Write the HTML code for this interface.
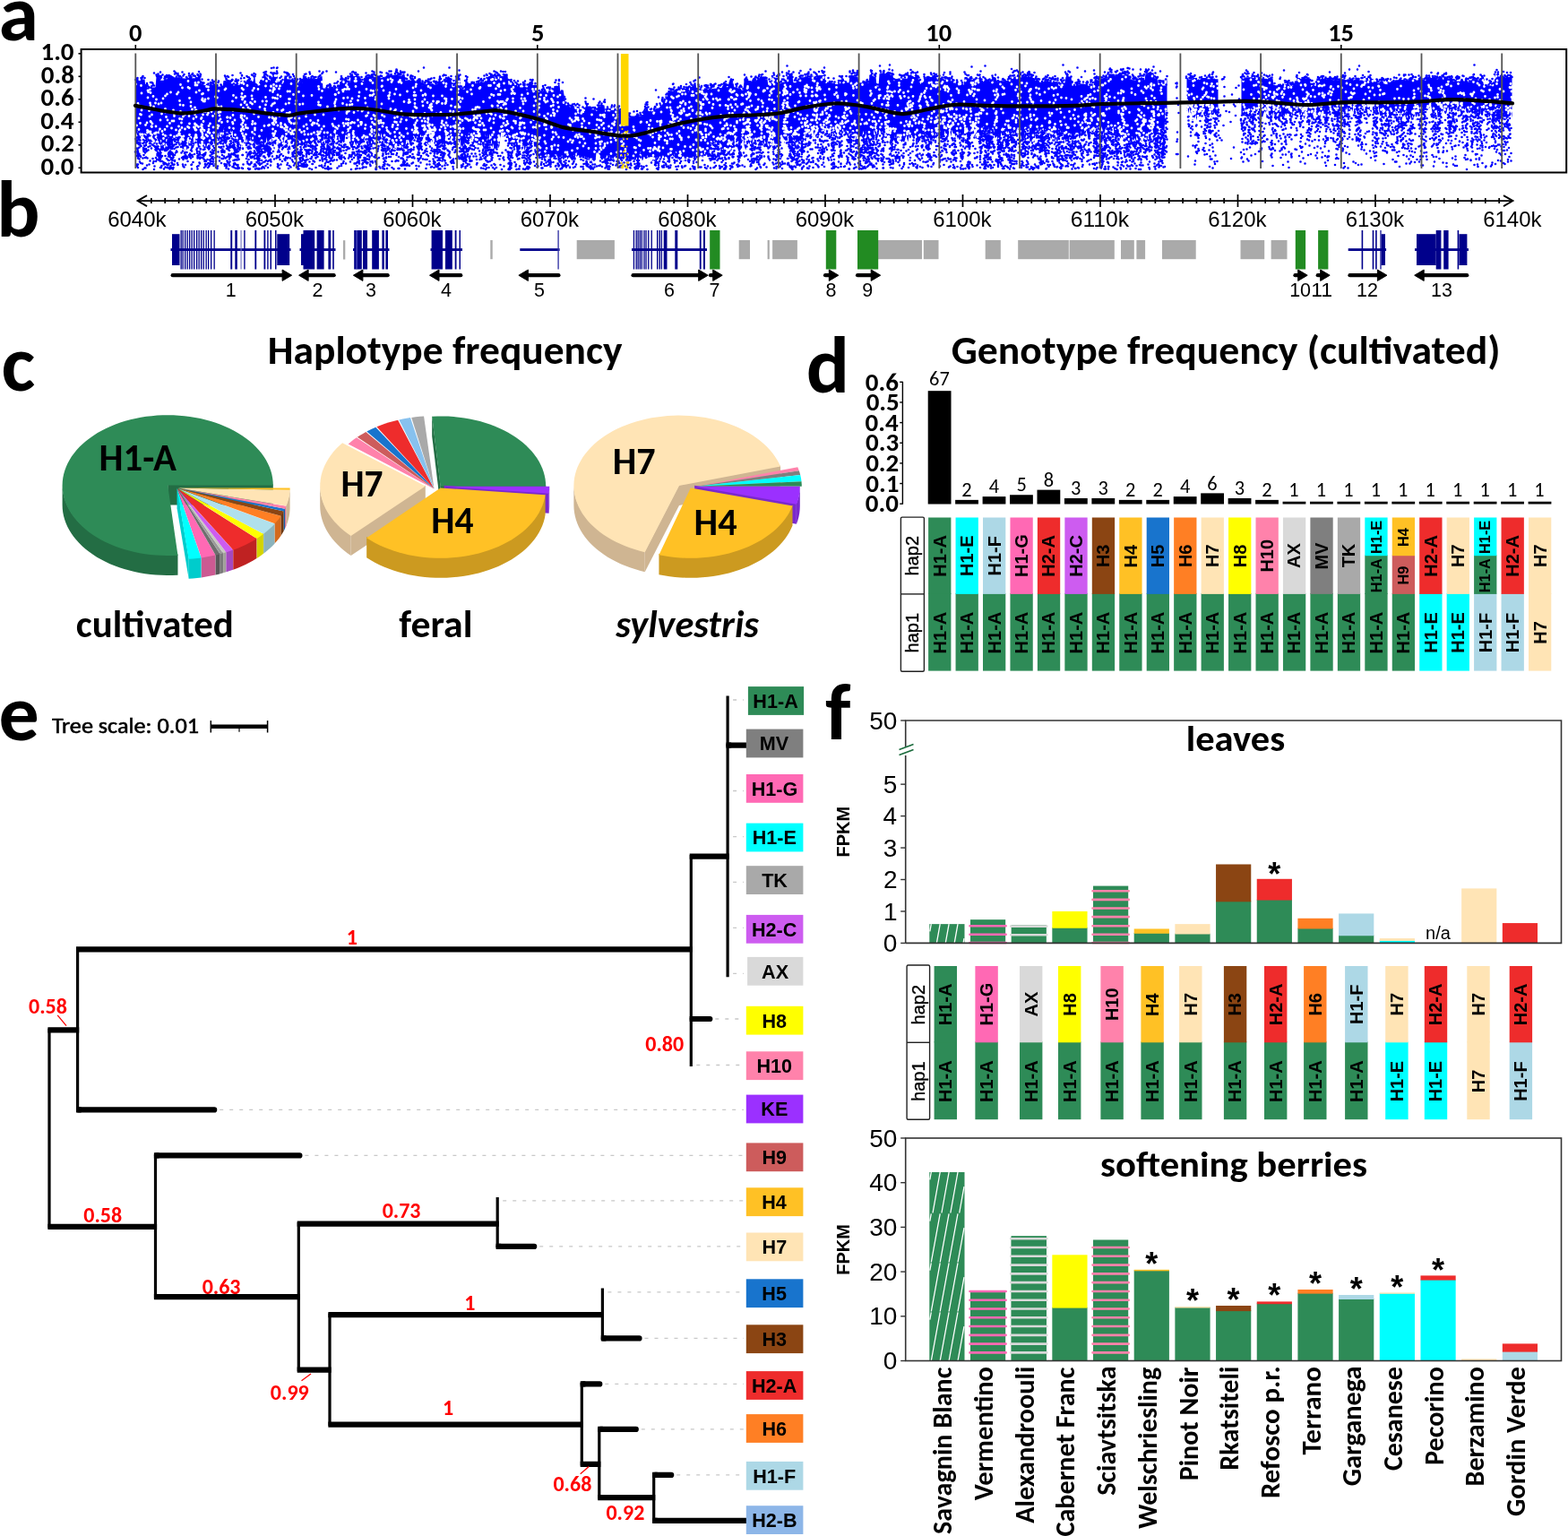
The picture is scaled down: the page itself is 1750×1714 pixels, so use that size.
<!DOCTYPE html>
<html><head><meta charset="utf-8"><title>Figure</title>
<style>html,body{margin:0;padding:0;background:#fff;}svg{display:block;}</style></head>
<body><svg width="1750" height="1714" viewBox="0 0 1750 1714">
<rect width="1750" height="1714" fill="#fff"/>
<text x="-1.61" y="44.8" font-family="Carlito, 'Liberation Sans', sans-serif" font-size="90" font-weight="bold" textLength="44.43" lengthAdjust="spacingAndGlyphs">a</text>
<text x="-3.85" y="264" font-family="Carlito, 'Liberation Sans', sans-serif" font-size="90" font-weight="bold" textLength="48.3" lengthAdjust="spacingAndGlyphs">b</text>
<text x="1.38" y="436.3" font-family="Carlito, 'Liberation Sans', sans-serif" font-size="90" font-weight="bold" textLength="37.66" lengthAdjust="spacingAndGlyphs">c</text>
<text x="899.63" y="438.4" font-family="Carlito, 'Liberation Sans', sans-serif" font-size="90" font-weight="bold" textLength="48.3" lengthAdjust="spacingAndGlyphs">d</text>
<text x="-1.57" y="826.3" font-family="Carlito, 'Liberation Sans', sans-serif" font-size="90" font-weight="bold" textLength="45.31" lengthAdjust="spacingAndGlyphs">e</text>
<text x="921.12" y="825.2" font-family="Carlito, 'Liberation Sans', sans-serif" font-size="90" font-weight="bold" textLength="28.48" lengthAdjust="spacingAndGlyphs">f</text>
<path d="M151.5 89.5 152.5 89.5 153.5 90.1 154.5 90.1 155.5 90.1 156.5 89.9 157.5 89.9 158.5 89.9 159.5 88.5 160.5 88.5 161.5 88.5 162.5 98 163.5 97.9 164.5 97.9 165.5 97.9 166.5 97.8 167.5 97.8 168.5 97.8 169.5 97.4 170.5 97.4 171.5 97.4 172.5 97.4 173.5 97.3 174.5 85.7 175.5 85.6 176.5 85.6 177.5 85.6 178.5 89.8 179.5 89.8 180.5 89.8 181.5 89.7 182.5 89.7 183.5 88.2 184.5 88.1 185.5 88.3 186.5 88.3 187.5 85.1 188.5 85.1 189.5 85.1 190.5 85.1 191.5 87 192.5 87 193.5 87 194.5 86.3 195.5 86.3 196.5 86.3 197.5 86.2 198.5 86.2 199.5 86.3 200.5 86.3 201.5 87.3 202.5 87.3 203.5 87.4 204.5 87.3 205.5 87.4 206.5 87.4 207.5 87.5 208.5 86.7 209.5 86.7 210.5 86.8 211.5 87 212.5 87.1 213.5 87.1 214.5 87.2 215.5 87.2 216.5 87.3 217.5 87.3 218.5 87.4 219.5 87.4 220.5 85.8 221.5 85.9 222.5 85.9 223.5 86 224.5 94.1 225.5 94.2 226.5 94.2 227.5 94.8 228.5 94.9 229.5 94.9 230.5 93.4 231.5 93.5 232.5 93.5 233.5 94.9 234.5 95 235.5 95 236.5 94.6 237.5 94.6 238.5 94.7 239.5 94.7 240.5 94.8 241.5 95.7 242.5 95.8 243.5 96.4 244.5 96.5 245.5 96.5 246.5 96.6 247.5 96.6 248.5 96.7 249.5 89.9 250.5 89.9 251.5 90 252.5 90.2 253.5 90.3 254.5 90.3 255.5 90.4 256.5 91.5 257.5 91.5 258.5 89.7 259.5 89.7 260.5 95.6 261.5 95.5 262.5 93.2 263.5 93.1 264.5 95 265.5 94.9 266.5 94.8 267.5 94.7 268.5 90.1 269.5 90 270.5 89.9 271.5 89.8 272.5 91.4 273.5 91.3 274.5 91.2 275.5 89.3 276.5 89.2 277.5 89.8 278.5 89.7 279.5 89.6 280.5 89.5 281.5 90.9 282.5 90.8 283.5 86 284.5 85.9 285.5 95.7 286.5 95.6 287.5 95.5 288.5 95.4 289.5 95.3 290.5 94.2 291.5 94.1 292.5 85.3 293.5 85.2 294.5 85.1 295.5 85 296.5 84.9 297.5 86.5 298.5 86.4 299.5 90.4 300.5 90.3 301.5 90.4 302.5 82 303.5 82.1 304.5 82.1 305.5 82.3 306.5 82.3 307.5 82.4 308.5 82.4 309.5 82.4 310.5 91.7 311.5 91.7 312.5 91.8 313.5 91.8 314.5 93.4 315.5 93.5 316.5 93.5 317.5 84.4 318.5 84.5 319.5 84.5 320.5 84 321.5 84.1 322.5 88.3 323.5 88.4 324.5 88.4 325.5 89 326.5 89 327.5 89.1 328.5 89.1 329.5 89.1 330.5 91.5 331.5 93.8 332.5 93.9 333.5 93.9 334.5 92.1 335.5 92.1 336.5 92.1 337.5 92.2 338.5 86.6 339.5 86.6 340.5 86.7 341.5 86.7 342.5 86.8 343.5 87.9 344.5 87.9 345.5 88 346.5 87.1 347.5 87.1 348.5 87.2 349.5 87.2 350.5 88.2 351.5 88.1 352.5 88.1 353.5 88.1 354.5 86.9 355.5 86.9 356.5 86.9 357.5 85.2 358.5 85.2 359.5 85.1 360.5 98.5 361.5 98.5 362.5 98.4 363.5 98.4 364.5 98.4 365.5 98.3 366.5 98.3 367.5 98.2 368.5 98.2 369.5 98.6 370.5 98.6 371.5 98.5 372.5 98.5 373.5 95.2 374.5 95.2 375.5 97.3 376.5 97.2 377.5 97.2 378.5 97.1 379.5 91 380.5 91 381.5 89.3 382.5 89.3 383.5 89.2 384.5 89.2 385.5 90 386.5 90 387.5 91 388.5 90.9 389.5 93.7 390.5 93.7 391.5 85.9 392.5 85.9 393.5 85.8 394.5 85 395.5 85 396.5 85 397.5 84.9 398.5 84.9 399.5 84.9 400.5 84.9 401.5 84.9 402.5 89.5 403.5 89.6 404.5 91.1 405.5 91.1 406.5 91.2 407.5 86 408.5 86.1 409.5 86.1 410.5 85.2 411.5 85.3 412.5 85.3 413.5 85.3 414.5 87.2 415.5 87.2 416.5 87.3 417.5 85.7 418.5 85.7 419.5 85.8 420.5 87 421.5 87.1 422.5 87.1 423.5 87.2 424.5 87.2 425.5 86.8 426.5 86.8 427.5 87.5 428.5 87.5 429.5 87.6 430.5 87.6 431.5 83.2 432.5 83.3 433.5 83.3 434.5 83.3 435.5 83.4 436.5 83.7 437.5 83.8 438.5 83.8 439.5 83.8 440.5 83.2 441.5 83.2 442.5 83.3 443.5 83.3 444.5 84.3 445.5 84.4 446.5 84.4 447.5 84.4 448.5 84.5 449.5 83 450.5 83 451.5 83 452.5 89.9 453.5 89.4 454.5 89.4 455.5 89.3 456.5 89.3 457.5 89.3 458.5 89.9 459.5 89.8 460.5 89.8 461.5 90.6 462.5 90.6 463.5 90.5 464.5 90.5 465.5 90.4 466.5 89.9 467.5 89.8 468.5 89 469.5 89 470.5 95.3 471.5 95.3 472.5 95.3 473.5 93.8 474.5 93.8 475.5 94.1 476.5 94 477.5 92.2 478.5 92.1 479.5 93.3 480.5 93.3 481.5 93.3 482.5 93.2 483.5 93.2 484.5 94.4 485.5 94.4 486.5 94.4 487.5 93.9 488.5 93.9 489.5 93.8 490.5 91.1 491.5 91 492.5 91 493.5 90.1 494.5 90 495.5 90 496.5 90 497.5 88.8 498.5 88.8 499.5 88.7 500.5 88.7 501.5 88.7 502.5 88.7 503.5 88.7 504.5 97.2 505.5 97.2 506.5 97.2 507.5 97.2 508.5 86.4 509.5 86.8 510.5 86.8 511.5 86.8 512.5 86.8 513.5 86.8 514.5 99.8 515.5 99.8 516.5 99.8 517.5 99.8 518.5 99.8 519.5 90.6 520.5 90.6 521.5 93.1 522.5 93.1 523.5 93.1 524.5 93.1 525.5 93.1 526.5 92.5 527.5 93 528.5 93 529.5 93 530.5 93 531.5 93 532.5 92.9 533.5 92.9 534.5 92.9 535.5 92.9 536.5 90.6 537.5 90.6 538.5 91.4 539.5 91.4 540.5 91.4 541.5 89.9 542.5 85.8 543.5 85.9 544.5 85.9 545.5 85 546.5 85 547.5 85.1 548.5 85.1 549.5 85.2 550.5 85.2 551.5 85.2 552.5 86.9 553.5 87 554.5 87 555.5 87 556.5 85.5 557.5 85.5 558.5 86 559.5 86.1 560.5 86.1 561.5 86.1 562.5 83.5 563.5 83.6 564.5 83.6 565.5 83.6 566.5 83.7 567.5 94.6 568.5 94.6 569.5 89.8 570.5 89.8 571.5 90.5 572.5 91.2 573.5 92.4 574.5 94.9 575.5 96.1 576.5 96.1 577.5 96.2 578.5 96.2 579.5 96.3 580.5 97.4 581.5 97.4 582.5 97.4 583.5 97.5 584.5 96.4 585.5 96.5 586.5 96.5 587.5 100.5 588.5 100.6 589.5 93.9 590.5 93.9 591.5 93.9 592.5 94 593.5 94 594.5 94.9 595.5 94.9 596.5 94.6 597.5 94.6 598.5 94.7 599.5 94.7 600.5 103.1 601.5 103.1 602.5 103.2 603.5 103.1 604.5 103.1 605.5 103.1 606.5 100.9 607.5 101.1 608.5 101.2 609.5 101.2 610.5 103.6 611.5 103.7 612.5 101.1 613.5 101.2 614.5 101.2 615.5 102.9 616.5 103 617.5 103 618.5 95.9 619.5 96 620.5 95.8 621.5 95.8 622.5 95.9 623.5 94.4 624.5 94.4 625.5 103.6 626.5 103.6 627.5 103.6 628.5 99.7 629.5 105.7 630.5 111.7 631.5 117.7 632.5 120.7 633.5 118.8 634.5 118.9 635.5 118.9 636.5 119.8 637.5 119.8 638.5 119.8 639.5 119.6 640.5 119.6 641.5 119.7 642.5 118.9 643.5 118.9 644.5 119 645.5 119 646.5 119 647.5 127.6 648.5 127.7 649.5 127.7 650.5 126.1 651.5 126.1 652.5 126.1 653.5 119.1 654.5 119.1 655.5 119.1 656.5 118.4 657.5 118.4 658.5 118.4 659.5 118.5 660.5 122.2 661.5 122.3 662.5 122.3 663.5 122.3 664.5 122.4 665.5 123.7 666.5 123.7 667.5 118.2 668.5 118.2 669.5 118.3 670.5 118.3 671.5 119.8 672.5 119.9 673.5 117.4 674.5 117.4 675.5 127.2 676.5 127.2 677.5 125.8 678.5 125.8 679.5 125.9 680.5 125.9 681.5 122.8 682.5 122.9 683.5 122.9 684.5 122.9 685.5 122.7 686.5 122.8 687.5 122.8 688.5 122.8 689.5 122.9 690.5 121.4 691.5 122.2 692.5 123 693.5 123.8 694.5 124.5 695.5 125.3 696.5 127.9 697.5 128.7 698.5 129.5 699.5 130.7 700.5 131 701.5 130.9 702.5 131.3 703.5 131.2 704.5 131.1 705.5 130.6 706.5 130.5 707.5 130.4 708.5 129 709.5 128.9 710.5 128.8 711.5 129.1 712.5 129 713.5 129.4 714.5 129.3 715.5 129.2 716.5 128.1 717.5 128 718.5 126.7 719.5 124.7 720.5 122.2 721.5 119.7 722.5 118.3 723.5 124.5 724.5 124.2 725.5 123.9 726.5 123.6 727.5 124.4 728.5 124 729.5 123.7 730.5 123.4 731.5 121.4 732.5 121.1 733.5 120.8 734.5 120.5 735.5 121.8 736.5 121.5 737.5 121.2 738.5 118.2 739.5 115.9 740.5 113.7 741.5 111.4 742.5 110.1 743.5 110.1 744.5 110.1 745.5 101 746.5 101 747.5 101 748.5 101.4 749.5 101.4 750.5 101.4 751.5 101.4 752.5 100.6 753.5 100.6 754.5 100.6 755.5 100.6 756.5 100.2 757.5 100.2 758.5 100.2 759.5 100.2 760.5 102.2 761.5 102.2 762.5 102.2 763.5 102.2 764.5 102.2 765.5 99.7 766.5 99.7 767.5 99.7 768.5 102.8 769.5 100.8 770.5 98.8 771.5 97.4 772.5 96.2 773.5 95.9 774.5 92.5 775.5 92.2 776.5 91.9 777.5 101.7 778.5 101.4 779.5 101.1 780.5 100.7 781.5 100.4 782.5 100.3 783.5 100.2 784.5 100.2 785.5 99.9 786.5 99.9 787.5 99.9 788.5 99.9 789.5 99.9 790.5 99.9 791.5 98.5 792.5 98.5 793.5 99.2 794.5 99.2 795.5 99.1 796.5 98.8 797.5 98.8 798.5 98.8 799.5 98.8 800.5 97.1 801.5 97.1 802.5 97.1 803.5 97.9 804.5 97.9 805.5 97.9 806.5 95.8 807.5 95.7 808.5 95.7 809.5 95.7 810.5 95.7 811.5 98 812.5 98 813.5 92 814.5 92 815.5 92 816.5 92 817.5 93.7 818.5 93.7 819.5 97.2 820.5 97.2 821.5 97.2 822.5 97.2 823.5 98.4 824.5 98.4 825.5 98.4 826.5 98.4 827.5 100.5 828.5 100.5 829.5 100.5 830.5 90 831.5 90 832.5 88.8 833.5 88.8 834.5 88.8 835.5 89.9 836.5 89.9 837.5 89.9 838.5 90.6 839.5 90.6 840.5 91.7 841.5 91.7 842.5 91.6 843.5 89.6 844.5 89.5 845.5 89.5 846.5 89.5 847.5 87.7 848.5 87.7 849.5 88.6 850.5 88.6 851.5 88.6 852.5 88.5 853.5 88.3 854.5 88.3 855.5 88.3 856.5 88.3 857.5 96.9 858.5 90 859.5 90 860.5 90 861.5 86.2 862.5 86.2 863.5 86.2 864.5 86.2 865.5 86.8 866.5 86.8 867.5 86.8 868.5 86.1 869.5 84.6 870.5 94.2 871.5 92.7 872.5 91.9 873.5 91.9 874.5 91.4 875.5 91.4 876.5 91.4 877.5 91.4 878.5 85 879.5 85 880.5 85 881.5 85.6 882.5 85.6 883.5 85.6 884.5 85.6 885.5 92.3 886.5 92.3 887.5 92.3 888.5 92.3 889.5 93.8 890.5 93.8 891.5 93.8 892.5 85.5 893.5 85.5 894.5 86.3 895.5 86.3 896.5 86.3 897.5 86.3 898.5 85.2 899.5 85.2 900.5 85.2 901.5 85.2 902.5 86.6 903.5 86.6 904.5 86.6 905.5 84.5 906.5 84.5 907.5 84.5 908.5 86.6 909.5 86.6 910.5 86.6 911.5 86.6 912.5 84.2 913.5 84.2 914.5 84.1 915.5 84.1 916.5 84.1 917.5 84.1 918.5 84.1 919.5 84.1 920.5 84.1 921.5 93.1 922.5 93.1 923.5 91.5 924.5 91.5 925.5 91.5 926.5 91.5 927.5 91.5 928.5 92.5 929.5 92.5 930.5 92.5 931.5 92.5 932.5 93.9 933.5 93.9 934.5 93.9 935.5 93.9 936.5 90.5 937.5 90.5 938.5 90.5 939.5 91.1 940.5 91.1 941.5 90.1 942.5 90.1 943.5 90.1 944.5 90.1 945.5 92.2 946.5 92.2 947.5 92.2 948.5 84 949.5 84 950.5 84 951.5 84 952.5 84 953.5 85.4 954.5 85.4 955.5 85.4 956.5 85.4 957.5 85.4 958.5 92.3 959.5 92.3 960.5 92.3 961.5 92.3 962.5 92.3 963.5 90.6 964.5 90.6 965.5 90.6 966.5 90.6 967.5 92.2 968.5 92.2 969.5 92.2 970.5 84.5 971.5 84.5 972.5 84.5 973.5 84.5 974.5 84.5 975.5 85.7 976.5 85.7 977.5 85.7 978.5 96.5 979.5 96.5 980.5 96.5 981.5 82.3 982.5 82.3 983.5 81.8 984.5 81.8 985.5 81.8 986.5 81.8 987.5 81.8 988.5 82.1 989.5 82.1 990.5 82.1 991.5 82.1 992.5 82.1 993.5 84.1 994.5 84.1 995.5 84.1 996.5 84.1 997.5 90.2 998.5 90.2 999.5 88.7 1000.5 88.7 1001.5 88.7 1002.5 88.7 1003.5 88.7 1004.5 89.3 1005.5 89.3 1006.5 89.3 1007.5 89 1008.5 89 1009.5 87.7 1010.5 87.7 1011.5 87.7 1012.5 87.7 1013.5 84.5 1014.5 84.5 1015.5 84.5 1016.5 84.5 1017.5 85.9 1018.5 85.9 1019.5 85.9 1020.5 85.9 1021.5 85.9 1022.5 85.6 1023.5 85.6 1024.5 85.6 1025.5 91.8 1026.5 91.8 1027.5 94.1 1028.5 94.1 1029.5 94.1 1030.5 94.1 1031.5 87.8 1032.5 87.8 1033.5 87.8 1034.5 87.6 1035.5 87.6 1036.5 87.6 1037.5 87.6 1038.5 87.6 1039.5 87.3 1040.5 87.3 1041.5 86.8 1042.5 86.8 1043.5 86.8 1044.5 88.5 1045.5 88.5 1046.5 88.5 1047.5 88.5 1048.5 86.8 1049.5 86.8 1050.5 86.8 1051.5 86.8 1052.5 87.6 1053.5 88.4 1054.5 88.4 1055.5 88.4 1056.5 88.3 1057.5 88.3 1058.5 87.5 1059.5 87.5 1060.5 87.5 1061.5 87.5 1062.5 87.5 1063.5 92.7 1064.5 92.4 1065.5 92.4 1066.5 92.4 1067.5 95.3 1068.5 95.3 1069.5 95.3 1070.5 95.3 1071.5 95.3 1072.5 94.9 1073.5 94.9 1074.5 94.9 1075.5 94.9 1076.5 86.1 1077.5 86.1 1078.5 86.1 1079.5 86.1 1080.5 89 1081.5 89 1082.5 89 1083.5 89.3 1084.5 89.3 1085.5 89.3 1086.5 87.6 1087.5 87.6 1088.5 87.6 1089.5 87.6 1090.5 87.6 1091.5 87.6 1092.5 87.6 1093.5 85 1094.5 85 1095.5 91.5 1096.5 91.5 1097.5 91 1098.5 91 1099.5 91 1100.5 91 1101.5 91.1 1102.5 91.1 1103.5 91.1 1104.5 91.1 1105.5 90.5 1106.5 90.5 1107.5 90.5 1108.5 90.1 1109.5 90.1 1110.5 89.8 1111.5 89.8 1112.5 89.8 1113.5 91.2 1114.5 91.2 1115.5 91.2 1116.5 91.2 1117.5 91.2 1118.5 90.2 1119.5 90.2 1120.5 90.2 1121.5 90.2 1122.5 90.1 1123.5 90.1 1124.5 90.1 1125.5 90.1 1126.5 91.3 1127.5 91.3 1128.5 83.4 1129.5 83.4 1130.5 85.5 1131.5 85.5 1132.5 85.5 1133.5 85.5 1134.5 85.5 1135.5 85 1136.5 85 1137.5 85 1138.5 85 1139.5 86.6 1140.5 86.6 1141.5 86.6 1142.5 86.6 1143.5 85.7 1144.5 85.7 1145.5 85.7 1146.5 85.7 1147.5 84.3 1148.5 84.3 1149.5 85.4 1150.5 87.1 1151.5 87.1 1152.5 87.1 1153.5 87.1 1154.5 87.1 1155.5 89.7 1156.5 89.7 1157.5 89.7 1158.5 89.7 1159.5 89.7 1160.5 91.9 1161.5 91.7 1162.5 91.7 1163.5 91.7 1164.5 90.9 1165.5 90.9 1166.5 90.9 1167.5 90.9 1168.5 90.6 1169.5 90.6 1170.5 90.6 1171.5 91.3 1172.5 91.3 1173.5 91.9 1174.5 91.9 1175.5 91.9 1176.5 91.9 1177.5 91.1 1178.5 91.1 1179.5 91.1 1180.5 91.1 1181.5 95.7 1182.5 95.7 1183.5 95.7 1184.5 91.9 1185.5 91.9 1186.5 91.9 1187.5 92.6 1188.5 92.6 1189.5 85.8 1190.5 85.8 1191.5 85.8 1192.5 85.8 1193.5 85.6 1194.5 85.6 1195.5 85.6 1196.5 95.7 1197.5 95.7 1198.5 95.7 1199.5 95.7 1200.5 95.7 1201.5 94.6 1202.5 94.6 1203.5 94.6 1204.5 94.6 1205.5 94.6 1206.5 93.5 1207.5 93.5 1208.5 93.5 1209.5 93.5 1210.5 94.1 1211.5 94.1 1212.5 94.1 1213.5 94.1 1214.5 95.8 1215.5 95.8 1216.5 95.4 1217.5 95.4 1218.5 95.4 1219.5 95.4 1220.5 95.4 1221.5 89.3 1222.5 89.3 1223.5 89.3 1224.5 89.3 1225.5 89.3 1226.5 89.3 1227.5 89.3 1228.5 87.9 1229.5 87.9 1230.5 87.9 1231.5 86.9 1232.5 86.9 1233.5 86.9 1234.5 87.6 1235.5 87.6 1236.5 87.6 1237.5 82.2 1238.5 82.2 1239.5 82.5 1240.5 82.5 1241.5 82.5 1242.5 82.5 1243.5 82.5 1244.5 84.9 1245.5 84.9 1246.5 83.6 1247.5 83.6 1248.5 83.6 1249.5 83.6 1250.5 83.7 1251.5 83.7 1252.5 83.7 1253.5 83.7 1254.5 83.7 1255.5 84.5 1256.5 82.4 1257.5 82.4 1258.5 82.4 1259.5 82.4 1260.5 88.5 1261.5 88.5 1262.5 88.5 1263.5 88.5 1264.5 89.5 1265.5 89.5 1266.5 89.7 1267.5 89.7 1268.5 89.7 1269.5 89.7 1270.5 88.2 1271.5 88.2 1272.5 88.2 1273.5 88.2 1274.5 89.5 1275.5 89.5 1276.5 89.5 1277.5 89.5 1278.5 82.2 1279.5 82.2 1280.5 82.2 1281.5 83.6 1282.5 83.6 1283.5 83.6 1284.5 81.2 1285.5 81.2 1286.5 81.2 1287.5 81.2 1288.5 87.2 1289.5 87.2 1290.5 87.2 1291.5 87.2 1292.5 94.8 1293.5 94.8 1294.5 94.1 1295.5 94.1 1296.5 94.1 1297.5 95.5 1298.5 95.5 1299.5 95.5 1300.5 95.5 1301.5 95.5 1302.5 85.1 1302.5 124.5 1301.5 123.7 1300.5 122.7 1299.5 147.2 1298.5 145.8 1297.5 145.6 1296.5 144.9 1295.5 140.3 1294.5 147.2 1293.5 146.6 1292.5 151.4 1291.5 146.5 1290.5 149.3 1289.5 148.4 1288.5 147.7 1287.5 149.5 1286.5 144.5 1285.5 145 1284.5 146.7 1283.5 147.3 1282.5 152.4 1281.5 146.8 1280.5 158 1279.5 153.6 1278.5 149.7 1277.5 152.8 1276.5 156.4 1275.5 151.5 1274.5 157.7 1273.5 157.1 1272.5 152.1 1271.5 155.5 1270.5 154.4 1269.5 154.3 1268.5 151.7 1267.5 158.2 1266.5 153.8 1265.5 156.7 1264.5 156 1263.5 152 1262.5 152.9 1261.5 158.1 1260.5 158.2 1259.5 158.9 1258.5 157.3 1257.5 156.7 1256.5 154.3 1255.5 153.4 1254.5 156.2 1253.5 153.5 1252.5 153.6 1251.5 151.7 1250.5 154.8 1249.5 152.8 1248.5 152.1 1247.5 155.8 1246.5 159.8 1245.5 141.5 1244.5 143 1243.5 148.8 1242.5 141.6 1241.5 142.7 1240.5 144.3 1239.5 144.3 1238.5 145.3 1237.5 144.9 1236.5 147.8 1235.5 142.4 1234.5 142.5 1233.5 144 1232.5 148.7 1231.5 148 1230.5 145.1 1229.5 140.9 1228.5 147.1 1227.5 141.6 1226.5 140.8 1225.5 145.5 1224.5 140.8 1223.5 149.2 1222.5 149.4 1221.5 142.6 1220.5 146.3 1219.5 148.4 1218.5 146.7 1217.5 144.4 1216.5 143.6 1215.5 155.3 1214.5 155.7 1213.5 148.9 1212.5 145.1 1211.5 149.4 1210.5 145.7 1209.5 150 1208.5 145.9 1207.5 148.2 1206.5 146.2 1205.5 154.1 1204.5 154.4 1203.5 148.4 1202.5 147.7 1201.5 153.6 1200.5 150.5 1199.5 149.9 1198.5 154.1 1197.5 148.4 1196.5 152.8 1195.5 149.2 1194.5 149.2 1193.5 154.2 1192.5 160.9 1191.5 155.6 1190.5 155 1189.5 159.6 1188.5 154.1 1187.5 158.2 1186.5 147.5 1185.5 145.3 1184.5 149 1183.5 146.1 1182.5 144.9 1181.5 142.7 1180.5 157.2 1179.5 159.4 1178.5 153.2 1177.5 159.8 1176.5 151.1 1175.5 154.7 1174.5 151.9 1173.5 154.9 1172.5 154 1171.5 148.7 1170.5 155.3 1169.5 150.4 1168.5 151.7 1167.5 146.5 1166.5 143 1165.5 147.7 1164.5 142.7 1163.5 143.5 1162.5 146.7 1161.5 139.7 1160.5 143.3 1159.5 147.9 1158.5 142.5 1157.5 147.5 1156.5 145.6 1155.5 146.1 1154.5 159.3 1153.5 158.3 1152.5 160.9 1151.5 160.9 1150.5 156.4 1149.5 160.3 1148.5 140.8 1147.5 140.2 1146.5 143 1145.5 143 1144.5 144.3 1143.5 146.5 1142.5 155.3 1141.5 158.4 1140.5 156.5 1139.5 152 1138.5 149.4 1137.5 149.3 1136.5 150.5 1135.5 141.6 1134.5 146.1 1133.5 149.8 1132.5 148.6 1131.5 144.4 1130.5 146.1 1129.5 148.5 1128.5 146.8 1127.5 145.3 1126.5 149.5 1125.5 145.9 1124.5 148.7 1123.5 143.3 1122.5 144.2 1121.5 153.2 1120.5 148.2 1119.5 155.7 1118.5 151.2 1117.5 147.4 1116.5 154 1115.5 156.1 1114.5 150.3 1113.5 156.1 1112.5 151.7 1111.5 153.6 1110.5 153.9 1109.5 145.2 1108.5 142.2 1107.5 142.6 1106.5 145.9 1105.5 145.4 1104.5 147.4 1103.5 142.4 1102.5 141.2 1101.5 146.6 1100.5 148.1 1099.5 148.7 1098.5 141.9 1097.5 140.7 1096.5 155.4 1095.5 153.6 1094.5 150.1 1093.5 152 1092.5 156.2 1091.5 155.6 1090.5 154.5 1089.5 154.9 1088.5 151 1087.5 152.5 1086.5 147 1085.5 149.5 1084.5 149.4 1083.5 147.1 1082.5 142.1 1081.5 146 1080.5 145.2 1079.5 141.8 1078.5 144 1077.5 145.2 1076.5 141.5 1075.5 152.9 1074.5 154.4 1073.5 154.4 1072.5 154.7 1071.5 147.7 1070.5 149.7 1069.5 148.6 1068.5 155.8 1067.5 149.1 1066.5 153.6 1065.5 148.9 1064.5 149.3 1063.5 148.5 1062.5 144.7 1061.5 152.4 1060.5 147 1059.5 144.6 1058.5 152.2 1057.5 152.2 1056.5 149 1055.5 148.9 1054.5 145.4 1053.5 152.4 1052.5 151.2 1051.5 152 1050.5 152.7 1049.5 153.1 1048.5 149.3 1047.5 151.4 1046.5 148 1045.5 155.2 1044.5 148.1 1043.5 150.8 1042.5 156.7 1041.5 152.1 1040.5 159.6 1039.5 162.8 1038.5 157.3 1037.5 153.9 1036.5 153.5 1035.5 151.9 1034.5 150 1033.5 149.7 1032.5 149.7 1031.5 147.5 1030.5 148.7 1029.5 150 1028.5 154.4 1027.5 153.7 1026.5 161 1025.5 156.2 1024.5 157.7 1023.5 156.2 1022.5 162.8 1021.5 149.6 1020.5 152.8 1019.5 154.2 1018.5 153.1 1017.5 150.8 1016.5 150.5 1015.5 155.1 1014.5 150.4 1013.5 158.2 1012.5 155.6 1011.5 150.8 1010.5 154.3 1009.5 153.2 1008.5 154.5 1007.5 156.4 1006.5 158.8 1005.5 157.6 1004.5 155.9 1003.5 157.1 1002.5 153 1001.5 154.5 1000.5 152 999.5 157.6 998.5 160.1 997.5 155.7 996.5 157.7 995.5 160 994.5 160 993.5 161.6 992.5 158.9 991.5 156.9 990.5 155.2 989.5 158.4 988.5 159.6 987.5 154.5 986.5 147 985.5 153.7 984.5 145.9 983.5 149.1 982.5 146.3 981.5 144.4 980.5 149 979.5 152 978.5 145 977.5 152.5 976.5 148.6 975.5 144.8 974.5 157.1 973.5 158.8 972.5 155.2 971.5 159.8 970.5 160.2 969.5 159.5 968.5 153 967.5 155.4 966.5 145.7 965.5 147.3 964.5 149.8 963.5 146.1 962.5 151 961.5 152.4 960.5 152.3 959.5 151.2 958.5 154.6 957.5 156 956.5 156 955.5 155.7 954.5 151.1 953.5 154.6 952.5 155 951.5 147.1 950.5 147.7 949.5 148.4 948.5 152.9 947.5 153.9 946.5 154 945.5 151.5 944.5 144.6 943.5 149.4 942.5 148.1 941.5 146.4 940.5 140.9 939.5 148.2 938.5 146.8 937.5 147.7 936.5 145.2 935.5 155.4 934.5 155.3 933.5 151 932.5 149.5 931.5 146.9 930.5 151.2 929.5 146.9 928.5 146.3 927.5 148.3 926.5 150.3 925.5 151.5 924.5 151.6 923.5 148.3 922.5 145.9 921.5 140.7 920.5 146 919.5 145.1 918.5 144.8 917.5 144.2 916.5 140 915.5 153.4 914.5 150.7 913.5 153.2 912.5 151.1 911.5 151.6 910.5 153.7 909.5 148.2 908.5 150.3 907.5 153.4 906.5 152.7 905.5 151.2 904.5 153 903.5 152.2 902.5 150.2 901.5 154.4 900.5 149.9 899.5 157.5 898.5 157.2 897.5 155.4 896.5 158.9 895.5 153.9 894.5 156.3 893.5 157.8 892.5 156.7 891.5 159.9 890.5 156.7 889.5 162.8 888.5 152.8 887.5 154.7 886.5 157.9 885.5 153.9 884.5 150.9 883.5 150.4 882.5 152.6 881.5 150.7 880.5 156.8 879.5 153.2 878.5 158.1 877.5 155 876.5 154.8 875.5 160.4 874.5 154 873.5 153.2 872.5 158.3 871.5 155.3 870.5 161.5 869.5 160.9 868.5 165.8 867.5 163.2 866.5 166.2 865.5 160.2 864.5 160.4 863.5 155.4 862.5 158.4 861.5 162.7 860.5 163.5 859.5 164.7 858.5 162.7 857.5 153.2 856.5 158.9 855.5 161.3 854.5 159.5 853.5 155.9 852.5 161.5 851.5 163.5 850.5 159.3 849.5 162.8 848.5 156 847.5 152.8 846.5 152.7 845.5 157.3 844.5 157.4 843.5 152.9 842.5 150.9 841.5 157.1 840.5 153.1 839.5 162 838.5 160.5 837.5 157.1 836.5 161.2 835.5 158.8 834.5 161.3 833.5 160.9 832.5 167.5 831.5 165.5 830.5 162.4 829.5 153.2 828.5 159.1 827.5 152.4 826.5 156.1 825.5 156.4 824.5 159.1 823.5 152.1 822.5 159.2 821.5 158.8 820.5 154.8 819.5 156.9 818.5 157.6 817.5 156.5 816.5 168.2 815.5 167.4 814.5 171.9 813.5 167.2 812.5 170.7 811.5 173.9 810.5 172.1 809.5 168.9 808.5 170.3 807.5 167.9 806.5 173.8 805.5 161.8 804.5 160.8 803.5 159.2 802.5 162.7 801.5 160.4 800.5 166.6 799.5 155.7 798.5 160.3 797.5 157 796.5 157.3 795.5 159.5 794.5 159.7 793.5 161.1 792.5 153.9 791.5 173.7 790.5 169.4 789.5 172.7 788.5 170.3 787.5 173.8 786.5 169.3 785.5 172.7 784.5 175.9 783.5 174 782.5 174.9 781.5 173.4 780.5 175.7 779.5 173.6 778.5 174.3 777.5 176.7 776.5 174.7 775.5 174.3 774.5 172.6 773.5 174.9 772.5 176.3 771.5 176.1 770.5 175.9 769.5 176.5 768.5 176.5 767.5 173.9 766.5 175.5 765.5 174.2 764.5 179.1 763.5 176.1 762.5 180.2 761.5 175.8 760.5 177.6 759.5 177.9 758.5 178.9 757.5 177.2 756.5 178 755.5 171.5 754.5 173.2 753.5 169.3 752.5 172.2 751.5 175.1 750.5 172.7 749.5 174.2 748.5 174.4 747.5 179.5 746.5 177.7 745.5 178.5 744.5 175.7 743.5 175 742.5 174.6 741.5 176.5 740.5 173.8 739.5 173.6 738.5 177.2 737.5 176.4 736.5 174 735.5 176.1 734.5 177.2 733.5 173.7 732.5 174.2 731.5 177.4 730.5 180.8 729.5 179 728.5 179.4 727.5 179.4 726.5 178.9 725.5 177.3 724.5 181.4 723.5 176.2 722.5 173.2 721.5 174.8 720.5 176.1 719.5 175.4 718.5 174.7 717.5 178.8 716.5 178.7 715.5 169.7 714.5 169.6 713.5 173.6 712.5 180 711.5 179.7 710.5 175.2 709.5 178 708.5 175.9 707.5 177.8 706.5 174.6 705.5 174.7 704.5 173.7 703.5 175 702.5 176.8 701.5 171.4 700.5 172.8 699.5 173.6 698.5 174.4 697.5 174.8 696.5 173.8 695.5 175.7 694.5 173.9 693.5 171.9 692.5 171.4 691.5 174.1 690.5 174.2 689.5 175.7 688.5 173.3 687.5 173.9 686.5 174.4 685.5 175.3 684.5 177.3 683.5 176.6 682.5 176.6 681.5 180.4 680.5 174.7 679.5 173.2 678.5 176.1 677.5 172.8 676.5 175.6 675.5 177.5 674.5 177.4 673.5 176.7 672.5 176.4 671.5 175.2 670.5 175.4 669.5 172.7 668.5 171.7 667.5 170.1 666.5 170.8 665.5 170.2 664.5 179.5 663.5 175.1 662.5 175.2 661.5 178.9 660.5 178.5 659.5 180 658.5 175.3 657.5 180.2 656.5 175.5 655.5 176.7 654.5 175.6 653.5 176.5 652.5 172.4 651.5 171.9 650.5 172.1 649.5 173.7 648.5 173.6 647.5 172.2 646.5 173.9 645.5 172.4 644.5 174.3 643.5 174.8 642.5 172.8 641.5 175.8 640.5 173 639.5 175.1 638.5 177 637.5 174.2 636.5 176 635.5 175.6 634.5 175.7 633.5 178.2 632.5 174.7 631.5 176.7 630.5 175.7 629.5 178 628.5 178.3 627.5 171.4 626.5 174.3 625.5 173.9 624.5 170.9 623.5 173.5 622.5 172.9 621.5 171.4 620.5 172.8 619.5 171.8 618.5 176.1 617.5 175.2 616.5 175.5 615.5 175.5 614.5 175.3 613.5 174.5 612.5 176.9 611.5 178.4 610.5 175.2 609.5 171.2 608.5 173.3 607.5 171.1 606.5 171 605.5 171 604.5 173.8 603.5 171.1 602.5 174.9 601.5 175.7 600.5 175.1 599.5 174 598.5 174.2 597.5 170.4 596.5 169.6 595.5 157.1 594.5 157.9 593.5 159.7 592.5 157.5 591.5 162 590.5 162.7 589.5 154.3 588.5 158.1 587.5 159 586.5 164.8 585.5 168.5 584.5 162.3 583.5 163.4 582.5 168 581.5 163.4 580.5 167 579.5 167.3 578.5 167.3 577.5 168.6 576.5 168 575.5 159.8 574.5 161.7 573.5 162.9 572.5 160.2 571.5 160.8 570.5 157.3 569.5 157.8 568.5 162.3 567.5 159.2 566.5 147.6 565.5 151 564.5 150.7 563.5 153.1 562.5 151.5 561.5 153.1 560.5 150.7 559.5 147 558.5 152.8 557.5 162.6 556.5 165.5 555.5 159.3 554.5 162.3 553.5 167 552.5 165.4 551.5 167.5 550.5 160.1 549.5 165.8 548.5 150.5 547.5 152.5 546.5 149.5 545.5 156 544.5 150.7 543.5 151 542.5 148.8 541.5 149.7 540.5 163.6 539.5 164.5 538.5 163 537.5 157.5 536.5 160.2 535.5 161.2 534.5 161.1 533.5 162.6 532.5 158.4 531.5 156.2 530.5 157.2 529.5 157.4 528.5 161.6 527.5 162.9 526.5 159.8 525.5 153.6 524.5 152.2 523.5 147.6 522.5 150.2 521.5 154.6 520.5 154.3 519.5 147.4 518.5 164.7 517.5 160.1 516.5 166.7 515.5 161.4 514.5 165.8 513.5 154.9 512.5 159.9 511.5 155.9 510.5 155.1 509.5 161 508.5 153.7 507.5 157.1 506.5 159.1 505.5 160.2 504.5 155.2 503.5 152.2 502.5 156.8 501.5 148.7 500.5 151.5 499.5 152.3 498.5 151.7 497.5 150.2 496.5 157.1 495.5 164.4 494.5 159.2 493.5 165 492.5 159.9 491.5 158.1 490.5 163.1 489.5 157.4 488.5 161.4 487.5 161.2 486.5 156 485.5 161.6 484.5 160.1 483.5 157.7 482.5 158.5 481.5 155.7 480.5 157.7 479.5 164.3 478.5 167.5 477.5 170.8 476.5 149.9 475.5 155.7 474.5 154.1 473.5 148.1 472.5 154.2 471.5 147.7 470.5 153.7 469.5 148.1 468.5 155.1 467.5 156 466.5 153.7 465.5 151.6 464.5 154.3 463.5 154.9 462.5 152.2 461.5 150.8 460.5 157.3 459.5 153.9 458.5 160.1 457.5 161.4 456.5 157.5 455.5 152.9 454.5 158.8 453.5 153.4 452.5 164.1 451.5 163.2 450.5 166.8 449.5 162.6 448.5 165.4 447.5 165.6 446.5 165.2 445.5 159.3 444.5 158.9 443.5 161 442.5 164.9 441.5 166.2 440.5 166.1 439.5 163.5 438.5 167 437.5 162.3 436.5 164.6 435.5 166.5 434.5 168.6 433.5 167.7 432.5 168.9 431.5 167.6 430.5 152.6 429.5 153 428.5 150.2 427.5 154.7 426.5 153.2 425.5 148.5 424.5 153.4 423.5 149.8 422.5 148 421.5 152.5 420.5 153 419.5 145.8 418.5 152.1 417.5 146.7 416.5 151.2 415.5 156.1 414.5 155 413.5 164 412.5 164 411.5 158.3 410.5 156.4 409.5 155.7 408.5 150.8 407.5 150.8 406.5 156.1 405.5 164.7 404.5 160 403.5 160 402.5 160.8 401.5 163.7 400.5 158.8 399.5 161.2 398.5 158.9 397.5 162.6 396.5 159.9 395.5 157.6 394.5 161.2 393.5 164.6 392.5 159.2 391.5 159.1 390.5 148 389.5 154.8 388.5 148.5 387.5 153.3 386.5 145.3 385.5 149.2 384.5 158.5 383.5 159.6 382.5 157.3 381.5 161.4 380.5 152.5 379.5 156.2 378.5 152.7 377.5 150.8 376.5 153.6 375.5 156.7 374.5 147.1 373.5 155 372.5 154.5 371.5 147.2 370.5 152.8 369.5 152.4 368.5 154.1 367.5 151 366.5 157.4 365.5 151.1 364.5 154.9 363.5 154.6 362.5 152.5 361.5 151.2 360.5 159.1 359.5 164.9 358.5 163 357.5 158 356.5 156 355.5 152.6 354.5 156 353.5 151.1 352.5 154.5 351.5 149.8 350.5 157.1 349.5 157.6 348.5 159.6 347.5 160 346.5 159.6 345.5 160.9 344.5 160.3 343.5 159.5 342.5 162.7 341.5 159.9 340.5 161 339.5 163.8 338.5 161.4 337.5 158.4 336.5 161.3 335.5 159.7 334.5 162.2 333.5 155.4 332.5 157.8 331.5 154.3 330.5 160.6 329.5 154 328.5 153.7 327.5 152.9 326.5 160.6 325.5 157.4 324.5 167 323.5 163.7 322.5 165.7 321.5 165.6 320.5 163.5 319.5 156.9 318.5 150.7 317.5 153 316.5 161.1 315.5 163.3 314.5 165 313.5 160.7 312.5 166.1 311.5 162.5 310.5 161.3 309.5 161.4 308.5 161 307.5 160.7 306.5 166.4 305.5 166.3 304.5 155.8 303.5 159.1 302.5 153.1 301.5 151.9 300.5 157.4 299.5 157.8 298.5 159.1 297.5 153.1 296.5 163.2 295.5 161.7 294.5 164.3 293.5 158 292.5 159.7 291.5 157.2 290.5 157 289.5 163.8 288.5 163 287.5 156 286.5 155.8 285.5 156 284.5 159.4 283.5 162.7 282.5 147.4 281.5 152.7 280.5 158.5 279.5 152.4 278.5 153.4 277.5 157.9 276.5 158.7 275.5 154.6 274.5 166 273.5 160.9 272.5 160.1 271.5 157.7 270.5 163.4 269.5 161.5 268.5 164.9 267.5 159 266.5 157.8 265.5 157.7 264.5 164.4 263.5 155.3 262.5 160.4 261.5 156.4 260.5 158.9 259.5 144.5 258.5 147.9 257.5 144.7 256.5 145.3 255.5 150.2 254.5 149.1 253.5 143.2 252.5 145.6 251.5 142.9 250.5 142.8 249.5 143.3 248.5 150.9 247.5 151.7 246.5 151.6 245.5 146.4 244.5 154.2 243.5 147.6 242.5 152.4 241.5 151.5 240.5 158.9 239.5 161.4 238.5 157.7 237.5 155.6 236.5 156.8 235.5 163.1 234.5 158.9 233.5 158.1 232.5 160.6 231.5 157 230.5 164.5 229.5 165.1 228.5 157.3 227.5 164.9 226.5 163.5 225.5 162.1 224.5 160.1 223.5 160.9 222.5 159.6 221.5 166.4 220.5 162.2 219.5 155.8 218.5 158.3 217.5 159.6 216.5 164 215.5 157.9 214.5 158.3 213.5 158.1 212.5 153.2 211.5 154.9 210.5 162.5 209.5 165 208.5 168.1 207.5 163.1 206.5 168.1 205.5 166.2 204.5 166.5 203.5 166.3 202.5 161.6 201.5 161.5 200.5 154.2 199.5 158 198.5 160.1 197.5 155.7 196.5 153.5 195.5 157.3 194.5 158.8 193.5 153.9 192.5 153.5 191.5 159.2 190.5 152.9 189.5 154.6 188.5 150.8 187.5 150.7 186.5 151.4 185.5 153 184.5 163.2 183.5 162.1 182.5 163.4 181.5 163.5 180.5 159.4 179.5 163.1 178.5 160.2 177.5 143.9 176.5 146.6 175.5 148.6 174.5 149.2 173.5 160.4 172.5 160.6 171.5 161.5 170.5 157.4 169.5 158.5 168.5 158.4 167.5 158.9 166.5 158.4 165.5 158 164.5 156.4 163.5 149.6 162.5 149.5 161.5 154.6 160.5 150.2 159.5 148.1 158.5 151.8 157.5 151.9 156.5 147.6 155.5 146.9 154.5 148.2 153.5 146.3 152.5 148.8 151.5 148.6Z M1324.5 86.8 1325.5 86.8 1326.5 88.6 1327.5 88.6 1328.5 88.6 1329.5 88.6 1330.5 88.3 1331.5 86.9 1332.5 86.9 1333.5 86.9 1334.5 86.9 1335.5 89.1 1336.5 89.1 1337.5 88.2 1338.5 88.7 1339.5 88.7 1340.5 87.1 1341.5 87.1 1342.5 87.1 1343.5 87.1 1344.5 86.9 1345.5 86.9 1346.5 86.9 1347.5 88.2 1348.5 88.2 1349.5 88.2 1350.5 88.2 1351.5 87.4 1352.5 87.4 1353.5 87.4 1354.5 87.4 1355.5 87.4 1356.5 88.3 1357.5 88.3 1358.5 88.3 1359.5 88.3 1359.5 128.3 1358.5 124.1 1357.5 127.7 1356.5 128.3 1355.5 125.3 1354.5 128.4 1353.5 123.3 1352.5 131.7 1351.5 125.5 1350.5 128.2 1349.5 124.5 1348.5 124.1 1347.5 130.8 1346.5 129 1345.5 126.5 1344.5 129.9 1343.5 128.3 1342.5 124.1 1341.5 123.9 1340.5 127.5 1339.5 130.3 1338.5 130 1337.5 131.3 1336.5 128.7 1335.5 134.5 1334.5 127.3 1333.5 132.6 1332.5 127.6 1331.5 133.6 1330.5 134.1 1329.5 125.4 1328.5 125.7 1327.5 119.4 1326.5 126.8 1325.5 121.5 1324.5 124.3Z M1385.5 86.9 1386.5 86.9 1387.5 88.6 1388.5 88.6 1389.5 87.9 1390.5 87.9 1391.5 86.7 1392.5 86.7 1393.5 86.2 1394.5 86.2 1395.5 86.2 1396.5 86.2 1397.5 86.2 1398.5 87.1 1399.5 87.1 1400.5 87.1 1401.5 87.1 1402.5 86.4 1403.5 86.4 1404.5 86.4 1405.5 87.3 1406.5 87.3 1407.5 87.4 1408.5 87.4 1409.5 87.8 1410.5 87.8 1411.5 87.8 1412.5 87.8 1413.5 87.8 1414.5 88.3 1415.5 88.3 1416.5 87.6 1417.5 87.6 1418.5 87.5 1419.5 87.5 1420.5 87.5 1421.5 94.7 1422.5 94.7 1423.5 95.3 1424.5 95.3 1425.5 95.3 1426.5 93.7 1427.5 93.7 1428.5 93.4 1429.5 93.4 1430.5 94.9 1431.5 94.9 1432.5 94.9 1433.5 94.9 1434.5 93.9 1435.5 93.9 1436.5 93.9 1437.5 93.9 1438.5 93.9 1439.5 95.8 1440.5 95.8 1441.5 95.8 1442.5 95.8 1443.5 95.1 1444.5 95.1 1445.5 95.1 1446.5 95.1 1447.5 87 1448.5 87 1449.5 87 1450.5 87.1 1451.5 88.1 1452.5 88.1 1453.5 88.1 1454.5 87.5 1455.5 87.5 1456.5 87.5 1457.5 87.5 1458.5 87.5 1459.5 86.2 1460.5 86.2 1461.5 86.2 1462.5 92.7 1463.5 92.7 1464.5 92.7 1465.5 97.6 1466.5 97.6 1467.5 97.6 1468.5 97.6 1469.5 88.9 1470.5 88.9 1471.5 88.9 1472.5 88.9 1473.5 88.9 1474.5 88.1 1475.5 88.1 1476.5 88.1 1477.5 88.1 1478.5 88.1 1479.5 88.7 1480.5 88.7 1481.5 88.7 1482.5 88.3 1483.5 88.3 1484.5 88.3 1485.5 88.3 1486.5 88.3 1487.5 89.2 1488.5 89.2 1489.5 89.2 1490.5 89.5 1491.5 89.5 1492.5 89.5 1493.5 89.2 1494.5 89.2 1495.5 88.7 1496.5 88.7 1497.5 88.3 1498.5 88.3 1499.5 88.3 1500.5 88.3 1501.5 89.1 1502.5 89.1 1503.5 89.1 1504.5 90.7 1505.5 90.7 1506.5 90.7 1507.5 90.6 1508.5 90.6 1509.5 90.6 1510.5 90.6 1511.5 90.6 1512.5 90.1 1513.5 90.1 1514.5 90.1 1515.5 88.5 1516.5 88.5 1517.5 89.4 1518.5 89.4 1519.5 89.4 1520.5 89.4 1521.5 90.4 1522.5 90.4 1523.5 90.4 1524.5 92.5 1525.5 92.5 1526.5 84.6 1527.5 84.6 1528.5 84.6 1529.5 84.6 1530.5 88.1 1531.5 88.1 1532.5 88.1 1533.5 91.2 1534.5 91.3 1535.5 91.3 1536.5 91.3 1537.5 92.4 1538.5 92.4 1539.5 92.4 1540.5 90.4 1541.5 90.4 1542.5 90.4 1543.5 90.4 1544.5 93.4 1545.5 93.4 1546.5 93.9 1547.5 93.9 1548.5 93.9 1549.5 92.9 1550.5 92.9 1551.5 93 1552.5 93 1553.5 93 1554.5 90.4 1555.5 90.4 1556.5 90.4 1557.5 89.3 1558.5 89.3 1559.5 89.3 1560.5 89.3 1561.5 88.7 1562.5 88.7 1563.5 88.7 1564.5 89 1565.5 89 1566.5 89 1567.5 89 1568.5 90.1 1569.5 90.1 1570.5 90.1 1571.5 90.1 1572.5 88.5 1573.5 88.5 1574.5 88.7 1575.5 88.7 1576.5 88.3 1577.5 88.3 1578.5 88.3 1579.5 88.3 1580.5 89.6 1581.5 89.6 1582.5 89.6 1583.5 88.6 1584.5 88.6 1585.5 88.6 1586.5 88.6 1587.5 88.6 1588.5 88.8 1589.5 88.8 1590.5 89.8 1591.5 89.8 1592.5 89.8 1593.5 89 1594.5 89 1595.5 87.1 1596.5 87.1 1597.5 87.1 1598.5 86 1599.5 86 1600.5 86 1601.5 86 1602.5 86 1603.5 88.5 1604.5 88.5 1605.5 87.1 1606.5 87.1 1607.5 87.1 1608.5 88.7 1609.5 88.7 1610.5 88.7 1611.5 88.7 1612.5 88.7 1613.5 86.6 1614.5 86.6 1615.5 86.6 1616.5 88.9 1617.5 88.9 1618.5 88.9 1619.5 88.9 1620.5 88.9 1621.5 90.6 1622.5 90.6 1623.5 90.6 1624.5 90.6 1625.5 90.6 1626.5 90.7 1627.5 90.7 1628.5 90.7 1629.5 90.7 1630.5 89 1631.5 89 1632.5 89 1633.5 90.4 1634.5 90.4 1635.5 90.4 1636.5 89.7 1637.5 89.7 1638.5 91.4 1639.5 91.4 1640.5 91.4 1641.5 89.2 1642.5 89.2 1643.5 89.2 1644.5 89.2 1645.5 89.2 1646.5 89.8 1647.5 89.8 1648.5 89.9 1649.5 89.9 1650.5 89.9 1651.5 88.6 1652.5 88.6 1653.5 87.7 1654.5 87.7 1655.5 87.7 1656.5 87.7 1657.5 95.2 1658.5 95.2 1659.5 95.2 1660.5 95.2 1661.5 95.6 1662.5 95.6 1663.5 95.6 1664.5 95.6 1665.5 93.6 1666.5 93.6 1667.5 93.6 1668.5 83.2 1669.5 83.2 1670.5 83.7 1671.5 83.7 1672.5 85.4 1673.5 85.4 1674.5 85.4 1675.5 86 1676.5 86 1677.5 86.7 1678.5 86.7 1679.5 86.7 1680.5 86.7 1681.5 86.7 1682.5 85.9 1683.5 85.9 1684.5 85.9 1685.5 86 1686.5 86 1687.5 86 1687.5 131.5 1686.5 125.8 1685.5 126.7 1684.5 126.7 1683.5 131.5 1682.5 131.5 1681.5 133.6 1680.5 131.1 1679.5 127.7 1678.5 126.3 1677.5 125.5 1676.5 120.8 1675.5 119.2 1674.5 126.4 1673.5 119 1672.5 118.8 1671.5 118.6 1670.5 120.6 1669.5 122.5 1668.5 121 1667.5 127 1666.5 132.3 1665.5 132.3 1664.5 128.5 1663.5 127.8 1662.5 130.8 1661.5 129.4 1660.5 123.1 1659.5 120.8 1658.5 121.1 1657.5 121.4 1656.5 124.6 1655.5 123.5 1654.5 134.7 1653.5 132.8 1652.5 122.5 1651.5 120 1650.5 126.4 1649.5 124.6 1648.5 127 1647.5 123.1 1646.5 121.8 1645.5 124 1644.5 120.4 1643.5 120.2 1642.5 123.3 1641.5 121.9 1640.5 122.7 1639.5 118.3 1638.5 126.4 1637.5 126.1 1636.5 124.9 1635.5 119.8 1634.5 122.6 1633.5 120.7 1632.5 126.4 1631.5 124.4 1630.5 123 1629.5 124.3 1628.5 121.3 1627.5 120.4 1626.5 118.7 1625.5 120.8 1624.5 118.3 1623.5 122.3 1622.5 117.5 1621.5 123.5 1620.5 122.4 1619.5 119.1 1618.5 119.6 1617.5 125.2 1616.5 119.4 1615.5 120.6 1614.5 125.6 1613.5 127.3 1612.5 126.6 1611.5 123.8 1610.5 123 1609.5 124.8 1608.5 127 1607.5 122.3 1606.5 124.6 1605.5 121.8 1604.5 128 1603.5 121.8 1602.5 127.9 1601.5 131.9 1600.5 125.6 1599.5 128.7 1598.5 126.1 1597.5 118.7 1596.5 118.4 1595.5 120.5 1594.5 120.7 1593.5 123.1 1592.5 122.8 1591.5 120.1 1590.5 120.7 1589.5 125.3 1588.5 123.7 1587.5 131.8 1586.5 132.2 1585.5 131.7 1584.5 133 1583.5 128.4 1582.5 127.2 1581.5 127.8 1580.5 135.3 1579.5 126.2 1578.5 130 1577.5 131.7 1576.5 128 1575.5 134.7 1574.5 129.7 1573.5 127.4 1572.5 130.2 1571.5 132.1 1570.5 127.4 1569.5 133.3 1568.5 129.6 1567.5 124.9 1566.5 129.7 1565.5 130.8 1564.5 128.4 1563.5 125.3 1562.5 130.9 1561.5 122.4 1560.5 125.2 1559.5 123 1558.5 126.9 1557.5 125.6 1556.5 132.8 1555.5 131.8 1554.5 126.1 1553.5 128 1552.5 130.4 1551.5 124.6 1550.5 128.8 1549.5 129.6 1548.5 132.2 1547.5 131.5 1546.5 127.8 1545.5 130.7 1544.5 133.6 1543.5 130.2 1542.5 128.6 1541.5 133 1540.5 132.1 1539.5 125.3 1538.5 118.3 1537.5 122.8 1536.5 123.4 1535.5 125.8 1534.5 118.8 1533.5 118.8 1532.5 124.9 1531.5 120 1530.5 125.4 1529.5 124 1528.5 122.4 1527.5 122.1 1526.5 122.1 1525.5 118.9 1524.5 121.1 1523.5 119.7 1522.5 124.6 1521.5 120.9 1520.5 119.7 1519.5 119.2 1518.5 121.4 1517.5 122.3 1516.5 123.7 1515.5 119.5 1514.5 124.5 1513.5 122.5 1512.5 122.5 1511.5 124.9 1510.5 118.2 1509.5 124.9 1508.5 119.6 1507.5 122 1506.5 118.8 1505.5 119.6 1504.5 126.5 1503.5 119.4 1502.5 122.6 1501.5 121.3 1500.5 120.4 1499.5 125 1498.5 123.8 1497.5 119.1 1496.5 123.5 1495.5 124.1 1494.5 122.2 1493.5 118.7 1492.5 123.1 1491.5 122 1490.5 119.4 1489.5 120 1488.5 118.2 1487.5 126 1486.5 120 1485.5 123.4 1484.5 120.1 1483.5 125.3 1482.5 122.6 1481.5 126.1 1480.5 121.8 1479.5 122.8 1478.5 121.4 1477.5 121.9 1476.5 122.4 1475.5 124.2 1474.5 125.5 1473.5 131.4 1472.5 132 1471.5 131.2 1470.5 131.6 1469.5 134.7 1468.5 132.2 1467.5 136 1466.5 130.5 1465.5 135.8 1464.5 137.1 1463.5 134.9 1462.5 133.1 1461.5 134 1460.5 128.3 1459.5 133.1 1458.5 132.2 1457.5 129.8 1456.5 130 1455.5 132.9 1454.5 129.5 1453.5 129.8 1452.5 124.9 1451.5 128.6 1450.5 127.9 1449.5 121 1448.5 119.8 1447.5 123.5 1446.5 123.7 1445.5 124.9 1444.5 127.8 1443.5 128.4 1442.5 129.2 1441.5 126.2 1440.5 125.6 1439.5 126.3 1438.5 123.4 1437.5 124 1436.5 123.4 1435.5 128.4 1434.5 126.3 1433.5 130.4 1432.5 128.5 1431.5 129 1430.5 127.6 1429.5 120.5 1428.5 120 1427.5 130.8 1426.5 130.3 1425.5 127.8 1424.5 128.5 1423.5 126.3 1422.5 130.3 1421.5 125 1420.5 129.3 1419.5 126.3 1418.5 128.9 1417.5 128.9 1416.5 132.8 1415.5 124.5 1414.5 129 1413.5 129.2 1412.5 124.4 1411.5 124 1410.5 126.1 1409.5 129.5 1408.5 132.7 1407.5 133.9 1406.5 131.1 1405.5 130.6 1404.5 116.7 1403.5 123.4 1402.5 124.3 1401.5 127.1 1400.5 119.2 1399.5 125.6 1398.5 118.8 1397.5 124.8 1396.5 124.9 1395.5 127.5 1394.5 130.4 1393.5 130.1 1392.5 128.3 1391.5 131.8 1390.5 123 1389.5 121 1388.5 125.7 1387.5 121.6 1386.5 127.8 1385.5 127.0Z" fill="#0000ff"/>
<path transform="scale(.5)" d="M303 188h0M305 280h0M308 231h0M310 264h0M310 289h0M311 236h0M313 255h0M313 275h0M315 256h0M315 191h0M316 208h0M316 246h0M316 300h0M317 240h0M323 301h0M325 279h0M328 274h0M330 202h0M330 218h0M329 291h0M329 296h0M331 205h0M331 293h0M332 294h0M333 247h0M334 260h0M334 308h0M335 200h0M335 230h0M336 207h0M336 235h0M336 271h0M336 294h0M336 298h0M336 308h0M337 272h0M338 282h0M339 283h0M339 301h0M338 307h0M339 256h0M340 276h0M340 311h0M342 215h0M343 238h0M343 314h0M343 316h0M345 298h0M346 298h0M347 230h0M348 306h0M349 222h0M348 282h0M349 296h0M354 232h0M358 268h0M357 288h0M358 315h0M360 230h0M361 254h0M362 293h0M364 220h0M364 300h0M365 309h0M365 321h0M368 289h0M369 214h0M369 243h0M369 250h0M369 303h0M371 261h0M373 210h0M373 282h0M374 268h0M379 275h0M381 206h0M381 302h0M383 286h0M384 270h0M387 246h0M388 270h0M389 255h0M389 259h0M389 305h0M393 290h0M395 303h0M395 210h0M398 206h0M399 282h0M399 254h0M400 293h0M399 299h0M401 225h0M401 265h0M402 290h0M401 303h0M403 189h0M402 234h0M401 299h0M403 316h0M403 249h0M404 311h0M405 252h0M405 274h0M405 305h0M406 253h0M406 266h0M406 285h0M406 310h0M407 196h0M408 310h0M409 235h0M409 260h0M409 312h0M410 304h0M413 256h0M413 288h0M413 330h0M413 331h0M419 322h0M420 181h0M420 195h0M419 283h0M420 311h0M419 316h0M421 309h0M421 311h0M423 219h0M422 259h0M422 285h0M423 197h0M423 276h0M423 301h0M426 228h0M426 237h0M426 307h0M429 244h0M432 265h0M433 284h0M435 287h0M434 309h0M434 313h0M435 240h0M435 255h0M435 276h0M435 277h0M435 284h0M435 316h0M436 185h0M436 190h0M436 247h0M436 290h0M436 305h0M437 301h0M438 206h0M438 246h0M438 261h0M438 279h0M439 280h0M438 290h0M438 302h0M439 307h0M440 190h0M443 184h0M443 283h0M445 202h0M448 290h0M449 293h0M449 265h0M449 282h0M450 263h0M450 278h0M451 285h0M450 307h0M451 210h0M451 223h0M451 279h0M451 295h0M451 317h0M452 320h0M453 209h0M452 220h0M452 288h0M452 299h0M452 304h0M452 320h0M452 322h0M453 256h0M454 310h0M454 226h0M454 271h0M454 320h0M455 249h0M456 291h0M456 308h0M457 226h0M458 222h0M459 249h0M461 193h0M460 301h0M461 246h0M463 256h0M464 295h0M463 304h0M465 220h0M465 252h0M465 294h0M465 194h0M465 201h0M466 281h0M466 289h0M468 297h0M468 314h0M469 276h0M472 249h0M473 303h0M475 308h0M475 259h0M476 284h0M477 296h0M481 216h0M481 254h0M483 234h0M484 239h0M485 218h0M486 280h0M486 286h0M488 203h0M488 239h0M488 251h0M488 281h0M489 244h0M489 270h0M490 258h0M491 248h0M492 250h0M492 266h0M494 238h0M494 243h0M495 273h0M495 298h0M502 200h0M504 198h0M507 262h0M508 262h0M508 271h0M512 285h0M514 263h0M518 184h0M519 226h0M519 273h0M520 247h0M520 257h0M520 276h0M521 213h0M521 287h0M522 309h0M524 268h0M525 301h0M527 218h0M528 311h0M528 325h0M529 308h0M529 324h0M536 315h0M538 234h0M538 320h0M538 246h0M538 258h0M538 262h0M538 292h0M539 185h0M539 216h0M539 278h0M539 288h0M540 197h0M540 209h0M540 258h0M540 264h0M541 298h0M541 222h0M541 298h0M541 322h0M542 268h0M542 274h0M542 283h0M543 182h0M543 200h0M543 218h0M543 241h0M543 303h0M544 187h0M544 269h0M544 289h0M545 309h0M547 215h0M546 229h0M547 245h0M546 259h0M546 306h0M546 310h0M547 227h0M547 315h0M548 279h0M548 326h0M549 247h0M549 285h0M549 300h0M549 322h0M551 234h0M551 264h0M552 191h0M554 240h0M553 286h0M556 248h0M558 244h0M559 229h0M562 214h0M563 221h0M563 232h0M563 277h0M563 295h0M564 202h0M564 271h0M567 197h0M567 254h0M568 300h0M569 276h0M569 286h0M569 290h0M569 227h0M570 276h0M576 199h0M577 261h0M579 304h0M580 239h0M584 291h0M584 314h0M586 226h0M587 177h0M590 281h0M591 243h0M592 248h0M593 192h0M593 217h0M593 234h0M593 321h0M595 226h0M595 181h0M599 280h0M601 262h0M601 279h0M603 202h0M605 168h0M605 192h0M605 193h0M605 254h0M606 170h0M606 236h0M605 308h0M608 263h0M608 262h0M608 275h0M609 298h0M609 205h0M609 218h0M609 232h0M609 288h0M610 201h0M610 251h0M610 274h0M610 277h0M610 311h0M611 189h0M611 196h0M611 265h0M612 300h0M611 303h0M612 269h0M612 278h0M612 324h0M614 169h0M613 199h0M613 230h0M613 298h0M613 310h0M613 326h0M614 219h0M615 267h0M616 273h0M615 293h0M615 308h0M617 169h0M616 264h0M617 182h0M617 192h0M618 309h0M619 178h0M620 212h0M619 220h0M619 245h0M619 316h0M619 320h0M620 280h0M621 313h0M623 198h0M624 317h0M624 259h0M625 192h0M626 215h0M627 277h0M627 283h0M629 247h0M627 275h0M628 309h0M630 284h0M630 305h0M631 304h0M630 314h0M632 245h0M632 320h0M635 287h0M636 278h0M638 232h0M638 291h0M638 281h0M639 283h0M639 299h0M639 309h0M640 253h0M641 284h0M640 290h0M642 204h0M643 174h0M643 315h0M643 325h0M643 253h0M644 265h0M644 294h0M645 221h0M645 230h0M645 267h0M646 271h0M645 321h0M646 271h0M646 316h0M647 204h0M647 221h0M647 251h0M647 272h0M648 288h0M648 314h0M648 318h0M648 329h0M649 263h0M649 297h0M649 321h0M650 275h0M650 299h0M649 324h0M650 187h0M651 262h0M652 296h0M653 292h0M655 211h0M655 299h0M656 276h0M659 264h0M658 290h0M660 232h0M659 290h0M661 225h0M661 274h0M661 276h0M661 317h0M663 192h0M667 205h0M668 264h0M669 233h0M669 290h0M669 317h0M673 295h0M676 232h0M677 214h0M677 315h0M678 282h0M679 293h0M680 300h0M683 260h0M684 253h0M684 278h0M685 312h0M686 287h0M688 300h0M693 269h0M695 312h0M695 299h0M696 213h0M696 278h0M697 279h0M698 310h0M699 274h0M699 309h0M702 275h0M701 296h0M703 256h0M706 302h0M708 276h0M709 294h0M709 301h0M709 307h0M711 193h0M711 228h0M711 234h0M710 269h0M711 299h0M712 199h0M712 280h0M711 307h0M713 298h0M714 308h0M715 235h0M715 294h0M717 218h0M719 183h0M719 203h0M718 288h0M720 317h0M722 256h0M723 282h0M724 296h0M731 238h0M731 296h0M739 301h0M742 277h0M744 281h0M747 231h0M747 265h0M748 292h0M747 295h0M748 211h0M748 227h0M748 237h0M749 211h0M750 222h0M749 284h0M751 308h0M752 200h0M752 303h0M753 287h0M756 207h0M756 246h0M756 281h0M765 201h0M765 231h0M765 296h0M766 204h0M766 275h0M767 183h0M767 219h0M768 281h0M769 199h0M772 276h0M772 244h0M773 266h0M773 190h0M774 199h0M774 234h0M774 251h0M774 253h0M774 292h0M776 185h0M776 218h0M776 244h0M775 250h0M776 194h0M777 246h0M777 275h0M777 279h0M777 289h0M777 292h0M778 267h0M779 199h0M779 248h0M779 300h0M778 302h0M781 234h0M781 286h0M783 275h0M782 284h0M783 226h0M786 220h0M786 233h0M786 243h0M786 273h0M788 297h0M789 300h0M788 312h0M789 293h0M789 306h0M790 251h0M791 305h0M792 181h0M791 274h0M794 175h0M794 193h0M795 181h0M797 308h0M799 224h0M799 246h0M799 268h0M801 215h0M800 281h0M800 312h0M802 206h0M805 273h0M806 278h0M807 275h0M808 187h0M808 248h0M807 273h0M810 246h0M809 307h0M811 321h0M812 303h0M815 219h0M815 287h0M816 230h0M816 279h0M817 259h0M818 199h0M819 258h0M820 240h0M820 306h0M822 252h0M826 179h0M826 213h0M826 300h0M828 180h0M828 202h0M829 265h0M828 283h0M829 292h0M830 289h0M830 303h0M831 213h0M831 273h0M830 295h0M832 185h0M833 203h0M834 210h0M834 257h0M835 277h0M837 259h0M836 291h0M838 222h0M838 266h0M838 278h0M839 217h0M840 244h0M841 201h0M845 270h0M846 275h0M847 289h0M850 244h0M850 269h0M852 193h0M851 274h0M852 232h0M853 180h0M853 192h0M853 257h0M854 282h0M856 275h0M856 202h0M858 260h0M858 302h0M863 285h0M864 291h0M863 307h0M865 323h0M866 178h0M866 250h0M867 214h0M868 214h0M867 294h0M867 309h0M867 316h0M868 220h0M868 310h0M869 213h0M868 249h0M870 207h0M870 248h0M869 310h0M871 298h0M871 327h0M872 176h0M872 243h0M874 183h0M876 179h0M876 283h0M876 313h0M877 226h0M877 279h0M877 314h0M877 314h0M879 319h0M880 248h0M881 263h0M881 210h0M881 272h0M881 295h0M882 305h0M883 328h0M883 245h0M883 326h0M884 199h0M884 323h0M885 273h0M885 288h0M885 313h0M887 261h0M887 287h0M888 279h0M890 183h0M892 297h0M892 307h0M892 326h0M893 179h0M893 212h0M893 253h0M893 182h0M894 272h0M895 313h0M894 327h0M896 185h0M896 249h0M896 266h0M896 302h0M898 321h0M899 257h0M901 305h0M902 227h0M907 268h0M907 287h0M909 204h0M909 311h0M910 298h0M913 223h0M912 229h0M915 259h0M915 228h0M920 261h0M920 290h0M922 253h0M922 196h0M922 248h0M923 263h0M924 213h0M924 296h0M925 206h0M925 279h0M926 222h0M926 231h0M926 238h0M926 279h0M926 293h0M927 296h0M927 284h0M927 286h0M927 287h0M928 193h0M928 213h0M928 240h0M928 262h0M928 274h0M929 288h0M929 188h0M930 241h0M931 269h0M931 286h0M931 293h0M933 297h0M938 262h0M940 202h0M942 270h0M943 227h0M943 281h0M944 213h0M944 236h0M947 264h0M946 289h0M947 290h0M948 222h0M948 253h0M947 280h0M948 284h0M949 271h0M948 283h0M948 305h0M949 210h0M950 212h0M950 288h0M950 300h0M950 303h0M954 229h0M954 297h0M954 325h0M954 333h0M954 337h0M955 265h0M955 273h0M955 280h0M955 292h0M955 330h0M955 334h0M955 334h0M956 193h0M956 264h0M956 267h0M956 327h0M957 282h0M957 331h0M958 240h0M958 320h0M959 335h0M959 278h0M959 279h0M959 286h0M959 292h0M959 297h0M960 325h0M961 196h0M960 235h0M960 288h0M960 303h0M960 304h0M961 291h0M961 294h0M961 241h0M962 307h0M963 232h0M963 245h0M963 302h0M964 238h0M964 246h0M965 297h0M964 307h0M965 258h0M965 279h0M965 290h0M967 214h0M966 303h0M967 226h0M967 301h0M967 311h0M968 290h0M968 297h0M968 300h0M968 315h0M970 285h0M970 287h0M971 291h0M972 289h0M974 254h0M975 230h0M976 308h0M976 227h0M977 312h0M979 227h0M981 305h0M982 290h0M982 308h0M983 253h0M984 251h0M985 283h0M987 231h0M986 275h0M987 214h0M987 270h0M990 185h0M990 279h0M992 280h0M993 220h0M994 231h0M994 286h0M994 293h0M995 193h0M995 230h0M996 187h0M996 221h0M996 226h0M996 274h0M996 295h0M996 297h0M996 300h0M998 263h0M998 297h0M999 280h0M999 297h0M1000 298h0M1005 248h0M1006 259h0M1006 283h0M1006 293h0M1006 301h0M1007 200h0M1007 236h0M1009 221h0M1009 307h0M1012 249h0M1011 253h0M1011 317h0M1012 282h0M1013 265h0M1016 239h0M1016 281h0M1016 285h0M1016 293h0M1017 280h0M1019 238h0M1019 273h0M1019 307h0M1020 189h0M1021 207h0M1020 258h0M1021 255h0M1020 284h0M1022 206h0M1022 219h0M1022 233h0M1021 256h0M1022 259h0M1022 261h0M1022 287h0M1022 307h0M1023 199h0M1023 217h0M1023 222h0M1023 239h0M1023 263h0M1023 279h0M1023 300h0M1024 251h0M1025 182h0M1025 188h0M1025 220h0M1025 238h0M1025 265h0M1025 307h0M1026 239h0M1026 286h0M1026 294h0M1026 218h0M1027 266h0M1027 274h0M1028 227h0M1028 288h0M1031 301h0M1032 220h0M1032 269h0M1034 287h0M1039 264h0M1043 205h0M1043 266h0M1046 269h0M1051 200h0M1050 268h0M1052 300h0M1053 210h0M1053 302h0M1055 245h0M1054 314h0M1055 191h0M1055 309h0M1056 286h0M1056 306h0M1056 308h0M1057 251h0M1057 268h0M1057 285h0M1058 258h0M1058 265h0M1058 298h0M1059 288h0M1061 244h0M1061 262h0M1061 274h0M1062 311h0M1062 240h0M1062 303h0M1063 262h0M1063 289h0M1065 312h0M1065 264h0M1066 239h0M1066 258h0M1066 290h0M1066 303h0M1067 289h0M1067 295h0M1070 240h0M1069 258h0M1069 279h0M1069 290h0M1069 299h0M1069 302h0M1069 304h0M1070 197h0M1070 299h0M1071 303h0M1070 318h0M1071 197h0M1071 258h0M1071 271h0M1072 195h0M1072 279h0M1074 264h0M1077 275h0M1078 314h0M1079 227h0M1080 280h0M1080 290h0M1084 290h0M1085 178h0M1086 253h0M1091 191h0M1092 269h0M1093 218h0M1093 252h0M1094 265h0M1095 191h0M1096 286h0M1096 254h0M1097 211h0M1098 236h0M1097 255h0M1097 178h0M1099 237h0M1099 301h0M1100 177h0M1102 213h0M1102 265h0M1102 274h0M1103 185h0M1102 295h0M1104 312h0M1106 257h0M1107 177h0M1107 198h0M1111 226h0M1111 236h0M1112 174h0M1111 191h0M1112 211h0M1112 244h0M1112 311h0M1112 322h0M1113 303h0M1113 313h0M1113 314h0M1112 322h0M1114 188h0M1114 193h0M1114 229h0M1114 307h0M1116 293h0M1115 309h0M1115 312h0M1116 211h0M1116 260h0M1117 227h0M1117 262h0M1117 292h0M1118 177h0M1118 203h0M1118 241h0M1119 227h0M1120 244h0M1119 283h0M1121 282h0M1121 298h0M1122 227h0M1122 250h0M1122 291h0M1123 264h0M1123 301h0M1124 234h0M1124 275h0M1125 186h0M1125 257h0M1125 264h0M1126 298h0M1127 201h0M1127 230h0M1128 280h0M1129 232h0M1130 243h0M1129 245h0M1130 279h0M1131 224h0M1130 256h0M1132 271h0M1132 291h0M1133 221h0M1134 276h0M1134 302h0M1135 293h0M1138 305h0M1140 187h0M1142 199h0M1142 209h0M1142 284h0M1144 203h0M1144 286h0M1144 315h0M1145 220h0M1145 227h0M1146 302h0M1146 195h0M1145 304h0M1147 307h0M1147 208h0M1147 270h0M1147 315h0M1148 209h0M1149 209h0M1150 301h0M1151 248h0M1151 271h0M1151 275h0M1153 307h0M1153 257h0M1154 299h0M1156 315h0M1157 253h0M1158 321h0M1158 309h0M1160 286h0M1160 287h0M1161 241h0M1161 264h0M1161 274h0M1160 279h0M1162 278h0M1162 296h0M1163 262h0M1164 318h0M1163 322h0M1164 220h0M1164 324h0M1164 327h0M1165 212h0M1165 299h0M1164 310h0M1166 274h0M1167 226h0M1167 296h0M1168 298h0M1168 232h0M1168 248h0M1169 308h0M1170 275h0M1171 300h0M1171 220h0M1171 285h0M1172 298h0M1173 225h0M1178 209h0M1180 300h0M1180 313h0M1185 273h0M1188 303h0M1188 311h0M1189 199h0M1190 284h0M1191 204h0M1191 284h0M1192 236h0M1192 249h0M1191 267h0M1192 313h0M1193 216h0M1194 305h0M1194 314h0M1194 330h0M1196 199h0M1196 225h0M1196 284h0M1196 308h0M1198 278h0M1198 285h0M1198 314h0M1199 334h0M1200 234h0M1200 245h0M1200 351h0M1201 317h0M1202 316h0M1203 240h0M1203 327h0M1204 232h0M1204 256h0M1204 309h0M1205 221h0M1204 281h0M1205 341h0M1205 307h0M1206 330h0M1207 212h0M1210 270h0M1215 259h0M1215 279h0M1215 302h0M1215 219h0M1215 224h0M1216 274h0M1216 316h0M1217 338h0M1218 228h0M1218 320h0M1219 213h0M1219 264h0M1219 279h0M1219 288h0M1220 331h0M1221 266h0M1221 273h0M1222 226h0M1223 254h0M1223 353h0M1224 347h0M1230 237h0M1230 258h0M1231 221h0M1231 283h0M1231 285h0M1231 327h0M1231 221h0M1232 284h0M1232 311h0M1232 327h0M1232 333h0M1233 224h0M1234 295h0M1236 213h0M1235 235h0M1235 245h0M1235 252h0M1235 306h0M1235 228h0M1237 258h0M1238 254h0M1238 324h0M1240 296h0M1242 300h0M1243 280h0M1245 216h0M1245 229h0M1244 248h0M1245 334h0M1246 325h0M1247 239h0M1247 283h0M1247 306h0M1250 212h0M1258 307h0M1258 229h0M1262 340h0M1263 285h0M1266 340h0M1267 345h0M1268 316h0M1269 278h0M1272 264h0M1273 279h0M1273 282h0M1273 312h0M1276 268h0M1277 287h0M1277 318h0M1277 336h0M1278 272h0M1279 291h0M1279 314h0M1283 270h0M1284 305h0M1285 241h0M1285 254h0M1285 262h0M1286 266h0M1287 301h0M1287 344h0M1289 331h0M1290 244h0M1290 246h0M1290 263h0M1290 266h0M1290 306h0M1290 307h0M1291 251h0M1291 268h0M1293 300h0M1294 318h0M1296 305h0M1299 283h0M1299 305h0M1299 276h0M1301 265h0M1302 326h0M1303 310h0M1304 270h0M1307 286h0M1306 320h0M1314 331h0M1315 275h0M1317 298h0M1319 355h0M1321 256h0M1322 291h0M1325 291h0M1327 339h0M1329 308h0M1331 290h0M1330 299h0M1330 301h0M1330 320h0M1330 331h0M1332 279h0M1333 267h0M1333 297h0M1333 306h0M1337 285h0M1338 306h0M1338 268h0M1338 339h0M1340 257h0M1339 295h0M1339 317h0M1340 322h0M1340 330h0M1342 269h0M1343 316h0M1342 334h0M1343 279h0M1345 257h0M1346 257h0M1346 295h0M1347 275h0M1347 330h0M1349 261h0M1348 287h0M1348 300h0M1349 256h0M1350 321h0M1350 326h0M1356 319h0M1359 282h0M1359 296h0M1363 308h0M1364 317h0M1364 343h0M1365 286h0M1365 294h0M1367 276h0M1369 257h0M1370 276h0M1371 279h0M1372 272h0M1372 307h0M1374 264h0M1375 313h0M1375 250h0M1376 297h0M1378 256h0M1377 298h0M1377 302h0M1377 340h0M1378 261h0M1378 295h0M1381 295h0M1380 298h0M1385 280h0M1386 338h0M1386 303h0M1387 316h0M1388 300h0M1388 316h0M1389 325h0M1391 306h0M1392 279h0M1392 321h0M1395 297h0M1395 278h0M1396 333h0M1396 338h0M1401 299h0M1402 304h0M1405 300h0M1414 283h0M1414 348h0M1415 290h0M1416 291h0M1416 305h0M1416 329h0M1419 330h0M1419 340h0M1421 308h0M1426 312h0M1427 324h0M1428 325h0M1430 273h0M1431 272h0M1430 314h0M1437 335h0M1444 273h0M1446 293h0M1447 298h0M1447 331h0M1448 287h0M1449 279h0M1449 354h0M1449 359h0M1451 338h0M1452 269h0M1452 301h0M1452 331h0M1453 353h0M1454 356h0M1456 287h0M1457 297h0M1457 306h0M1457 353h0M1458 335h0M1458 347h0M1459 253h0M1459 333h0M1460 251h0M1460 354h0M1461 329h0M1462 319h0M1464 294h0M1464 332h0M1468 335h0M1467 271h0M1470 331h0M1471 302h0M1471 308h0M1471 311h0M1471 328h0M1473 271h0M1472 337h0M1474 274h0M1474 279h0M1475 305h0M1476 250h0M1476 270h0M1476 273h0M1476 291h0M1480 330h0M1484 291h0M1484 313h0M1485 303h0M1486 227h0M1487 225h0M1486 227h0M1489 240h0M1490 297h0M1489 315h0M1489 320h0M1492 344h0M1493 279h0M1493 301h0M1496 228h0M1496 240h0M1496 272h0M1496 310h0M1497 333h0M1497 341h0M1498 246h0M1498 254h0M1498 333h0M1499 248h0M1499 333h0M1499 216h0M1500 273h0M1499 301h0M1501 218h0M1501 261h0M1501 310h0M1502 257h0M1502 278h0M1503 219h0M1503 265h0M1503 267h0M1505 274h0M1507 265h0M1508 341h0M1511 216h0M1511 298h0M1512 262h0M1513 240h0M1512 278h0M1514 204h0M1514 323h0M1515 214h0M1515 271h0M1516 293h0M1516 347h0M1517 303h0M1518 205h0M1518 237h0M1517 252h0M1518 306h0M1518 339h0M1519 229h0M1519 266h0M1519 348h0M1520 254h0M1521 278h0M1519 342h0M1521 230h0M1521 247h0M1522 252h0M1521 280h0M1521 308h0M1521 312h0M1523 210h0M1525 352h0M1525 226h0M1525 355h0M1526 243h0M1526 285h0M1526 337h0M1527 248h0M1529 327h0M1529 355h0M1530 210h0M1530 231h0M1530 233h0M1532 257h0M1535 257h0M1536 285h0M1537 306h0M1539 228h0M1538 241h0M1539 255h0M1542 287h0M1541 328h0M1544 213h0M1543 238h0M1543 265h0M1546 247h0M1545 269h0M1546 246h0M1546 295h0M1547 335h0M1546 205h0M1548 213h0M1547 280h0M1548 323h0M1552 291h0M1554 312h0M1555 208h0M1555 224h0M1555 225h0M1555 254h0M1555 286h0M1555 313h0M1556 283h0M1556 342h0M1557 251h0M1557 266h0M1557 283h0M1557 291h0M1557 333h0M1557 334h0M1557 346h0M1559 227h0M1559 295h0M1560 275h0M1562 205h0M1562 330h0M1563 251h0M1563 254h0M1563 262h0M1563 331h0M1564 229h0M1564 231h0M1564 242h0M1564 275h0M1564 295h0M1564 334h0M1565 313h0M1565 335h0M1566 233h0M1565 239h0M1565 242h0M1566 299h0M1567 204h0M1567 208h0M1567 300h0M1566 344h0M1568 256h0M1568 307h0M1569 233h0M1569 333h0M1570 222h0M1570 233h0M1570 307h0M1571 210h0M1573 277h0M1574 216h0M1574 313h0M1575 288h0M1574 338h0M1576 213h0M1576 252h0M1575 292h0M1576 301h0M1576 306h0M1577 210h0M1577 220h0M1578 255h0M1579 222h0M1578 278h0M1579 331h0M1580 320h0M1582 300h0M1583 229h0M1584 253h0M1585 280h0M1586 296h0M1587 282h0M1587 317h0M1588 210h0M1590 241h0M1590 286h0M1592 233h0M1592 221h0M1593 305h0M1599 220h0M1600 310h0M1601 311h0M1602 224h0M1603 308h0M1604 202h0M1607 222h0M1607 235h0M1607 311h0M1608 274h0M1608 300h0M1607 310h0M1609 257h0M1609 260h0M1610 310h0M1611 307h0M1612 288h0M1612 335h0M1615 287h0M1615 314h0M1617 307h0M1618 264h0M1617 268h0M1618 281h0M1618 331h0M1619 302h0M1619 311h0M1620 235h0M1622 276h0M1622 264h0M1622 333h0M1622 340h0M1623 279h0M1625 237h0M1624 298h0M1625 322h0M1625 336h0M1626 222h0M1625 243h0M1626 262h0M1625 287h0M1626 320h0M1627 222h0M1627 296h0M1627 314h0M1628 259h0M1628 333h0M1629 203h0M1628 253h0M1630 331h0M1630 320h0M1631 200h0M1631 234h0M1631 280h0M1631 297h0M1632 318h0M1632 217h0M1631 299h0M1631 318h0M1632 322h0M1633 206h0M1634 218h0M1634 240h0M1635 253h0M1636 205h0M1636 299h0M1639 203h0M1639 222h0M1640 246h0M1639 282h0M1639 295h0M1640 259h0M1641 288h0M1641 305h0M1642 233h0M1643 221h0M1643 292h0M1643 307h0M1642 311h0M1644 211h0M1644 259h0M1643 289h0M1645 271h0M1646 213h0M1646 238h0M1645 274h0M1647 260h0M1652 268h0M1656 212h0M1655 233h0M1657 232h0M1657 296h0M1657 309h0M1658 213h0M1658 232h0M1658 256h0M1658 290h0M1658 303h0M1659 267h0M1660 261h0M1660 276h0M1660 294h0M1661 252h0M1661 290h0M1662 276h0M1664 245h0M1665 304h0M1664 314h0M1664 320h0M1665 210h0M1665 274h0M1665 307h0M1667 221h0M1667 240h0M1667 283h0M1667 289h0M1668 197h0M1668 257h0M1668 272h0M1668 311h0M1669 193h0M1669 196h0M1669 247h0M1669 267h0M1669 271h0M1670 289h0M1670 272h0M1670 286h0M1670 206h0M1671 217h0M1671 291h0M1670 303h0M1672 211h0M1672 239h0M1672 251h0M1672 255h0M1672 267h0M1672 282h0M1673 213h0M1673 289h0M1673 308h0M1675 209h0M1674 253h0M1674 294h0M1674 300h0M1674 311h0M1674 208h0M1675 225h0M1674 275h0M1675 302h0M1676 311h0M1678 300h0M1678 236h0M1684 294h0M1686 269h0M1687 211h0M1687 245h0M1687 270h0M1688 271h0M1689 312h0M1691 243h0M1691 268h0M1691 280h0M1691 310h0M1692 239h0M1693 196h0M1693 222h0M1693 260h0M1694 263h0M1697 286h0M1697 273h0M1700 269h0M1699 275h0M1700 298h0M1699 306h0M1698 310h0M1700 225h0M1700 280h0M1700 284h0M1700 290h0M1700 312h0M1701 259h0M1701 279h0M1702 238h0M1702 322h0M1703 230h0M1704 204h0M1705 202h0M1704 250h0M1705 255h0M1705 274h0M1706 305h0M1706 307h0M1707 202h0M1707 202h0M1708 271h0M1709 262h0M1711 265h0M1710 281h0M1711 283h0M1712 248h0M1712 262h0M1712 284h0M1713 197h0M1713 242h0M1713 281h0M1713 294h0M1716 266h0M1717 222h0M1718 269h0M1717 286h0M1717 294h0M1717 309h0M1717 314h0M1718 187h0M1718 213h0M1718 262h0M1719 189h0M1719 297h0M1719 304h0M1720 204h0M1720 299h0M1720 305h0M1721 258h0M1721 322h0M1723 200h0M1722 208h0M1722 251h0M1722 257h0M1722 289h0M1722 290h0M1722 315h0M1723 223h0M1723 316h0M1724 265h0M1724 285h0M1724 307h0M1725 177h0M1725 184h0M1725 258h0M1725 262h0M1725 298h0M1726 302h0M1727 179h0M1726 296h0M1727 198h0M1728 298h0M1728 188h0M1728 229h0M1728 299h0M1729 243h0M1729 266h0M1729 303h0M1733 324h0M1733 268h0M1736 181h0M1737 215h0M1737 327h0M1740 207h0M1744 248h0M1743 249h0M1744 304h0M1745 308h0M1745 312h0M1744 313h0M1748 287h0M1748 212h0M1747 234h0M1748 241h0M1748 287h0M1749 202h0M1749 230h0M1749 236h0M1751 198h0M1750 206h0M1751 247h0M1750 273h0M1751 208h0M1751 224h0M1751 267h0M1750 281h0M1751 294h0M1751 302h0M1750 314h0M1752 202h0M1752 273h0M1752 281h0M1752 190h0M1753 210h0M1753 266h0M1753 283h0M1753 288h0M1754 194h0M1754 202h0M1754 260h0M1754 295h0M1755 230h0M1755 286h0M1754 302h0M1756 204h0M1755 255h0M1756 291h0M1757 205h0M1757 208h0M1757 238h0M1757 273h0M1757 292h0M1758 180h0M1758 219h0M1758 229h0M1758 257h0M1758 235h0M1758 260h0M1758 295h0M1760 254h0M1760 306h0M1760 307h0M1761 240h0M1761 295h0M1761 308h0M1764 193h0M1764 211h0M1765 244h0M1765 294h0M1766 285h0M1766 293h0M1771 249h0M1771 300h0M1771 206h0M1773 297h0M1774 261h0M1775 236h0M1775 292h0M1775 295h0M1775 300h0M1778 299h0M1779 320h0M1780 200h0M1781 253h0M1780 290h0M1781 288h0M1782 228h0M1783 301h0M1784 179h0M1784 227h0M1784 266h0M1784 286h0M1785 207h0M1786 180h0M1787 214h0M1787 256h0M1789 274h0M1791 283h0M1792 265h0M1795 306h0M1796 199h0M1796 204h0M1796 239h0M1797 275h0M1796 298h0M1797 193h0M1797 274h0M1797 279h0M1798 281h0M1798 304h0M1797 306h0M1798 206h0M1798 265h0M1798 290h0M1799 206h0M1799 214h0M1800 201h0M1800 237h0M1800 274h0M1800 296h0M1801 190h0M1802 194h0M1802 258h0M1802 271h0M1803 238h0M1803 281h0M1802 290h0M1803 293h0M1804 283h0M1805 195h0M1806 291h0M1807 298h0M1807 236h0M1808 225h0M1809 278h0M1811 268h0M1811 295h0M1812 196h0M1812 214h0M1812 285h0M1813 205h0M1814 268h0M1813 292h0M1813 296h0M1814 300h0M1814 174h0M1814 214h0M1814 285h0M1814 289h0M1815 180h0M1815 286h0M1815 303h0M1815 256h0M1817 229h0M1817 282h0M1817 288h0M1818 181h0M1818 234h0M1818 243h0M1818 245h0M1818 257h0M1819 234h0M1819 230h0M1820 232h0M1819 247h0M1820 298h0M1822 237h0M1821 268h0M1821 212h0M1822 214h0M1822 228h0M1822 248h0M1822 291h0M1822 296h0M1823 197h0M1823 260h0M1823 264h0M1823 283h0M1825 186h0M1824 191h0M1824 202h0M1824 214h0M1824 256h0M1824 274h0M1825 287h0M1824 292h0M1824 245h0M1826 198h0M1827 234h0M1826 239h0M1829 226h0M1829 195h0M1829 266h0M1830 304h0M1831 199h0M1831 225h0M1831 232h0M1831 298h0M1832 256h0M1832 279h0M1834 178h0M1834 284h0M1836 250h0M1836 286h0M1836 255h0M1837 285h0M1838 173h0M1839 272h0M1839 279h0M1840 287h0M1841 212h0M1842 222h0M1842 246h0M1843 268h0M1844 242h0M1844 284h0M1845 253h0M1845 275h0M1846 268h0M1847 289h0M1847 242h0M1848 263h0M1848 273h0M1849 238h0M1849 294h0M1849 296h0M1851 199h0M1850 234h0M1851 257h0M1851 272h0M1852 259h0M1852 290h0M1854 295h0M1854 287h0M1855 231h0M1854 237h0M1855 246h0M1855 280h0M1860 286h0M1861 233h0M1861 292h0M1862 229h0M1863 211h0M1865 272h0M1866 260h0M1866 282h0M1866 286h0M1867 195h0M1867 207h0M1867 288h0M1869 290h0M1868 292h0M1869 215h0M1869 294h0M1870 214h0M1870 218h0M1869 279h0M1870 301h0M1871 291h0M1871 296h0M1871 302h0M1872 263h0M1872 281h0M1874 184h0M1874 286h0M1875 284h0M1876 276h0M1876 287h0M1878 276h0M1880 271h0M1879 227h0M1881 261h0M1881 276h0M1883 184h0M1884 259h0M1884 263h0M1884 283h0M1885 232h0M1885 252h0M1887 209h0M1887 212h0M1887 240h0M1887 264h0M1887 274h0M1887 296h0M1888 241h0M1888 245h0M1889 210h0M1889 226h0M1889 272h0M1891 258h0M1892 243h0M1892 295h0M1893 270h0M1895 241h0M1897 301h0M1898 249h0M1898 286h0M1900 186h0M1900 253h0M1902 277h0M1904 192h0M1904 293h0M1905 197h0M1905 213h0M1906 301h0M1907 276h0M1908 270h0M1907 274h0M1909 189h0M1910 279h0M1910 301h0M1912 186h0M1912 195h0M1913 291h0M1914 224h0M1913 303h0M1914 308h0M1918 255h0M1921 229h0M1921 277h0M1922 230h0M1924 267h0M1925 189h0M1925 231h0M1930 276h0M1933 255h0M1934 274h0M1935 276h0M1940 268h0M1940 295h0M1941 304h0M1943 203h0M1943 213h0M1943 307h0M1945 209h0M1944 283h0M1946 231h0M1946 256h0M1948 271h0M1948 239h0M1948 285h0M1949 312h0M1950 225h0M1951 262h0M1953 222h0M1953 271h0M1955 279h0M1954 285h0M1955 195h0M1955 249h0M1956 291h0M1956 241h0M1956 276h0M1959 251h0M1962 219h0M1962 270h0M1963 200h0M1962 214h0M1965 213h0M1965 263h0M1965 284h0M1966 243h0M1968 277h0M1969 233h0M1971 250h0M1973 220h0M1974 298h0M1976 215h0M1976 245h0M1976 258h0M1976 273h0M1977 278h0M1977 285h0M1977 295h0M1977 302h0M1976 311h0M1977 315h0M1978 291h0M1978 314h0M1979 235h0M1979 254h0M1978 263h0M1980 272h0M1979 311h0M1980 220h0M1980 291h0M1981 204h0M1981 212h0M1981 247h0M1981 282h0M1982 194h0M1981 197h0M1982 229h0M1982 246h0M1982 285h0M1982 292h0M1982 296h0M1982 306h0M1983 182h0M1984 221h0M1983 235h0M1983 272h0M1983 288h0M1983 305h0M1984 271h0M1984 295h0M1984 305h0M1985 310h0M1984 314h0M1985 186h0M1985 216h0M1984 287h0M1984 310h0M1986 204h0M1987 297h0M1988 287h0M1988 292h0M1989 289h0M1990 213h0M1991 206h0M1992 215h0M1994 287h0M1996 258h0M1997 204h0M1997 249h0M1997 293h0M1997 318h0M1999 288h0M1999 305h0M2004 235h0M2004 302h0M2006 205h0M2006 310h0M2007 185h0M2007 191h0M2007 302h0M2009 201h0M2009 215h0M2011 219h0M2009 255h0M2010 305h0M2010 309h0M2011 302h0M2011 274h0M2013 248h0M2017 207h0M2019 292h0M2018 301h0M2019 215h0M2019 281h0M2022 242h0M2023 245h0M2023 271h0M2025 294h0M2025 299h0M2026 231h0M2026 243h0M2026 278h0M2027 204h0M2026 233h0M2027 235h0M2028 240h0M2028 218h0M2028 293h0M2029 227h0M2029 282h0M2031 272h0M2031 277h0M2031 298h0M2032 226h0M2032 239h0M2033 234h0M2034 194h0M2034 253h0M2036 184h0M2035 254h0M2035 262h0M2036 237h0M2036 245h0M2036 281h0M2038 215h0M2038 231h0M2038 179h0M2039 257h0M2040 268h0M2041 261h0M2042 268h0M2043 295h0M2044 275h0M2044 306h0M2046 264h0M2047 290h0M2047 291h0M2049 257h0M2051 226h0M2051 275h0M2052 250h0M2052 302h0M2053 222h0M2053 236h0M2052 272h0M2053 317h0M2055 215h0M2054 217h0M2054 237h0M2055 243h0M2054 301h0M2055 238h0M2057 210h0M2058 274h0M2060 266h0M2061 289h0M2063 207h0M2063 277h0M2063 283h0M2064 215h0M2064 277h0M2065 203h0M2066 218h0M2066 292h0M2068 197h0M2068 227h0M2070 229h0M2070 234h0M2071 266h0M2072 235h0M2073 260h0M2073 290h0M2074 185h0M2076 217h0M2078 198h0M2079 184h0M2079 223h0M2080 253h0M2079 264h0M2078 272h0M2080 291h0M2081 189h0M2081 225h0M2081 298h0M2083 192h0M2082 243h0M2082 300h0M2082 314h0M2085 191h0M2085 249h0M2087 271h0M2087 274h0M2089 192h0M2089 194h0M2089 234h0M2089 287h0M2090 184h0M2090 262h0M2089 271h0M2090 292h0M2091 191h0M2091 269h0M2091 272h0M2090 287h0M2092 287h0M2092 293h0M2093 268h0M2093 286h0M2095 184h0M2095 210h0M2094 286h0M2095 190h0M2095 258h0M2095 280h0M2096 293h0M2098 199h0M2098 268h0M2098 249h0M2099 276h0M2101 247h0M2101 250h0M2102 186h0M2104 183h0M2104 250h0M2105 262h0M2104 272h0M2105 276h0M2106 233h0M2106 248h0M2106 269h0M2107 195h0M2108 282h0M2108 285h0M2109 192h0M2110 201h0M2109 263h0M2109 269h0M2110 196h0M2112 286h0M2113 242h0M2113 248h0M2114 180h0M2114 193h0M2116 279h0M2116 196h0M2116 204h0M2116 281h0M2117 226h0M2117 256h0M2118 199h0M2119 260h0M2118 272h0M2118 283h0M2119 239h0M2121 244h0M2120 291h0M2121 270h0M2121 285h0M2122 228h0M2122 239h0M2122 282h0M2123 213h0M2122 230h0M2123 261h0M2124 280h0M2125 179h0M2124 240h0M2124 261h0M2124 281h0M2126 223h0M2126 243h0M2127 274h0M2128 278h0M2130 255h0M2130 265h0M2133 270h0M2135 231h0M2135 244h0M2135 258h0M2135 262h0M2136 198h0M2136 287h0M2136 304h0M2137 297h0M2139 277h0M2140 202h0M2140 207h0M2142 258h0M2143 266h0M2144 286h0M2146 265h0M2147 272h0M2149 304h0M2150 242h0M2151 261h0M2152 227h0M2152 275h0M2153 267h0M2154 262h0M2154 281h0M2155 180h0M2155 287h0M2157 243h0M2157 257h0M2158 244h0M2159 212h0M2163 201h0M2165 205h0M2165 265h0M2166 209h0M2166 243h0M2167 249h0M2166 272h0M2168 185h0M2168 204h0M2168 258h0M2168 280h0M2169 205h0M2169 291h0M2171 282h0M2170 290h0M2171 190h0M2171 198h0M2171 289h0M2172 185h0M2172 273h0M2172 275h0M2172 278h0M2172 279h0M2172 288h0M2173 214h0M2173 279h0M2172 285h0M2174 299h0M2175 210h0M2175 278h0M2176 199h0M2176 281h0M2176 292h0M2176 296h0M2177 188h0M2178 256h0M2177 291h0M2178 182h0M2178 236h0M2178 275h0M2178 294h0M2179 264h0M2179 284h0M2179 290h0M2180 180h0M2180 232h0M2179 268h0M2180 301h0M2182 201h0M2180 222h0M2181 255h0M2182 305h0M2183 179h0M2184 256h0M2184 273h0M2183 287h0M2183 299h0M2184 272h0M2184 184h0M2185 201h0M2186 252h0M2185 264h0M2185 302h0M2185 306h0M2188 240h0M2190 253h0M2191 246h0M2192 244h0M2192 288h0M2195 246h0M2198 224h0M2203 254h0M2203 277h0M2204 239h0M2215 184h0M2215 231h0M2217 229h0M2218 203h0M2218 242h0M2220 279h0M2221 212h0M2221 273h0M2222 253h0M2223 268h0M2223 222h0M2223 254h0M2223 268h0M2223 270h0M2224 204h0M2224 235h0M2224 249h0M2224 251h0M2225 270h0M2224 285h0M2225 200h0M2226 217h0M2225 261h0M2225 264h0M2227 210h0M2225 271h0M2228 213h0M2233 188h0M2235 243h0M2237 290h0M2238 194h0M2238 211h0M2239 252h0M2238 288h0M2238 303h0M2241 197h0M2242 210h0M2242 289h0M2244 278h0M2247 270h0M2251 270h0M2251 280h0M2251 285h0M2255 285h0M2258 188h0M2260 173h0M2259 227h0M2260 264h0M2262 263h0M2264 257h0M2264 287h0M2267 201h0M2267 237h0M2268 268h0M2268 273h0M2270 174h0M2270 194h0M2270 259h0M2271 245h0M2272 214h0M2273 210h0M2273 214h0M2273 231h0M2272 245h0M2273 292h0M2273 295h0M2275 220h0M2275 232h0M2275 263h0M2275 287h0M2276 199h0M2277 218h0M2276 237h0M2277 245h0M2277 257h0M2277 293h0M2278 229h0M2279 205h0M2281 185h0M2283 266h0M2289 192h0M2289 286h0M2291 237h0M2292 263h0M2292 186h0M2293 228h0M2297 204h0M2298 244h0M2298 315h0M2299 200h0M2299 218h0M2299 202h0M2300 212h0M2300 256h0M2300 260h0M2300 283h0M2301 199h0M2301 222h0M2301 280h0M2302 267h0M2303 227h0M2305 314h0M2305 314h0M2306 234h0M2306 302h0M2306 228h0M2308 257h0M2308 311h0M2312 244h0M2312 268h0M2313 196h0M2314 208h0M2315 265h0M2315 283h0M2319 198h0M2321 211h0M2324 225h0M2326 281h0M2332 206h0M2333 264h0M2339 295h0M2341 198h0M2341 293h0M2342 252h0M2342 274h0M2343 228h0M2343 271h0M2343 285h0M2344 258h0M2344 273h0M2345 296h0M2348 195h0M2348 253h0M2348 290h0M2349 298h0M2351 235h0M2352 198h0M2352 230h0M2352 288h0M2352 213h0M2353 284h0M2355 277h0M2356 288h0M2356 300h0M2357 196h0M2356 223h0M2358 304h0M2359 244h0M2361 211h0M2366 242h0M2367 271h0M2368 251h0M2369 279h0M2369 194h0M2369 218h0M2371 190h0M2376 262h0M2377 297h0M2379 278h0M2380 295h0M2380 219h0M2382 285h0M2383 284h0M2385 285h0M2386 300h0M2387 249h0M2390 265h0M2392 222h0M2396 257h0M2399 245h0M2399 265h0M2399 280h0M2403 299h0M2407 272h0M2407 260h0M2410 232h0M2412 279h0M2413 239h0M2414 215h0M2415 226h0M2415 286h0M2416 274h0M2416 285h0M2418 231h0M2421 222h0M2420 236h0M2421 257h0M2421 267h0M2423 220h0M2422 255h0M2423 264h0M2424 258h0M2423 272h0M2422 289h0M2424 254h0M2424 264h0M2425 286h0M2426 227h0M2427 218h0M2429 213h0M2428 275h0M2430 283h0M2432 230h0M2433 221h0M2433 275h0M2434 211h0M2435 264h0M2436 252h0M2437 267h0M2436 195h0M2437 269h0M2438 237h0M2438 289h0M2439 219h0M2439 234h0M2439 258h0M2442 239h0M2441 257h0M2441 286h0M2442 193h0M2443 204h0M2444 255h0M2445 221h0M2446 289h0M2449 277h0M2451 202h0M2451 265h0M2452 268h0M2454 195h0M2458 232h0M2460 254h0M2460 190h0M2462 257h0M2462 190h0M2463 253h0M2463 257h0M2463 270h0M2466 215h0M2466 230h0M2466 258h0M2467 186h0M2468 221h0M2470 211h0M2469 224h0M2470 219h0M2470 244h0M2474 202h0M2474 273h0M2474 282h0M2475 181h0M2475 229h0M2476 242h0M2477 216h0M2479 177h0M2481 280h0M2488 218h0M2489 281h0M2493 309h0M2496 208h0M2496 225h0M2496 234h0M2496 275h0M2497 248h0M2497 252h0M2497 286h0M2500 283h0M2500 291h0M2500 295h0M2502 208h0M2503 202h0M2503 254h0M2503 289h0M2504 257h0M2503 299h0M2505 177h0M2505 242h0M2505 263h0M2505 298h0M2506 226h0M2506 270h0M2507 298h0M2507 204h0M2507 223h0M2507 231h0M2507 247h0M2507 255h0M2508 205h0M2508 219h0M2508 228h0M2508 285h0M2508 267h0M2509 278h0M2509 306h0M2510 239h0M2510 273h0M2512 241h0M2512 300h0M2513 304h0M2513 172h0M2513 243h0M2514 280h0M2516 293h0M2517 280h0M2519 300h0M2520 311h0M2521 251h0M2526 198h0M2526 207h0M2526 286h0M2534 211h0M2535 270h0M2537 297h0M2538 267h0M2539 277h0M2541 191h0M2541 244h0M2541 257h0M2541 288h0M2542 298h0M2543 246h0M2544 300h0M2543 181h0M2544 302h0M2545 260h0M2546 286h0M2546 290h0M2548 203h0M2548 233h0M2548 252h0M2547 262h0M2548 281h0M2548 292h0M2548 308h0M2549 311h0M2550 279h0M2551 270h0M2552 207h0M2552 233h0M2553 275h0M2553 278h0M2553 297h0M2553 306h0M2554 236h0M2554 258h0M2553 266h0M2554 272h0M2556 194h0M2557 268h0M2557 271h0M2558 220h0M2559 197h0M2560 226h0M2560 301h0M2563 281h0M2563 193h0M2563 241h0M2565 283h0M2565 298h0M2566 270h0M2567 286h0M2569 189h0M2569 197h0M2569 226h0M2569 271h0M2569 279h0M2570 187h0M2570 191h0M2570 264h0M2571 214h0M2571 249h0M2571 274h0M2571 287h0M2572 170h0M2573 268h0M2573 201h0M2573 233h0M2573 273h0M2573 281h0M2573 284h0M2575 239h0M2575 249h0M2575 255h0M2575 276h0M2575 279h0M2576 190h0M2576 253h0M2576 259h0M2576 267h0M2577 219h0M2580 227h0M2585 239h0M2584 273h0M2584 284h0M2584 244h0M2585 257h0M2587 255h0M2587 257h0M2588 286h0M2588 287h0M2588 294h0M2589 287h0M2591 202h0M2591 247h0M2592 196h0M2593 209h0M2595 254h0M2596 231h0M2602 244h0M2648 217h0M2648 234h0M2647 238h0M2649 223h0M2650 227h0M2649 234h0M2649 244h0M2649 208h0M2651 199h0M2652 227h0M2652 239h0M2654 212h0M2654 233h0M2657 236h0M2659 238h0M2660 210h0M2661 233h0M2661 241h0M2660 248h0M2661 232h0M2661 235h0M2662 252h0M2661 257h0M2661 264h0M2662 232h0M2663 257h0M2662 258h0M2662 261h0M2663 181h0M2663 228h0M2663 245h0M2664 262h0M2664 191h0M2664 244h0M2665 219h0M2664 246h0M2666 253h0M2667 179h0M2666 221h0M2668 251h0M2667 253h0M2668 238h0M2667 246h0M2668 248h0M2669 234h0M2670 245h0M2671 238h0M2672 216h0M2674 259h0M2676 249h0M2679 234h0M2679 245h0M2679 248h0M2680 243h0M2681 222h0M2681 233h0M2682 244h0M2683 243h0M2684 199h0M2685 217h0M2685 234h0M2685 237h0M2686 196h0M2686 232h0M2686 250h0M2687 245h0M2688 185h0M2689 213h0M2692 209h0M2693 206h0M2693 235h0M2694 187h0M2695 216h0M2696 234h0M2698 217h0M2697 233h0M2698 233h0M2699 238h0M2701 244h0M2701 250h0M2703 192h0M2704 219h0M2705 235h0M2705 244h0M2704 257h0M2705 187h0M2705 239h0M2707 205h0M2707 237h0M2708 240h0M2709 193h0M2710 220h0M2717 187h0M2716 242h0M2718 197h0M2718 249h0M2775 181h0M2776 200h0M2776 234h0M2778 239h0M2784 247h0M2786 247h0M2788 245h0M2787 252h0M2792 178h0M2793 211h0M2795 244h0M2799 191h0M2799 220h0M2799 240h0M2799 245h0M2804 190h0M2805 242h0M2805 176h0M2809 183h0M2809 205h0M2810 240h0M2811 221h0M2810 234h0M2813 208h0M2813 250h0M2814 185h0M2814 192h0M2816 238h0M2815 263h0M2816 232h0M2818 226h0M2818 236h0M2819 194h0M2819 245h0M2821 223h0M2822 200h0M2823 196h0M2823 210h0M2824 242h0M2824 231h0M2825 244h0M2827 197h0M2826 217h0M2828 236h0M2828 252h0M2829 225h0M2829 238h0M2829 249h0M2829 253h0M2831 236h0M2831 242h0M2831 244h0M2832 213h0M2832 234h0M2834 245h0M2834 260h0M2834 185h0M2835 205h0M2836 235h0M2840 217h0M2842 219h0M2842 234h0M2843 239h0M2843 245h0M2844 206h0M2844 209h0M2845 239h0M2844 254h0M2845 215h0M2845 241h0M2845 258h0M2849 210h0M2849 248h0M2850 224h0M2851 200h0M2851 211h0M2851 241h0M2854 255h0M2854 237h0M2853 244h0M2853 256h0M2855 197h0M2855 226h0M2855 257h0M2860 209h0M2862 205h0M2863 217h0M2865 237h0M2866 211h0M2867 198h0M2868 192h0M2871 240h0M2874 239h0M2876 195h0M2877 239h0M2878 240h0M2878 245h0M2880 221h0M2882 195h0M2882 244h0M2882 249h0M2888 209h0M2888 225h0M2888 252h0M2889 231h0M2889 238h0M2890 250h0M2894 242h0M2895 218h0M2896 221h0M2896 226h0M2897 227h0M2897 236h0M2898 179h0M2899 230h0M2900 181h0M2902 239h0M2902 241h0M2904 190h0M2904 231h0M2905 237h0M2907 244h0M2908 200h0M2909 220h0M2909 242h0M2908 248h0M2909 246h0M2911 222h0M2910 244h0M2911 256h0M2912 241h0M2913 189h0M2913 221h0M2914 229h0M2913 244h0M2914 190h0M2914 251h0M2914 191h0M2916 252h0M2916 219h0M2915 229h0M2916 245h0M2916 257h0M2916 260h0M2917 206h0M2917 240h0M2916 240h0M2917 258h0M2918 214h0M2920 210h0M2920 225h0M2921 210h0M2921 229h0M2923 238h0M2922 250h0M2924 239h0M2924 264h0M2926 215h0M2927 240h0M2928 231h0M2928 250h0M2929 192h0M2929 248h0M2929 268h0M2931 201h0M2933 239h0M2933 255h0M2934 252h0M2934 257h0M2934 259h0M2935 216h0M2935 264h0M2936 241h0M2936 247h0M2936 253h0M2936 257h0M2936 258h0M2937 237h0M2938 237h0M2939 259h0M2943 182h0M2944 192h0M2944 254h0M2946 191h0M2945 209h0M2944 210h0M2945 237h0M2945 255h0M2946 252h0M2949 243h0M2950 236h0M2951 192h0M2952 208h0M2952 214h0M2955 217h0M2956 190h0M2957 212h0M2965 209h0M2968 204h0M2968 235h0M2969 223h0M2969 237h0M2970 195h0M2970 243h0M2971 212h0M2971 193h0M2973 206h0M2976 199h0M2985 235h0M2985 242h0M2987 193h0M2988 224h0M2993 236h0M2995 196h0M2997 236h0M3004 205h0M3006 186h0M3011 234h0M3011 219h0M3014 189h0M3015 233h0M3015 238h0M3016 207h0M3015 217h0M3017 217h0M3019 210h0M3020 210h0M3021 228h0M3022 198h0M3022 239h0M3023 208h0M3023 233h0M3024 240h0M3026 232h0M3029 190h0M3035 240h0M3039 193h0M3041 190h0M3042 234h0M3044 223h0M3044 244h0M3045 189h0M3045 232h0M3045 239h0M3047 185h0M3048 210h0M3048 237h0M3053 233h0M3054 183h0M3054 237h0M3056 177h0M3055 195h0M3056 219h0M3057 234h0M3057 235h0M3058 204h0M3058 234h0M3059 234h0M3060 243h0M3060 235h0M3060 238h0M3061 241h0M3062 235h0M3064 181h0M3064 196h0M3064 236h0M3066 234h0M3068 212h0M3074 234h0M3074 235h0M3075 235h0M3077 192h0M3078 193h0M3078 227h0M3080 212h0M3081 201h0M3082 261h0M3083 245h0M3087 210h0M3087 243h0M3088 249h0M3090 209h0M3090 247h0M3089 258h0M3091 232h0M3097 250h0M3097 257h0M3098 235h0M3098 255h0M3098 260h0M3104 243h0M3106 247h0M3113 220h0M3113 252h0M3113 261h0M3114 230h0M3116 240h0M3117 247h0M3119 199h0M3121 246h0M3123 219h0M3124 251h0M3125 232h0M3125 240h0M3127 192h0M3131 252h0M3133 221h0M3136 243h0M3137 239h0M3136 243h0M3139 250h0M3139 232h0M3144 221h0M3153 249h0M3153 251h0M3154 248h0M3154 251h0M3154 180h0M3156 202h0M3155 219h0M3156 249h0M3156 253h0M3157 210h0M3157 217h0M3157 247h0M3157 240h0M3159 233h0M3159 239h0M3160 248h0M3160 263h0M3163 229h0M3162 238h0M3164 237h0M3163 247h0M3165 240h0M3166 198h0M3166 242h0M3166 248h0M3168 261h0M3171 255h0M3171 259h0M3172 204h0M3172 241h0M3175 258h0M3181 214h0M3186 241h0M3187 215h0M3187 237h0M3188 239h0M3189 190h0M3189 209h0M3190 194h0M3191 217h0M3192 236h0M3192 219h0M3192 233h0M3193 228h0M3195 202h0M3194 197h0M3200 242h0M3205 249h0M3207 229h0M3210 233h0M3211 197h0M3213 206h0M3214 229h0M3215 234h0M3216 201h0M3215 206h0M3216 238h0M3216 249h0M3218 194h0M3218 234h0M3218 238h0M3219 241h0M3220 220h0M3221 208h0M3222 222h0M3222 203h0M3223 230h0M3224 213h0M3224 244h0M3225 215h0M3225 238h0M3225 245h0M3227 227h0M3228 238h0M3229 189h0M3229 229h0M3230 229h0M3232 232h0M3233 182h0M3232 188h0M3233 229h0M3239 192h0M3240 232h0M3243 237h0M3244 229h0M3247 225h0M3249 230h0M3251 229h0M3252 227h0M3254 230h0M3254 234h0M3255 187h0M3255 209h0M3254 235h0M3260 207h0M3260 241h0M3261 231h0M3261 232h0M3263 230h0M3263 235h0M3263 209h0M3265 245h0M3267 208h0M3268 212h0M3269 221h0M3277 240h0M3283 210h0M3284 239h0M3287 210h0M3286 214h0M3287 229h0M3289 183h0M3290 206h0M3291 232h0M3294 220h0M3298 186h0M3299 241h0M3302 190h0M3307 202h0M3307 239h0M3308 223h0M3308 260h0M3310 179h0M3311 204h0M3312 237h0M3312 239h0M3313 183h0M3314 187h0M3313 193h0M3315 215h0M3316 232h0M3319 230h0M3319 240h0M3322 247h0M3323 249h0M3325 201h0M3325 222h0M3326 235h0M3327 231h0M3328 235h0M3329 249h0M3329 252h0M3332 190h0M3335 248h0M3336 174h0M3337 218h0M3340 170h0M3339 236h0M3342 180h0M3341 187h0M3343 211h0M3343 217h0M3348 199h0M3348 224h0M3348 241h0M3356 204h0M3362 238h0M3362 245h0M3366 241h0M3367 248h0M3367 253h0M3370 195h0M3371 238h0M3371 245h0M3372 187h0M3374 217h0M3374 195h0M3374 204h0M3374 234h0M3374 247h0M3373 249h0M3376 223h0M3376 193h0M3376 219h0" stroke="#fff" stroke-width="5.6" stroke-linecap="round" fill="none"/>
<path transform="scale(.5)" d="M303 178h0M303 310h0M302 339h0M304 314h0M304 331h0M305 348h0M306 175h0M307 297h0M306 307h0M306 318h0M305 319h0M306 339h0M306 371h0M307 178h0M307 306h0M307 313h0M307 318h0M307 335h0M307 343h0M307 346h0M306 367h0M306 370h0M307 174h0M308 300h0M308 306h0M309 321h0M308 338h0M308 340h0M308 353h0M308 367h0M308 374h0M309 302h0M309 307h0M309 309h0M309 311h0M309 319h0M308 331h0M309 342h0M309 318h0M310 346h0M309 349h0M311 295h0M311 305h0M310 319h0M311 323h0M311 329h0M311 344h0M311 355h0M312 306h0M312 307h0M312 313h0M313 323h0M312 361h0M313 313h0M313 319h0M313 348h0M314 350h0M314 364h0M315 174h0M315 326h0M316 178h0M317 175h0M318 172h0M318 365h0M319 170h0M319 320h0M320 330h0M319 353h0M319 378h0M320 312h0M320 334h0M322 303h0M321 333h0M321 337h0M321 346h0M322 318h0M322 325h0M321 338h0M323 174h0M323 314h0M323 326h0M323 375h0M324 191h0M324 306h0M324 332h0M324 334h0M324 341h0M324 352h0M325 190h0M326 194h0M326 305h0M326 308h0M326 319h0M326 324h0M326 332h0M326 351h0M325 375h0M328 186h0M327 312h0M328 316h0M327 336h0M327 338h0M328 369h0M329 190h0M330 193h0M329 353h0M331 328h0M331 335h0M332 194h0M333 367h0M334 320h0M335 326h0M335 359h0M336 184h0M336 320h0M337 195h0M338 331h0M339 184h0M339 192h0M340 323h0M341 354h0M341 186h0M342 364h0M342 190h0M343 325h0M343 360h0M344 163h0M344 191h0M344 378h0M345 326h0M345 371h0M346 328h0M347 334h0M348 352h0M348 360h0M349 167h0M348 312h0M348 331h0M349 336h0M350 356h0M350 170h0M350 321h0M350 327h0M350 336h0M352 171h0M352 307h0M351 331h0M352 340h0M351 344h0M351 347h0M351 356h0M353 165h0M352 300h0M352 301h0M352 327h0M353 347h0M353 170h0M353 302h0M353 327h0M353 332h0M353 347h0M353 356h0M354 357h0M354 309h0M354 312h0M354 342h0M355 304h0M355 304h0M355 311h0M355 344h0M355 351h0M355 169h0M356 171h0M356 301h0M356 308h0M356 315h0M356 319h0M356 334h0M356 352h0M357 172h0M357 177h0M357 337h0M357 348h0M357 348h0M357 355h0M358 161h0M358 340h0M358 356h0M358 360h0M358 374h0M360 327h0M359 341h0M358 345h0M360 372h0M359 170h0M360 332h0M359 334h0M360 348h0M360 348h0M360 351h0M360 374h0M360 173h0M360 320h0M361 330h0M361 370h0M362 348h0M362 360h0M363 167h0M363 328h0M363 334h0M364 330h0M365 362h0M365 365h0M366 367h0M366 377h0M367 175h0M367 365h0M368 171h0M368 333h0M368 336h0M370 172h0M369 348h0M369 364h0M369 373h0M371 170h0M371 173h0M371 329h0M372 330h0M371 336h0M371 366h0M372 168h0M372 172h0M372 318h0M372 354h0M372 367h0M373 170h0M372 308h0M373 333h0M373 374h0M374 169h0M375 305h0M374 321h0M374 334h0M375 314h0M375 318h0M375 323h0M375 330h0M375 330h0M375 333h0M376 343h0M375 357h0M377 168h0M376 304h0M376 311h0M376 313h0M376 328h0M376 328h0M377 340h0M376 344h0M376 349h0M375 369h0M377 375h0M377 169h0M377 310h0M377 313h0M377 358h0M377 365h0M378 311h0M378 313h0M378 315h0M378 317h0M378 322h0M377 326h0M377 330h0M379 169h0M379 312h0M378 318h0M379 325h0M379 327h0M379 347h0M379 377h0M380 307h0M380 309h0M380 312h0M380 316h0M380 322h0M380 326h0M380 337h0M380 351h0M380 373h0M380 376h0M381 170h0M381 310h0M380 311h0M380 321h0M381 331h0M381 339h0M380 343h0M381 370h0M382 352h0M382 356h0M382 374h0M382 171h0M383 321h0M383 327h0M383 332h0M383 341h0M383 344h0M383 363h0M383 375h0M384 172h0M383 306h0M384 315h0M384 319h0M384 322h0M384 341h0M384 343h0M385 358h0M384 364h0M385 367h0M384 376h0M385 312h0M385 325h0M385 328h0M384 332h0M385 358h0M386 347h0M386 353h0M386 377h0M386 173h0M387 311h0M386 325h0M387 326h0M386 343h0M387 351h0M387 368h0M387 374h0M389 159h0M389 323h0M389 332h0M389 367h0M390 165h0M390 315h0M390 346h0M390 358h0M390 360h0M392 162h0M392 341h0M394 318h0M393 322h0M394 171h0M394 312h0M393 329h0M394 337h0M395 165h0M395 339h0M396 364h0M397 368h0M397 164h0M397 328h0M398 168h0M399 319h0M400 171h0M401 323h0M400 355h0M402 170h0M401 306h0M405 173h0M404 328h0M405 174h0M405 341h0M406 352h0M407 161h0M408 337h0M408 352h0M409 356h0M408 367h0M409 169h0M409 350h0M409 371h0M411 166h0M411 349h0M411 352h0M413 340h0M412 342h0M411 373h0M414 345h0M413 352h0M414 353h0M414 368h0M415 349h0M416 172h0M416 351h0M417 173h0M417 340h0M417 349h0M417 354h0M418 351h0M419 360h0M420 329h0M422 169h0M422 164h0M422 346h0M423 322h0M423 350h0M424 174h0M424 309h0M424 323h0M424 343h0M425 169h0M426 322h0M426 335h0M426 346h0M425 348h0M426 353h0M427 172h0M427 317h0M427 368h0M428 331h0M428 346h0M430 164h0M429 166h0M429 325h0M429 328h0M428 337h0M429 346h0M428 367h0M428 377h0M430 165h0M430 326h0M430 328h0M430 350h0M431 320h0M431 362h0M432 169h0M434 169h0M434 344h0M436 170h0M437 318h0M438 174h0M439 334h0M440 331h0M440 338h0M440 342h0M441 351h0M440 372h0M441 166h0M441 348h0M441 353h0M441 377h0M442 168h0M443 346h0M443 370h0M444 160h0M444 170h0M445 327h0M445 338h0M445 343h0M445 351h0M445 363h0M447 171h0M446 341h0M446 354h0M446 365h0M447 165h0M447 332h0M447 345h0M447 353h0M448 167h0M448 333h0M448 351h0M448 352h0M449 183h0M451 177h0M451 184h0M451 187h0M452 346h0M452 352h0M453 187h0M454 334h0M454 345h0M455 344h0M455 349h0M455 355h0M455 185h0M456 319h0M457 333h0M456 374h0M457 329h0M457 333h0M457 343h0M458 367h0M458 345h0M458 358h0M457 360h0M458 366h0M459 341h0M459 371h0M460 360h0M462 314h0M462 367h0M463 318h0M463 329h0M463 356h0M464 330h0M464 374h0M465 178h0M465 187h0M466 333h0M465 364h0M466 326h0M466 333h0M467 325h0M467 327h0M467 370h0M466 372h0M468 331h0M468 357h0M468 366h0M469 319h0M470 348h0M470 184h0M470 188h0M470 339h0M469 347h0M470 348h0M470 361h0M471 185h0M471 190h0M472 353h0M470 356h0M471 366h0M472 316h0M472 360h0M473 185h0M472 322h0M473 341h0M473 344h0M473 353h0M474 179h0M474 319h0M475 184h0M475 313h0M474 335h0M475 340h0M475 350h0M475 353h0M475 366h0M476 326h0M476 356h0M476 361h0M477 370h0M477 187h0M477 337h0M477 342h0M478 182h0M478 190h0M478 330h0M479 331h0M481 335h0M481 352h0M482 360h0M481 366h0M482 178h0M482 306h0M482 313h0M482 319h0M482 323h0M482 325h0M482 374h0M483 321h0M484 307h0M485 190h0M485 349h0M485 376h0M486 321h0M486 371h0M487 184h0M488 312h0M487 339h0M488 181h0M488 310h0M489 328h0M490 351h0M490 307h0M490 318h0M491 308h0M490 359h0M492 316h0M493 189h0M493 308h0M494 311h0M493 330h0M494 191h0M495 193h0M493 320h0M494 328h0M494 337h0M494 364h0M495 315h0M495 340h0M495 354h0M496 346h0M497 194h0M497 305h0M497 313h0M497 333h0M497 339h0M497 288h0M498 307h0M498 321h0M498 337h0M498 354h0M499 327h0M500 303h0M500 308h0M500 313h0M500 349h0M501 294h0M501 310h0M501 317h0M501 337h0M501 340h0M501 366h0M502 169h0M502 288h0M502 292h0M502 298h0M502 304h0M502 370h0M503 171h0M503 302h0M503 306h0M503 315h0M503 353h0M504 293h0M504 312h0M504 315h0M504 319h0M504 367h0M504 370h0M505 175h0M505 177h0M506 299h0M505 375h0M506 287h0M505 289h0M507 310h0M505 315h0M506 325h0M506 332h0M506 351h0M506 367h0M506 371h0M507 179h0M507 289h0M507 292h0M507 309h0M507 359h0M508 300h0M508 306h0M508 329h0M508 362h0M508 170h0M509 180h0M509 310h0M509 349h0M510 172h0M510 333h0M510 334h0M511 365h0M510 377h0M511 344h0M512 295h0M512 308h0M511 327h0M512 348h0M512 355h0M512 369h0M513 181h0M513 292h0M513 330h0M512 336h0M513 352h0M513 361h0M513 369h0M514 298h0M514 315h0M513 322h0M514 326h0M515 182h0M515 350h0M516 304h0M516 315h0M516 320h0M516 326h0M516 345h0M517 180h0M517 328h0M517 343h0M518 179h0M518 290h0M518 309h0M519 168h0M518 178h0M519 178h0M519 326h0M521 311h0M519 372h0M521 318h0M520 324h0M521 330h0M521 345h0M521 358h0M521 373h0M522 187h0M522 323h0M522 342h0M522 358h0M522 365h0M522 368h0M521 372h0M523 313h0M523 323h0M523 327h0M523 333h0M524 337h0M524 345h0M524 357h0M524 364h0M525 181h0M525 330h0M525 332h0M525 337h0M526 340h0M525 346h0M525 357h0M525 366h0M525 375h0M526 316h0M527 177h0M527 312h0M527 334h0M527 337h0M527 347h0M526 349h0M527 356h0M528 190h0M528 338h0M528 340h0M528 368h0M529 183h0M529 335h0M529 357h0M529 376h0M529 180h0M530 187h0M530 318h0M530 320h0M530 325h0M531 327h0M530 348h0M530 351h0M531 373h0M531 331h0M531 347h0M531 368h0M531 370h0M532 179h0M532 318h0M532 328h0M532 338h0M531 350h0M531 370h0M532 376h0M533 322h0M533 323h0M533 356h0M533 355h0M534 375h0M535 334h0M536 330h0M537 163h0M538 175h0M540 168h0M540 169h0M540 375h0M541 346h0M542 332h0M542 346h0M542 376h0M542 331h0M543 367h0M545 174h0M546 182h0M550 321h0M550 324h0M550 340h0M550 354h0M551 170h0M552 320h0M552 349h0M552 361h0M553 172h0M553 329h0M553 345h0M553 365h0M554 179h0M554 318h0M554 331h0M554 376h0M555 327h0M555 332h0M555 343h0M555 345h0M555 356h0M556 367h0M556 173h0M556 178h0M556 320h0M556 330h0M556 331h0M556 341h0M556 378h0M557 309h0M557 312h0M557 327h0M558 176h0M559 338h0M558 345h0M558 367h0M559 322h0M559 350h0M558 377h0M560 331h0M560 342h0M560 352h0M561 362h0M561 341h0M561 364h0M562 167h0M562 352h0M563 349h0M564 168h0M564 303h0M564 313h0M566 302h0M565 323h0M566 342h0M566 350h0M566 372h0M567 164h0M567 171h0M567 328h0M567 350h0M568 354h0M567 321h0M568 324h0M568 337h0M569 340h0M568 354h0M568 367h0M569 170h0M569 329h0M569 347h0M570 377h0M570 166h0M570 315h0M570 367h0M571 188h0M571 314h0M571 343h0M571 370h0M571 371h0M572 319h0M572 332h0M573 190h0M574 321h0M574 336h0M573 345h0M573 354h0M573 362h0M574 313h0M574 317h0M574 328h0M575 335h0M574 336h0M574 343h0M574 351h0M574 376h0M575 312h0M575 316h0M575 321h0M575 328h0M575 334h0M575 337h0M575 348h0M575 355h0M576 330h0M576 332h0M576 341h0M576 352h0M576 359h0M576 377h0M577 327h0M577 330h0M577 333h0M578 349h0M578 355h0M577 365h0M578 330h0M578 336h0M578 341h0M578 347h0M578 356h0M578 359h0M578 376h0M579 377h0M579 331h0M580 332h0M579 354h0M579 358h0M579 364h0M580 319h0M581 326h0M581 328h0M580 332h0M580 338h0M581 344h0M580 368h0M582 183h0M581 348h0M581 184h0M582 186h0M583 317h0M582 322h0M582 343h0M583 180h0M584 325h0M583 327h0M583 337h0M584 184h0M584 333h0M584 338h0M583 345h0M584 358h0M584 365h0M584 375h0M584 376h0M586 324h0M586 341h0M586 318h0M587 319h0M587 326h0M587 339h0M587 372h0M586 373h0M588 362h0M589 162h0M589 332h0M588 349h0M590 163h0M590 168h0M590 326h0M590 329h0M590 375h0M591 161h0M591 340h0M590 349h0M591 361h0M592 167h0M592 329h0M592 333h0M592 336h0M592 352h0M593 165h0M593 332h0M593 370h0M594 160h0M594 166h0M594 326h0M594 333h0M594 358h0M593 370h0M595 322h0M595 333h0M596 326h0M596 332h0M596 337h0M597 169h0M597 320h0M597 329h0M597 334h0M597 366h0M598 374h0M598 319h0M598 321h0M598 336h0M598 345h0M598 360h0M599 327h0M598 328h0M599 332h0M599 337h0M600 180h0M600 328h0M599 341h0M600 349h0M602 329h0M602 332h0M602 336h0M601 358h0M602 171h0M602 309h0M602 318h0M603 322h0M602 335h0M602 343h0M601 348h0M603 174h0M603 305h0M603 333h0M602 336h0M602 345h0M604 172h0M605 306h0M604 308h0M604 332h0M604 334h0M603 340h0M604 358h0M604 369h0M605 162h0M604 356h0M605 361h0M606 152h0M606 342h0M607 319h0M608 349h0M608 319h0M609 324h0M611 151h0M610 163h0M610 338h0M612 355h0M613 163h0M617 164h0M618 152h0M618 159h0M619 163h0M618 348h0M617 353h0M619 151h0M620 339h0M620 366h0M620 371h0M620 373h0M620 351h0M621 370h0M622 325h0M622 335h0M622 369h0M623 329h0M623 351h0M625 184h0M624 347h0M624 376h0M625 174h0M624 339h0M625 356h0M626 325h0M626 345h0M627 181h0M628 183h0M627 324h0M627 367h0M628 171h0M628 183h0M628 344h0M630 333h0M630 360h0M631 178h0M632 330h0M632 348h0M634 187h0M635 161h0M635 327h0M635 355h0M636 357h0M638 317h0M637 358h0M638 328h0M638 351h0M639 353h0M639 315h0M639 324h0M639 162h0M640 326h0M642 163h0M641 165h0M641 368h0M642 353h0M642 364h0M643 333h0M643 352h0M644 165h0M644 167h0M644 339h0M644 341h0M644 376h0M645 166h0M646 328h0M646 332h0M646 370h0M647 171h0M647 173h0M648 353h0M649 172h0M649 373h0M651 317h0M651 319h0M653 177h0M653 326h0M653 341h0M653 344h0M653 349h0M652 357h0M654 166h0M654 314h0M654 345h0M654 361h0M655 326h0M655 349h0M656 369h0M656 170h0M656 311h0M656 313h0M656 330h0M656 338h0M656 369h0M657 330h0M658 342h0M658 349h0M658 175h0M658 313h0M658 323h0M658 337h0M658 365h0M659 177h0M658 315h0M659 320h0M659 324h0M659 335h0M659 354h0M659 364h0M660 176h0M660 328h0M662 179h0M662 181h0M662 315h0M662 317h0M662 182h0M663 339h0M663 348h0M664 177h0M664 333h0M664 340h0M664 372h0M665 187h0M665 316h0M665 323h0M664 324h0M665 375h0M665 377h0M666 321h0M666 343h0M666 363h0M666 366h0M667 321h0M667 339h0M667 344h0M667 370h0M667 377h0M668 362h0M669 184h0M669 341h0M669 342h0M670 176h0M670 181h0M671 328h0M670 346h0M669 353h0M670 356h0M670 361h0M670 362h0M671 335h0M671 370h0M671 177h0M672 322h0M672 333h0M672 335h0M672 339h0M672 352h0M673 181h0M673 334h0M672 340h0M673 343h0M673 366h0M674 182h0M675 320h0M674 323h0M674 359h0M675 366h0M674 371h0M675 178h0M675 182h0M674 317h0M674 340h0M676 349h0M676 347h0M676 354h0M676 356h0M676 368h0M678 329h0M676 355h0M677 366h0M677 372h0M678 170h0M678 174h0M678 329h0M678 348h0M679 364h0M679 173h0M680 372h0M680 166h0M680 323h0M680 358h0M679 370h0M681 173h0M680 327h0M681 334h0M681 368h0M682 172h0M682 324h0M682 361h0M682 362h0M683 327h0M683 335h0M684 346h0M683 165h0M684 338h0M684 343h0M684 350h0M684 357h0M684 367h0M684 372h0M685 335h0M685 343h0M685 368h0M685 370h0M686 338h0M686 369h0M687 340h0M687 356h0M688 335h0M688 325h0M689 337h0M689 174h0M690 326h0M691 361h0M691 161h0M691 334h0M690 344h0M691 376h0M692 165h0M691 342h0M693 320h0M693 325h0M693 335h0M693 354h0M695 172h0M694 325h0M694 328h0M695 326h0M695 354h0M696 342h0M696 378h0M697 170h0M697 325h0M698 333h0M697 338h0M696 350h0M697 366h0M698 326h0M698 331h0M698 366h0M699 359h0M700 346h0M701 172h0M701 314h0M701 174h0M701 306h0M702 327h0M703 330h0M702 343h0M702 344h0M702 346h0M702 361h0M703 304h0M702 307h0M704 311h0M703 316h0M702 317h0M703 334h0M704 319h0M704 327h0M705 172h0M705 320h0M705 331h0M705 337h0M705 340h0M705 341h0M704 346h0M705 352h0M705 374h0M705 303h0M706 306h0M706 311h0M706 324h0M706 332h0M705 353h0M707 310h0M708 340h0M707 341h0M707 346h0M708 324h0M709 350h0M711 172h0M710 315h0M711 317h0M711 172h0M712 344h0M713 170h0M713 370h0M713 159h0M714 342h0M714 358h0M715 168h0M715 316h0M715 344h0M716 337h0M716 340h0M716 345h0M717 328h0M717 333h0M717 337h0M718 332h0M718 347h0M718 369h0M718 371h0M719 164h0M719 352h0M719 355h0M721 161h0M721 337h0M720 359h0M721 346h0M721 374h0M722 322h0M722 324h0M722 326h0M722 318h0M723 327h0M722 331h0M723 333h0M723 340h0M723 348h0M724 322h0M724 330h0M724 355h0M725 307h0M725 309h0M725 370h0M726 354h0M726 365h0M726 376h0M727 342h0M728 318h0M728 333h0M728 339h0M728 342h0M728 347h0M728 351h0M729 159h0M729 196h0M728 315h0M729 317h0M729 357h0M729 361h0M729 376h0M730 192h0M730 309h0M730 335h0M730 346h0M731 191h0M731 324h0M731 327h0M731 329h0M731 345h0M732 316h0M732 319h0M732 332h0M732 372h0M733 191h0M732 314h0M733 326h0M733 330h0M733 331h0M733 341h0M733 344h0M733 375h0M733 378h0M734 306h0M734 310h0M734 313h0M734 331h0M733 333h0M734 339h0M734 344h0M733 362h0M735 315h0M736 335h0M735 336h0M735 346h0M735 349h0M735 351h0M736 188h0M736 195h0M736 315h0M736 329h0M736 332h0M736 337h0M736 360h0M736 376h0M737 189h0M737 322h0M737 333h0M737 353h0M738 366h0M738 192h0M738 338h0M738 341h0M739 196h0M739 308h0M739 309h0M739 323h0M739 339h0M739 358h0M740 354h0M740 354h0M739 376h0M742 196h0M741 320h0M740 334h0M741 343h0M742 351h0M742 198h0M742 297h0M742 299h0M742 306h0M742 307h0M742 311h0M742 315h0M742 321h0M742 351h0M743 196h0M743 300h0M743 301h0M744 312h0M743 321h0M743 331h0M743 346h0M743 359h0M744 321h0M744 326h0M743 332h0M744 338h0M744 342h0M745 336h0M744 338h0M746 340h0M746 192h0M745 316h0M746 317h0M747 329h0M746 346h0M746 357h0M747 186h0M748 336h0M750 161h0M751 320h0M752 331h0M751 341h0M752 344h0M752 346h0M752 357h0M752 185h0M753 319h0M753 375h0M754 182h0M754 192h0M754 305h0M754 310h0M754 329h0M754 345h0M755 191h0M755 331h0M755 341h0M756 192h0M756 315h0M757 323h0M756 346h0M757 334h0M757 340h0M757 343h0M757 351h0M757 371h0M758 323h0M758 344h0M759 331h0M759 338h0M759 353h0M759 354h0M760 317h0M760 332h0M760 338h0M761 338h0M760 349h0M760 352h0M761 177h0M761 308h0M761 313h0M761 314h0M761 336h0M761 351h0M762 370h0M762 174h0M762 325h0M762 355h0M762 366h0M762 170h0M763 174h0M763 176h0M763 351h0M764 328h0M763 347h0M765 176h0M766 364h0M768 328h0M767 336h0M767 360h0M768 324h0M768 329h0M768 351h0M769 323h0M770 177h0M770 323h0M770 354h0M771 179h0M771 323h0M771 342h0M772 174h0M772 178h0M773 179h0M772 299h0M772 365h0M773 291h0M772 293h0M774 308h0M773 328h0M773 335h0M775 182h0M776 328h0M777 171h0M777 175h0M777 332h0M778 353h0M778 182h0M779 182h0M778 187h0M780 186h0M780 331h0M780 346h0M780 349h0M782 165h0M782 171h0M782 318h0M782 361h0M783 321h0M784 324h0M784 378h0M786 161h0M785 169h0M786 171h0M785 327h0M785 346h0M785 348h0M784 350h0M786 167h0M787 171h0M786 356h0M787 340h0M787 343h0M788 160h0M787 328h0M788 333h0M789 341h0M790 340h0M790 352h0M791 328h0M791 343h0M791 365h0M791 162h0M792 365h0M793 347h0M794 162h0M793 165h0M794 365h0M794 377h0M795 331h0M796 168h0M796 331h0M796 338h0M797 330h0M797 345h0M798 361h0M797 363h0M797 370h0M797 376h0M798 166h0M798 329h0M798 343h0M799 349h0M799 167h0M799 326h0M799 349h0M799 351h0M799 355h0M801 327h0M800 338h0M801 322h0M800 328h0M801 335h0M801 362h0M802 339h0M802 345h0M802 352h0M802 359h0M802 365h0M803 376h0M804 177h0M804 349h0M804 351h0M806 338h0M806 346h0M807 172h0M807 327h0M808 331h0M809 178h0M809 331h0M809 339h0M809 366h0M809 367h0M810 341h0M809 358h0M810 364h0M810 373h0M809 375h0M812 316h0M812 358h0M812 373h0M813 339h0M813 341h0M813 352h0M813 356h0M814 176h0M814 180h0M814 327h0M814 336h0M814 342h0M814 361h0M815 325h0M815 361h0M815 329h0M816 339h0M816 353h0M816 358h0M817 171h0M817 311h0M817 326h0M817 336h0M816 344h0M817 373h0M817 163h0M817 328h0M818 331h0M818 340h0M818 362h0M818 364h0M819 169h0M820 330h0M819 365h0M820 318h0M820 334h0M820 348h0M820 355h0M820 317h0M821 318h0M821 322h0M821 326h0M821 363h0M822 324h0M822 329h0M822 334h0M823 345h0M822 168h0M823 168h0M823 336h0M823 338h0M824 169h0M824 331h0M823 334h0M824 336h0M824 356h0M825 329h0M825 349h0M825 351h0M826 367h0M827 332h0M827 340h0M827 361h0M827 370h0M828 172h0M829 168h0M829 312h0M829 322h0M829 326h0M830 343h0M830 347h0M831 159h0M831 166h0M831 360h0M832 170h0M832 172h0M832 315h0M833 319h0M832 363h0M833 331h0M834 302h0M834 308h0M835 161h0M835 165h0M834 306h0M835 350h0M836 320h0M837 321h0M837 350h0M837 351h0M838 168h0M838 296h0M838 309h0M838 330h0M838 346h0M838 360h0M839 376h0M839 351h0M839 362h0M839 378h0M840 307h0M840 366h0M840 373h0M840 378h0M842 173h0M842 338h0M842 354h0M843 171h0M843 306h0M843 309h0M843 310h0M842 318h0M843 334h0M843 337h0M844 306h0M844 309h0M844 332h0M845 308h0M845 312h0M845 326h0M845 327h0M846 306h0M846 311h0M846 352h0M847 171h0M847 372h0M847 174h0M848 306h0M849 375h0M849 161h0M849 308h0M849 309h0M848 317h0M850 169h0M851 324h0M852 162h0M852 170h0M852 335h0M853 329h0M854 317h0M853 319h0M854 322h0M854 336h0M854 348h0M854 372h0M855 310h0M855 324h0M855 332h0M855 336h0M855 337h0M855 343h0M855 346h0M855 376h0M856 174h0M857 308h0M856 322h0M856 325h0M856 354h0M856 368h0M857 312h0M857 324h0M857 332h0M857 336h0M857 353h0M857 362h0M858 377h0M859 175h0M858 307h0M858 367h0M858 370h0M859 325h0M859 327h0M859 358h0M859 366h0M860 313h0M860 317h0M861 340h0M861 173h0M861 317h0M861 332h0M861 336h0M861 360h0M863 311h0M862 337h0M862 344h0M862 351h0M862 353h0M863 163h0M864 376h0M864 376h0M865 367h0M867 165h0M867 343h0M868 350h0M869 369h0M869 159h0M871 338h0M872 350h0M873 159h0M873 166h0M873 340h0M875 334h0M874 344h0M875 360h0M874 336h0M875 374h0M878 328h0M878 344h0M879 336h0M879 377h0M881 336h0M882 164h0M882 164h0M883 360h0M884 161h0M885 155h0M886 157h0M884 159h0M885 346h0M885 358h0M886 342h0M887 162h0M887 334h0M888 331h0M888 167h0M889 320h0M889 324h0M889 333h0M889 334h0M889 359h0M890 350h0M889 376h0M890 165h0M892 167h0M891 319h0M891 376h0M892 332h0M893 334h0M894 159h0M894 163h0M895 162h0M895 166h0M895 369h0M895 353h0M897 332h0M897 370h0M898 367h0M899 161h0M899 335h0M898 353h0M900 347h0M900 355h0M901 163h0M901 335h0M901 337h0M901 342h0M901 345h0M901 358h0M900 362h0M902 366h0M902 369h0M903 161h0M904 329h0M903 362h0M904 329h0M905 341h0M904 361h0M904 377h0M905 175h0M906 343h0M907 328h0M906 344h0M906 369h0M908 176h0M907 310h0M907 330h0M907 367h0M908 324h0M908 340h0M908 357h0M909 330h0M909 341h0M909 351h0M909 365h0M909 369h0M910 167h0M910 168h0M910 309h0M910 321h0M910 328h0M911 335h0M910 343h0M911 310h0M911 340h0M910 351h0M913 369h0M914 370h0M915 334h0M915 348h0M914 350h0M916 172h0M916 339h0M917 169h0M917 175h0M918 323h0M916 349h0M918 169h0M918 176h0M918 313h0M917 321h0M918 333h0M918 336h0M920 175h0M919 310h0M919 319h0M919 365h0M920 180h0M921 170h0M921 344h0M920 352h0M922 178h0M922 308h0M922 320h0M922 363h0M922 177h0M924 181h0M923 334h0M923 350h0M924 329h0M925 313h0M926 174h0M925 353h0M926 172h0M929 370h0M930 377h0M931 315h0M931 327h0M932 180h0M932 309h0M932 345h0M933 313h0M933 329h0M933 331h0M933 354h0M934 159h0M934 316h0M934 327h0M934 331h0M934 340h0M934 359h0M935 177h0M935 179h0M936 321h0M935 323h0M935 326h0M935 335h0M935 345h0M935 346h0M935 356h0M935 371h0M937 179h0M936 310h0M936 322h0M936 325h0M936 341h0M936 355h0M937 177h0M937 316h0M937 326h0M938 298h0M938 308h0M938 311h0M938 324h0M939 328h0M938 331h0M940 313h0M939 322h0M939 327h0M939 328h0M940 331h0M939 352h0M939 352h0M939 363h0M941 311h0M939 313h0M940 320h0M940 348h0M941 187h0M941 327h0M942 186h0M942 189h0M942 298h0M942 301h0M942 334h0M943 181h0M943 184h0M943 187h0M943 189h0M942 308h0M944 355h0M946 189h0M945 342h0M946 151h0M947 299h0M948 184h0M948 321h0M948 340h0M949 183h0M949 185h0M949 336h0M949 356h0M951 180h0M951 318h0M951 324h0M952 332h0M952 308h0M952 311h0M952 345h0M951 376h0M953 338h0M953 345h0M953 356h0M953 367h0M956 177h0M955 181h0M955 182h0M956 184h0M956 348h0M957 183h0M958 183h0M959 360h0M960 177h0M959 185h0M960 327h0M961 342h0M959 367h0M962 184h0M962 373h0M963 175h0M963 336h0M964 331h0M964 372h0M966 338h0M967 355h0M969 174h0M968 182h0M969 338h0M969 181h0M969 334h0M969 348h0M968 360h0M969 360h0M968 365h0M970 337h0M970 343h0M970 365h0M969 374h0M971 183h0M971 339h0M971 362h0M972 184h0M972 315h0M972 337h0M972 351h0M972 369h0M973 187h0M973 324h0M973 338h0M974 182h0M974 334h0M974 372h0M976 338h0M976 185h0M975 324h0M976 329h0M976 343h0M977 358h0M976 367h0M977 328h0M977 333h0M977 342h0M976 351h0M977 358h0M977 372h0M978 184h0M978 185h0M978 319h0M978 322h0M977 325h0M978 333h0M979 186h0M979 314h0M979 320h0M979 327h0M979 334h0M980 339h0M979 365h0M979 369h0M979 377h0M981 183h0M980 334h0M981 339h0M980 353h0M980 356h0M980 364h0M981 177h0M981 180h0M982 353h0M981 368h0M981 377h0M982 171h0M982 173h0M982 316h0M982 319h0M981 328h0M982 335h0M982 358h0M982 368h0M983 377h0M984 176h0M984 325h0M983 327h0M984 346h0M985 341h0M986 339h0M987 352h0M987 359h0M987 371h0M989 326h0M988 350h0M989 169h0M989 332h0M989 344h0M989 347h0M990 350h0M988 354h0M989 355h0M989 342h0M991 167h0M992 178h0M991 329h0M991 330h0M991 341h0M992 321h0M992 333h0M991 347h0M993 179h0M992 315h0M993 319h0M993 325h0M993 331h0M993 332h0M993 343h0M993 358h0M993 359h0M993 369h0M993 376h0M995 168h0M995 331h0M995 364h0M996 174h0M996 317h0M996 175h0M999 320h0M999 335h0M999 368h0M1000 176h0M999 318h0M1001 174h0M1001 321h0M1001 337h0M1001 346h0M1001 173h0M1001 177h0M1002 310h0M1003 151h0M1003 300h0M1003 343h0M1003 349h0M1004 176h0M1004 319h0M1004 339h0M1005 317h0M1005 352h0M1006 361h0M1007 170h0M1007 177h0M1007 321h0M1008 363h0M1008 320h0M1008 186h0M1010 334h0M1009 358h0M1008 364h0M1010 334h0M1011 372h0M1012 377h0M1011 330h0M1012 355h0M1012 360h0M1013 180h0M1013 187h0M1013 190h0M1013 319h0M1013 328h0M1013 364h0M1015 322h0M1015 187h0M1015 316h0M1016 316h0M1015 340h0M1017 320h0M1017 328h0M1017 335h0M1017 338h0M1018 171h0M1018 325h0M1018 354h0M1021 166h0M1021 172h0M1021 322h0M1023 174h0M1023 349h0M1024 170h0M1025 157h0M1026 338h0M1025 354h0M1025 351h0M1027 167h0M1026 330h0M1029 333h0M1028 352h0M1028 354h0M1029 199h0M1029 338h0M1029 347h0M1030 193h0M1030 346h0M1030 354h0M1030 369h0M1030 373h0M1031 337h0M1031 346h0M1031 351h0M1032 344h0M1032 347h0M1032 350h0M1032 352h0M1032 356h0M1033 197h0M1034 334h0M1033 371h0M1033 332h0M1034 366h0M1035 328h0M1035 333h0M1035 337h0M1035 338h0M1035 351h0M1035 355h0M1035 360h0M1036 341h0M1036 343h0M1037 351h0M1035 354h0M1037 194h0M1037 351h0M1038 180h0M1038 294h0M1038 300h0M1038 308h0M1039 312h0M1038 325h0M1037 330h0M1038 345h0M1038 347h0M1038 359h0M1039 296h0M1040 300h0M1039 307h0M1039 316h0M1040 339h0M1039 353h0M1040 355h0M1039 372h0M1039 375h0M1040 170h0M1040 181h0M1040 328h0M1040 328h0M1040 351h0M1041 181h0M1041 318h0M1041 333h0M1041 358h0M1040 363h0M1042 177h0M1042 332h0M1043 172h0M1043 185h0M1042 314h0M1043 316h0M1042 336h0M1043 348h0M1043 370h0M1044 338h0M1044 344h0M1044 349h0M1044 366h0M1044 308h0M1046 313h0M1045 320h0M1044 338h0M1046 319h0M1046 335h0M1047 300h0M1047 308h0M1047 330h0M1047 332h0M1048 307h0M1048 353h0M1048 367h0M1049 331h0M1049 349h0M1049 358h0M1049 360h0M1050 325h0M1052 324h0M1050 331h0M1051 373h0M1053 184h0M1053 343h0M1053 359h0M1054 184h0M1054 325h0M1054 333h0M1055 184h0M1057 349h0M1058 184h0M1058 326h0M1058 334h0M1060 316h0M1061 330h0M1061 343h0M1063 349h0M1064 183h0M1064 317h0M1064 356h0M1064 367h0M1065 364h0M1066 182h0M1066 183h0M1067 331h0M1068 174h0M1069 184h0M1069 181h0M1070 337h0M1071 345h0M1071 356h0M1072 322h0M1073 178h0M1073 322h0M1073 351h0M1074 316h0M1074 375h0M1074 176h0M1075 179h0M1075 355h0M1077 341h0M1078 180h0M1078 336h0M1079 333h0M1079 343h0M1078 348h0M1079 369h0M1079 376h0M1080 346h0M1081 169h0M1081 329h0M1081 353h0M1081 366h0M1081 176h0M1082 305h0M1082 311h0M1082 329h0M1082 339h0M1084 308h0M1083 312h0M1083 328h0M1083 339h0M1084 350h0M1083 354h0M1083 370h0M1084 307h0M1085 309h0M1084 314h0M1084 322h0M1084 327h0M1084 330h0M1084 335h0M1084 352h0M1084 378h0M1085 300h0M1085 316h0M1085 325h0M1085 329h0M1085 340h0M1085 344h0M1084 344h0M1085 358h0M1086 368h0M1087 168h0M1086 309h0M1086 322h0M1086 324h0M1086 327h0M1085 342h0M1086 375h0M1086 166h0M1087 303h0M1087 316h0M1088 329h0M1088 336h0M1088 347h0M1088 360h0M1088 361h0M1089 307h0M1090 313h0M1089 315h0M1088 319h0M1089 320h0M1089 323h0M1089 324h0M1089 329h0M1088 331h0M1090 313h0M1090 316h0M1090 361h0M1091 335h0M1091 374h0M1093 314h0M1092 334h0M1093 164h0M1094 314h0M1093 317h0M1093 323h0M1093 329h0M1093 345h0M1094 318h0M1093 341h0M1094 360h0M1096 168h0M1096 334h0M1096 337h0M1096 341h0M1097 166h0M1097 311h0M1097 323h0M1097 344h0M1097 349h0M1097 355h0M1097 369h0M1098 169h0M1098 357h0M1099 346h0M1099 352h0M1100 336h0M1101 169h0M1101 334h0M1101 337h0M1101 341h0M1100 374h0M1103 159h0M1103 366h0M1105 166h0M1105 168h0M1105 368h0M1104 377h0M1105 340h0M1107 161h0M1107 171h0M1108 325h0M1108 327h0M1109 341h0M1108 374h0M1109 174h0M1109 326h0M1109 328h0M1109 333h0M1110 163h0M1110 169h0M1109 322h0M1110 342h0M1111 323h0M1113 166h0M1112 348h0M1113 168h0M1115 355h0M1116 169h0M1117 348h0M1118 159h0M1117 368h0M1120 378h0M1120 172h0M1121 341h0M1123 160h0M1124 166h0M1124 172h0M1123 353h0M1124 351h0M1125 167h0M1125 371h0M1125 357h0M1128 167h0M1128 160h0M1128 160h0M1129 314h0M1129 335h0M1131 167h0M1132 306h0M1133 300h0M1133 305h0M1134 325h0M1133 339h0M1134 351h0M1135 178h0M1135 320h0M1135 339h0M1135 341h0M1135 344h0M1135 346h0M1135 353h0M1135 365h0M1135 378h0M1136 347h0M1136 376h0M1136 341h0M1137 354h0M1137 356h0M1137 363h0M1138 367h0M1138 372h0M1138 378h0M1139 179h0M1139 330h0M1139 358h0M1139 367h0M1139 373h0M1140 320h0M1139 340h0M1140 349h0M1140 351h0M1140 363h0M1140 365h0M1141 178h0M1141 344h0M1141 347h0M1141 350h0M1141 364h0M1141 367h0M1141 369h0M1141 375h0M1142 321h0M1143 324h0M1142 331h0M1143 341h0M1142 347h0M1142 365h0M1144 337h0M1144 352h0M1147 328h0M1148 180h0M1148 333h0M1149 362h0M1150 325h0M1151 184h0M1152 367h0M1152 192h0M1153 344h0M1151 371h0M1153 346h0M1155 339h0M1154 349h0M1153 378h0M1154 187h0M1155 188h0M1156 181h0M1156 336h0M1156 355h0M1157 346h0M1158 190h0M1158 192h0M1158 342h0M1158 377h0M1159 354h0M1160 371h0M1160 339h0M1161 344h0M1159 377h0M1162 188h0M1166 330h0M1166 352h0M1168 188h0M1167 347h0M1168 184h0M1168 341h0M1168 377h0M1169 190h0M1171 189h0M1170 191h0M1170 359h0M1170 364h0M1171 190h0M1171 339h0M1171 347h0M1170 352h0M1172 181h0M1171 187h0M1171 340h0M1172 367h0M1172 378h0M1173 353h0M1173 364h0M1174 340h0M1174 197h0M1175 336h0M1175 355h0M1175 376h0M1176 322h0M1175 324h0M1176 334h0M1176 342h0M1176 348h0M1176 362h0M1176 375h0M1177 189h0M1178 197h0M1176 319h0M1178 321h0M1178 322h0M1177 329h0M1177 333h0M1177 337h0M1177 358h0M1177 372h0M1178 310h0M1178 311h0M1178 334h0M1178 338h0M1179 342h0M1178 345h0M1179 352h0M1179 377h0M1179 342h0M1179 345h0M1180 332h0M1180 340h0M1180 352h0M1181 354h0M1180 364h0M1180 372h0M1181 188h0M1182 374h0M1182 329h0M1182 330h0M1182 338h0M1183 185h0M1183 348h0M1183 349h0M1183 356h0M1183 360h0M1184 363h0M1183 366h0M1184 178h0M1184 186h0M1184 320h0M1184 321h0M1183 338h0M1185 324h0M1185 329h0M1185 346h0M1185 363h0M1186 184h0M1187 326h0M1186 336h0M1186 320h0M1188 181h0M1188 186h0M1187 190h0M1189 178h0M1191 344h0M1192 361h0M1194 370h0M1195 186h0M1196 340h0M1197 352h0M1198 366h0M1199 373h0M1201 371h0M1204 202h0M1205 352h0M1206 205h0M1207 343h0M1207 345h0M1208 366h0M1208 368h0M1209 206h0M1209 362h0M1209 375h0M1210 200h0M1210 203h0M1211 346h0M1210 351h0M1210 355h0M1211 375h0M1211 350h0M1212 192h0M1211 343h0M1212 346h0M1213 196h0M1213 342h0M1213 347h0M1214 345h0M1215 351h0M1214 366h0M1214 199h0M1216 201h0M1216 356h0M1216 370h0M1217 190h0M1217 350h0M1217 358h0M1219 363h0M1220 370h0M1221 196h0M1223 360h0M1224 368h0M1224 195h0M1224 360h0M1225 357h0M1226 367h0M1226 364h0M1227 199h0M1227 364h0M1228 195h0M1228 356h0M1228 364h0M1229 351h0M1229 360h0M1229 367h0M1229 372h0M1230 363h0M1233 198h0M1235 199h0M1235 362h0M1237 353h0M1239 184h0M1239 349h0M1240 371h0M1241 179h0M1241 354h0M1241 370h0M1244 343h0M1243 377h0M1245 346h0M1245 365h0M1246 348h0M1246 366h0M1246 367h0M1247 187h0M1247 352h0M1247 356h0M1248 178h0M1248 180h0M1248 346h0M1249 348h0M1248 369h0M1247 371h0M1249 343h0M1249 359h0M1249 361h0M1250 207h0M1250 348h0M1251 206h0M1251 354h0M1250 361h0M1251 377h0M1252 359h0M1252 363h0M1253 206h0M1253 365h0M1254 351h0M1254 376h0M1254 203h0M1255 345h0M1255 369h0M1255 374h0M1256 184h0M1257 368h0M1258 369h0M1258 371h0M1259 361h0M1260 216h0M1262 221h0M1261 370h0M1262 366h0M1263 229h0M1263 358h0M1264 237h0M1263 364h0M1264 370h0M1264 373h0M1265 240h0M1268 231h0M1268 236h0M1268 369h0M1270 360h0M1271 235h0M1272 373h0M1272 374h0M1275 240h0M1275 352h0M1275 236h0M1277 355h0M1278 233h0M1277 350h0M1278 355h0M1278 366h0M1279 238h0M1280 363h0M1280 352h0M1280 374h0M1281 350h0M1281 360h0M1282 232h0M1283 353h0M1283 355h0M1284 372h0M1285 235h0M1286 367h0M1289 232h0M1290 344h0M1293 235h0M1294 247h0M1294 249h0M1294 345h0M1295 350h0M1295 344h0M1296 246h0M1297 348h0M1297 356h0M1297 372h0M1297 349h0M1300 344h0M1301 239h0M1301 372h0M1301 345h0M1302 348h0M1302 351h0M1302 358h0M1302 377h0M1303 349h0M1303 366h0M1305 242h0M1305 346h0M1306 250h0M1307 219h0M1307 227h0M1307 353h0M1308 231h0M1309 360h0M1307 365h0M1309 366h0M1309 369h0M1310 234h0M1310 364h0M1312 232h0M1310 238h0M1310 362h0M1312 348h0M1311 355h0M1311 371h0M1313 367h0M1315 373h0M1316 373h0M1316 374h0M1318 351h0M1318 370h0M1318 374h0M1318 362h0M1318 371h0M1320 362h0M1319 372h0M1320 375h0M1319 377h0M1321 373h0M1321 241h0M1323 367h0M1324 240h0M1324 353h0M1324 377h0M1325 221h0M1326 357h0M1326 351h0M1327 355h0M1327 373h0M1328 240h0M1328 243h0M1328 367h0M1329 242h0M1332 371h0M1333 244h0M1334 235h0M1335 242h0M1337 370h0M1337 230h0M1337 235h0M1339 227h0M1340 359h0M1340 369h0M1342 235h0M1342 351h0M1343 231h0M1343 239h0M1344 239h0M1344 372h0M1345 236h0M1345 236h0M1344 354h0M1345 362h0M1346 240h0M1348 227h0M1348 361h0M1350 223h0M1350 228h0M1351 357h0M1351 361h0M1351 375h0M1352 252h0M1352 356h0M1353 364h0M1352 364h0M1353 244h0M1353 360h0M1353 363h0M1353 373h0M1354 249h0M1354 254h0M1354 368h0M1354 369h0M1356 239h0M1355 355h0M1355 361h0M1356 358h0M1357 243h0M1357 251h0M1357 354h0M1357 364h0M1357 372h0M1357 377h0M1358 371h0M1359 350h0M1359 356h0M1360 251h0M1359 355h0M1360 371h0M1360 377h0M1361 358h0M1361 358h0M1361 372h0M1362 244h0M1363 365h0M1364 356h0M1365 239h0M1366 235h0M1366 357h0M1368 368h0M1369 357h0M1370 359h0M1371 238h0M1372 235h0M1373 244h0M1375 369h0M1376 350h0M1377 360h0M1377 366h0M1379 239h0M1380 241h0M1380 348h0M1381 351h0M1381 360h0M1382 237h0M1382 348h0M1382 351h0M1382 364h0M1382 373h0M1382 352h0M1384 343h0M1385 244h0M1385 370h0M1386 354h0M1386 355h0M1386 373h0M1387 351h0M1387 364h0M1388 358h0M1390 369h0M1391 353h0M1392 351h0M1393 253h0M1393 363h0M1394 250h0M1396 371h0M1398 357h0M1398 378h0M1399 349h0M1400 252h0M1401 352h0M1400 353h0M1400 354h0M1401 259h0M1402 350h0M1401 362h0M1401 365h0M1400 373h0M1402 368h0M1403 253h0M1403 349h0M1403 358h0M1404 257h0M1404 259h0M1405 356h0M1406 253h0M1406 352h0M1406 353h0M1406 374h0M1407 260h0M1407 351h0M1407 358h0M1407 367h0M1407 375h0M1408 261h0M1408 349h0M1407 351h0M1409 354h0M1408 365h0M1409 369h0M1410 351h0M1412 352h0M1412 354h0M1413 261h0M1415 360h0M1415 249h0M1417 355h0M1417 366h0M1417 374h0M1418 377h0M1420 376h0M1420 371h0M1421 373h0M1422 248h0M1423 255h0M1422 257h0M1422 358h0M1422 365h0M1423 370h0M1424 257h0M1424 362h0M1424 366h0M1423 370h0M1424 376h0M1425 257h0M1426 358h0M1427 366h0M1427 370h0M1426 370h0M1426 372h0M1427 365h0M1428 349h0M1429 252h0M1430 256h0M1430 351h0M1431 342h0M1432 371h0M1432 377h0M1433 377h0M1434 377h0M1435 251h0M1437 250h0M1437 372h0M1437 373h0M1438 247h0M1438 252h0M1439 250h0M1440 238h0M1440 243h0M1441 233h0M1442 352h0M1442 240h0M1442 240h0M1442 351h0M1443 229h0M1443 351h0M1443 370h0M1444 234h0M1444 234h0M1445 228h0M1445 233h0M1445 378h0M1447 239h0M1447 250h0M1452 244h0M1454 243h0M1454 363h0M1460 244h0M1461 247h0M1461 241h0M1462 238h0M1462 368h0M1463 239h0M1463 364h0M1464 201h0M1464 350h0M1464 360h0M1464 364h0M1464 369h0M1466 349h0M1464 350h0M1465 364h0M1466 232h0M1466 234h0M1465 356h0M1466 376h0M1467 348h0M1467 354h0M1467 362h0M1468 377h0M1469 378h0M1470 217h0M1470 365h0M1470 369h0M1470 374h0M1472 243h0M1473 231h0M1472 360h0M1475 240h0M1474 355h0M1475 235h0M1476 238h0M1478 222h0M1478 225h0M1478 371h0M1479 373h0M1479 218h0M1480 227h0M1480 361h0M1482 228h0M1482 355h0M1483 222h0M1483 225h0M1482 362h0M1482 369h0M1482 373h0M1487 217h0M1486 365h0M1487 368h0M1487 211h0M1488 372h0M1489 209h0M1490 219h0M1491 360h0M1492 371h0M1494 358h0M1493 375h0M1494 198h0M1494 361h0M1495 198h0M1496 374h0M1497 369h0M1498 201h0M1499 199h0M1501 352h0M1502 188h0M1503 187h0M1503 199h0M1503 200h0M1505 357h0M1505 195h0M1506 340h0M1506 363h0M1507 343h0M1507 347h0M1507 348h0M1507 359h0M1509 348h0M1507 349h0M1509 351h0M1509 346h0M1510 349h0M1509 201h0M1510 344h0M1510 347h0M1510 349h0M1509 372h0M1511 201h0M1511 351h0M1511 359h0M1511 378h0M1512 200h0M1514 199h0M1515 195h0M1514 371h0M1517 198h0M1517 198h0M1518 364h0M1520 196h0M1520 360h0M1520 192h0M1522 371h0M1523 374h0M1524 199h0M1527 194h0M1527 198h0M1528 371h0M1530 348h0M1530 352h0M1530 358h0M1530 370h0M1531 200h0M1532 188h0M1532 195h0M1533 199h0M1536 195h0M1535 348h0M1536 202h0M1536 208h0M1536 359h0M1536 197h0M1537 356h0M1537 357h0M1538 362h0M1538 362h0M1539 358h0M1539 193h0M1541 184h0M1541 377h0M1542 196h0M1543 188h0M1545 190h0M1546 371h0M1549 181h0M1548 360h0M1548 372h0M1548 376h0M1549 347h0M1548 364h0M1549 374h0M1550 377h0M1550 349h0M1550 353h0M1551 356h0M1551 373h0M1551 377h0M1552 179h0M1552 353h0M1556 198h0M1555 203h0M1556 350h0M1555 362h0M1558 199h0M1559 189h0M1560 193h0M1561 173h0M1562 373h0M1563 199h0M1565 195h0M1565 373h0M1566 192h0M1568 358h0M1573 191h0M1573 346h0M1573 368h0M1574 374h0M1575 192h0M1574 199h0M1576 190h0M1577 194h0M1577 199h0M1577 341h0M1578 343h0M1577 376h0M1578 194h0M1580 191h0M1581 347h0M1581 348h0M1580 371h0M1582 343h0M1581 345h0M1581 196h0M1584 313h0M1585 325h0M1584 347h0M1584 354h0M1585 319h0M1585 345h0M1586 358h0M1586 375h0M1586 188h0M1586 190h0M1585 329h0M1586 332h0M1587 188h0M1587 196h0M1586 324h0M1587 330h0M1586 356h0M1587 357h0M1588 190h0M1588 193h0M1588 332h0M1588 348h0M1588 354h0M1589 194h0M1589 332h0M1589 349h0M1590 342h0M1590 353h0M1591 191h0M1591 320h0M1591 321h0M1591 339h0M1591 345h0M1591 347h0M1591 351h0M1591 355h0M1593 318h0M1592 348h0M1593 192h0M1593 193h0M1593 332h0M1593 348h0M1593 348h0M1594 189h0M1593 324h0M1594 338h0M1594 355h0M1593 374h0M1595 333h0M1595 345h0M1594 354h0M1596 323h0M1596 325h0M1596 348h0M1596 348h0M1596 355h0M1595 363h0M1595 373h0M1597 187h0M1596 326h0M1597 327h0M1597 332h0M1598 315h0M1598 327h0M1598 351h0M1598 370h0M1599 324h0M1600 332h0M1601 349h0M1601 358h0M1602 346h0M1603 321h0M1603 334h0M1603 342h0M1603 355h0M1604 191h0M1603 328h0M1604 332h0M1604 347h0M1605 333h0M1605 348h0M1606 353h0M1606 370h0M1607 190h0M1607 343h0M1607 372h0M1607 375h0M1607 376h0M1608 191h0M1609 344h0M1607 373h0M1609 354h0M1609 373h0M1610 331h0M1611 188h0M1611 336h0M1610 341h0M1611 362h0M1612 353h0M1612 372h0M1614 337h0M1614 343h0M1614 358h0M1616 190h0M1616 345h0M1616 186h0M1617 340h0M1616 344h0M1617 185h0M1617 368h0M1616 377h0M1618 192h0M1617 345h0M1618 351h0M1619 191h0M1619 355h0M1619 377h0M1620 182h0M1620 189h0M1620 364h0M1620 370h0M1619 374h0M1620 375h0M1621 188h0M1621 190h0M1621 346h0M1621 355h0M1621 372h0M1625 190h0M1625 196h0M1625 343h0M1626 340h0M1626 342h0M1627 354h0M1627 172h0M1627 352h0M1630 183h0M1630 345h0M1630 370h0M1630 377h0M1632 177h0M1631 180h0M1633 179h0M1633 373h0M1634 328h0M1634 345h0M1634 365h0M1634 371h0M1634 183h0M1635 188h0M1634 344h0M1635 350h0M1635 373h0M1636 178h0M1636 321h0M1636 351h0M1637 322h0M1637 341h0M1637 350h0M1637 365h0M1638 317h0M1638 326h0M1638 327h0M1637 343h0M1638 344h0M1639 336h0M1639 363h0M1643 188h0M1643 325h0M1644 192h0M1646 187h0M1645 323h0M1645 368h0M1645 311h0M1647 308h0M1646 313h0M1647 325h0M1647 327h0M1647 367h0M1647 372h0M1649 331h0M1647 349h0M1650 320h0M1649 328h0M1649 351h0M1648 356h0M1650 195h0M1650 324h0M1650 342h0M1649 361h0M1651 313h0M1651 317h0M1651 322h0M1650 335h0M1652 340h0M1651 342h0M1651 346h0M1651 349h0M1651 352h0M1650 358h0M1651 370h0M1652 193h0M1652 328h0M1652 331h0M1651 333h0M1651 340h0M1653 191h0M1653 315h0M1653 318h0M1654 327h0M1653 341h0M1653 343h0M1654 193h0M1653 311h0M1654 315h0M1654 317h0M1654 329h0M1654 345h0M1655 194h0M1655 347h0M1657 369h0M1659 198h0M1659 307h0M1660 341h0M1662 167h0M1662 349h0M1662 372h0M1663 179h0M1663 177h0M1665 175h0M1666 173h0M1666 175h0M1666 177h0M1666 347h0M1667 177h0M1667 327h0M1668 178h0M1670 356h0M1675 333h0M1674 360h0M1675 371h0M1676 324h0M1676 367h0M1677 171h0M1677 346h0M1677 349h0M1677 370h0M1678 332h0M1678 345h0M1678 357h0M1678 327h0M1679 336h0M1680 342h0M1679 345h0M1678 355h0M1679 360h0M1679 363h0M1681 179h0M1679 336h0M1681 181h0M1680 323h0M1682 354h0M1682 361h0M1681 181h0M1682 183h0M1681 326h0M1682 331h0M1682 344h0M1682 363h0M1683 176h0M1683 181h0M1683 319h0M1683 359h0M1683 361h0M1684 183h0M1683 331h0M1684 334h0M1683 343h0M1684 354h0M1685 305h0M1685 332h0M1686 173h0M1686 178h0M1686 314h0M1686 318h0M1686 328h0M1687 171h0M1687 321h0M1687 356h0M1687 378h0M1688 353h0M1689 341h0M1689 357h0M1690 331h0M1690 349h0M1690 355h0M1690 362h0M1690 375h0M1691 174h0M1691 350h0M1692 179h0M1692 314h0M1692 350h0M1692 362h0M1693 175h0M1693 178h0M1693 180h0M1693 340h0M1693 362h0M1694 170h0M1694 313h0M1694 323h0M1693 329h0M1694 357h0M1694 367h0M1695 167h0M1695 333h0M1695 340h0M1695 367h0M1696 319h0M1696 340h0M1696 347h0M1696 353h0M1696 355h0M1697 329h0M1697 372h0M1698 174h0M1698 316h0M1698 323h0M1698 335h0M1698 352h0M1698 374h0M1699 172h0M1700 167h0M1699 172h0M1700 177h0M1700 348h0M1700 351h0M1701 173h0M1701 322h0M1700 342h0M1702 166h0M1702 176h0M1703 340h0M1705 173h0M1706 177h0M1705 368h0M1706 349h0M1707 326h0M1707 365h0M1708 174h0M1708 323h0M1709 159h0M1709 173h0M1711 174h0M1711 322h0M1711 373h0M1712 326h0M1714 192h0M1715 349h0M1715 329h0M1715 331h0M1715 340h0M1715 351h0M1716 318h0M1716 354h0M1716 354h0M1717 177h0M1717 329h0M1718 357h0M1724 170h0M1726 339h0M1725 363h0M1727 163h0M1726 328h0M1728 329h0M1727 333h0M1727 344h0M1727 355h0M1727 367h0M1728 167h0M1727 355h0M1728 375h0M1729 327h0M1729 330h0M1730 330h0M1732 347h0M1732 356h0M1732 358h0M1732 365h0M1733 348h0M1734 372h0M1733 376h0M1734 170h0M1734 346h0M1734 350h0M1733 356h0M1733 372h0M1735 326h0M1737 167h0M1737 335h0M1736 363h0M1737 352h0M1738 168h0M1738 327h0M1738 334h0M1737 341h0M1738 348h0M1739 165h0M1739 168h0M1739 334h0M1739 339h0M1740 185h0M1740 339h0M1740 344h0M1741 324h0M1741 364h0M1741 372h0M1742 318h0M1742 354h0M1743 182h0M1743 368h0M1744 182h0M1744 344h0M1744 349h0M1746 161h0M1746 177h0M1745 331h0M1746 346h0M1746 361h0M1746 376h0M1747 366h0M1749 170h0M1748 365h0M1749 177h0M1751 179h0M1752 365h0M1753 180h0M1754 182h0M1754 311h0M1756 163h0M1756 168h0M1756 319h0M1757 147h0M1758 354h0M1758 367h0M1759 354h0M1759 364h0M1760 164h0M1760 364h0M1761 159h0M1760 318h0M1761 323h0M1761 327h0M1762 369h0M1762 167h0M1762 307h0M1762 348h0M1763 168h0M1763 168h0M1763 304h0M1763 309h0M1763 312h0M1763 313h0M1763 315h0M1763 331h0M1764 337h0M1763 344h0M1763 372h0M1763 372h0M1764 171h0M1763 307h0M1764 313h0M1764 317h0M1763 325h0M1764 343h0M1765 166h0M1766 306h0M1765 318h0M1765 328h0M1765 346h0M1765 349h0M1765 352h0M1765 374h0M1767 168h0M1766 170h0M1766 310h0M1766 315h0M1766 317h0M1766 336h0M1766 374h0M1767 165h0M1767 308h0M1767 314h0M1767 314h0M1767 317h0M1767 318h0M1768 332h0M1767 333h0M1767 360h0M1767 371h0M1768 323h0M1768 330h0M1768 331h0M1768 337h0M1768 351h0M1768 377h0M1769 172h0M1769 317h0M1769 318h0M1769 325h0M1768 354h0M1769 358h0M1769 373h0M1769 376h0M1769 378h0M1770 310h0M1770 317h0M1770 324h0M1770 340h0M1771 161h0M1770 331h0M1771 355h0M1773 332h0M1772 343h0M1772 344h0M1773 319h0M1772 334h0M1772 337h0M1772 352h0M1773 356h0M1773 371h0M1774 179h0M1774 321h0M1774 343h0M1774 348h0M1775 325h0M1774 338h0M1775 356h0M1776 176h0M1776 308h0M1777 316h0M1776 327h0M1776 328h0M1776 373h0M1777 174h0M1777 307h0M1777 311h0M1777 355h0M1777 363h0M1778 358h0M1779 180h0M1779 185h0M1779 331h0M1779 343h0M1779 347h0M1779 368h0M1780 187h0M1780 314h0M1779 346h0M1780 347h0M1780 355h0M1780 363h0M1781 186h0M1780 188h0M1781 325h0M1781 328h0M1781 339h0M1781 353h0M1781 361h0M1782 183h0M1782 367h0M1783 177h0M1783 184h0M1783 188h0M1783 329h0M1784 349h0M1784 163h0M1784 319h0M1783 328h0M1784 344h0M1784 163h0M1785 171h0M1785 335h0M1785 359h0M1785 369h0M1787 158h0M1787 367h0M1787 169h0M1789 331h0M1788 337h0M1789 169h0M1789 321h0M1789 330h0M1789 333h0M1789 337h0M1789 350h0M1791 309h0M1790 315h0M1790 317h0M1790 319h0M1790 321h0M1790 326h0M1790 340h0M1790 344h0M1790 356h0M1790 377h0M1791 309h0M1791 323h0M1791 333h0M1791 338h0M1791 363h0M1791 374h0M1792 169h0M1792 322h0M1792 330h0M1792 338h0M1793 329h0M1793 339h0M1794 358h0M1793 360h0M1794 371h0M1795 329h0M1794 336h0M1795 338h0M1795 363h0M1797 166h0M1797 322h0M1798 167h0M1798 327h0M1800 304h0M1800 321h0M1801 355h0M1800 366h0M1802 165h0M1802 364h0M1803 170h0M1803 325h0M1803 339h0M1803 350h0M1802 375h0M1805 165h0M1805 161h0M1805 304h0M1805 320h0M1805 324h0M1805 376h0M1806 317h0M1806 321h0M1806 347h0M1806 357h0M1805 361h0M1807 171h0M1807 323h0M1807 371h0M1809 319h0M1809 155h0M1809 171h0M1809 308h0M1809 333h0M1810 306h0M1810 362h0M1811 167h0M1813 333h0M1813 353h0M1815 352h0M1815 359h0M1815 362h0M1815 374h0M1816 313h0M1817 161h0M1819 162h0M1819 174h0M1820 172h0M1820 313h0M1820 319h0M1821 366h0M1822 165h0M1821 329h0M1823 166h0M1824 170h0M1825 306h0M1825 329h0M1825 355h0M1825 369h0M1826 323h0M1826 329h0M1826 342h0M1827 359h0M1827 372h0M1827 373h0M1828 160h0M1829 335h0M1829 336h0M1830 352h0M1830 311h0M1830 314h0M1831 330h0M1831 349h0M1832 341h0M1833 289h0M1833 295h0M1833 315h0M1833 322h0M1832 354h0M1834 305h0M1834 314h0M1834 335h0M1834 340h0M1835 158h0M1835 334h0M1835 335h0M1835 368h0M1836 161h0M1836 327h0M1837 331h0M1836 341h0M1836 344h0M1837 297h0M1837 337h0M1838 163h0M1838 295h0M1838 317h0M1838 355h0M1838 363h0M1839 315h0M1840 332h0M1840 151h0M1840 160h0M1840 337h0M1840 339h0M1839 351h0M1840 372h0M1841 168h0M1842 301h0M1842 181h0M1842 284h0M1842 314h0M1843 299h0M1844 329h0M1845 299h0M1845 314h0M1846 293h0M1846 334h0M1846 298h0M1847 304h0M1847 314h0M1848 353h0M1849 174h0M1849 322h0M1850 325h0M1850 357h0M1851 304h0M1852 182h0M1852 308h0M1854 351h0M1854 305h0M1856 301h0M1856 321h0M1857 336h0M1856 357h0M1856 367h0M1857 182h0M1857 296h0M1857 312h0M1857 325h0M1856 335h0M1857 376h0M1858 308h0M1858 318h0M1858 327h0M1858 345h0M1858 348h0M1858 367h0M1858 376h0M1859 308h0M1859 320h0M1859 364h0M1859 366h0M1858 376h0M1860 326h0M1860 332h0M1860 348h0M1860 372h0M1861 175h0M1861 309h0M1861 311h0M1861 317h0M1861 328h0M1861 329h0M1861 330h0M1861 335h0M1861 363h0M1862 366h0M1862 302h0M1862 342h0M1862 356h0M1862 375h0M1863 183h0M1863 294h0M1863 309h0M1863 323h0M1863 336h0M1863 371h0M1864 310h0M1865 319h0M1866 372h0M1866 305h0M1868 322h0M1869 315h0M1871 374h0M1872 185h0M1872 348h0M1872 361h0M1872 180h0M1873 317h0M1873 351h0M1874 170h0M1874 297h0M1874 308h0M1874 321h0M1874 325h0M1874 328h0M1875 306h0M1876 180h0M1876 300h0M1876 319h0M1876 338h0M1876 344h0M1876 345h0M1876 347h0M1877 171h0M1878 300h0M1877 325h0M1877 335h0M1877 336h0M1876 338h0M1877 342h0M1877 365h0M1877 366h0M1877 372h0M1878 180h0M1879 315h0M1878 341h0M1879 350h0M1879 304h0M1879 324h0M1879 347h0M1879 350h0M1880 170h0M1879 173h0M1881 177h0M1880 181h0M1880 286h0M1880 295h0M1882 179h0M1884 341h0M1884 372h0M1885 301h0M1886 371h0M1888 295h0M1888 299h0M1889 170h0M1889 297h0M1889 298h0M1888 336h0M1891 326h0M1890 349h0M1890 365h0M1891 312h0M1891 335h0M1892 314h0M1892 355h0M1892 361h0M1893 314h0M1893 352h0M1892 355h0M1893 357h0M1894 313h0M1894 316h0M1894 318h0M1894 332h0M1895 343h0M1895 318h0M1896 363h0M1895 377h0M1896 171h0M1896 314h0M1896 314h0M1896 377h0M1897 159h0M1897 161h0M1897 307h0M1898 309h0M1897 310h0M1898 319h0M1899 328h0M1898 333h0M1898 337h0M1898 367h0M1899 301h0M1899 304h0M1899 324h0M1899 346h0M1900 312h0M1900 315h0M1900 318h0M1900 334h0M1901 165h0M1901 326h0M1900 338h0M1902 164h0M1903 296h0M1903 306h0M1902 349h0M1903 354h0M1903 298h0M1903 340h0M1904 157h0M1904 159h0M1905 327h0M1904 353h0M1905 314h0M1905 351h0M1906 162h0M1906 338h0M1906 356h0M1906 376h0M1907 322h0M1907 375h0M1908 163h0M1908 169h0M1908 354h0M1910 315h0M1909 355h0M1908 367h0M1910 169h0M1911 313h0M1910 348h0M1911 315h0M1911 330h0M1911 343h0M1910 345h0M1911 373h0M1913 167h0M1912 319h0M1911 320h0M1912 339h0M1912 343h0M1913 162h0M1913 165h0M1914 158h0M1915 162h0M1914 167h0M1914 341h0M1915 312h0M1916 316h0M1916 321h0M1916 327h0M1916 332h0M1916 352h0M1916 364h0M1917 320h0M1918 303h0M1918 325h0M1918 367h0M1918 375h0M1918 377h0M1918 324h0M1920 339h0M1920 334h0M1920 340h0M1920 345h0M1919 351h0M1920 360h0M1920 365h0M1920 376h0M1921 332h0M1921 369h0M1922 332h0M1922 333h0M1921 349h0M1923 330h0M1923 337h0M1923 370h0M1923 377h0M1924 313h0M1924 340h0M1923 346h0M1925 329h0M1925 334h0M1926 305h0M1926 325h0M1927 373h0M1926 376h0M1927 182h0M1927 304h0M1928 309h0M1927 341h0M1927 348h0M1927 348h0M1927 353h0M1928 302h0M1928 311h0M1928 315h0M1928 317h0M1928 324h0M1928 341h0M1928 349h0M1928 358h0M1929 303h0M1929 319h0M1929 341h0M1929 349h0M1929 351h0M1930 317h0M1930 329h0M1930 333h0M1930 372h0M1930 375h0M1932 295h0M1931 299h0M1931 315h0M1932 321h0M1931 329h0M1931 338h0M1932 339h0M1931 353h0M1932 315h0M1932 335h0M1932 336h0M1932 364h0M1932 375h0M1933 311h0M1933 337h0M1934 356h0M1933 360h0M1934 184h0M1934 310h0M1933 337h0M1935 363h0M1935 179h0M1935 183h0M1935 311h0M1935 316h0M1935 319h0M1935 331h0M1936 341h0M1936 178h0M1936 322h0M1936 325h0M1936 372h0M1937 307h0M1937 334h0M1937 350h0M1938 182h0M1938 325h0M1938 329h0M1938 353h0M1938 360h0M1938 370h0M1939 349h0M1939 357h0M1940 339h0M1940 355h0M1941 331h0M1941 340h0M1941 341h0M1941 343h0M1941 361h0M1941 367h0M1942 325h0M1942 330h0M1942 341h0M1942 367h0M1943 169h0M1943 321h0M1942 346h0M1943 365h0M1944 157h0M1944 169h0M1944 321h0M1944 331h0M1944 346h0M1945 311h0M1945 330h0M1945 338h0M1945 340h0M1945 351h0M1945 365h0M1945 367h0M1946 158h0M1945 160h0M1946 165h0M1946 323h0M1946 330h0M1946 338h0M1947 369h0M1947 164h0M1947 323h0M1947 331h0M1947 334h0M1947 343h0M1947 354h0M1948 373h0M1948 324h0M1948 330h0M1948 336h0M1949 340h0M1950 307h0M1950 310h0M1950 316h0M1950 323h0M1950 334h0M1950 369h0M1951 303h0M1951 319h0M1951 350h0M1951 371h0M1952 372h0M1952 167h0M1953 342h0M1953 348h0M1954 166h0M1954 353h0M1955 164h0M1954 170h0M1955 330h0M1956 188h0M1956 307h0M1956 311h0M1955 323h0M1956 333h0M1956 342h0M1956 365h0M1957 302h0M1957 305h0M1957 333h0M1958 334h0M1957 376h0M1958 317h0M1958 338h0M1958 345h0M1958 354h0M1959 320h0M1960 336h0M1960 189h0M1959 299h0M1961 327h0M1959 356h0M1960 359h0M1961 313h0M1961 347h0M1961 354h0M1964 147h0M1964 303h0M1964 321h0M1964 325h0M1965 158h0M1966 161h0M1967 337h0M1967 344h0M1967 353h0M1967 358h0M1969 298h0M1969 310h0M1969 333h0M1969 360h0M1970 308h0M1970 317h0M1970 333h0M1970 346h0M1971 314h0M1971 355h0M1970 358h0M1971 375h0M1972 160h0M1972 300h0M1972 305h0M1972 331h0M1972 334h0M1972 337h0M1971 367h0M1972 375h0M1973 158h0M1973 160h0M1972 163h0M1974 295h0M1972 350h0M1973 351h0M1975 318h0M1974 362h0M1975 324h0M1979 354h0M1980 164h0M1981 317h0M1982 354h0M1983 162h0M1984 354h0M1984 361h0M1985 155h0M1986 145h0M1985 167h0M1986 345h0M1987 362h0M1986 368h0M1987 163h0M1986 332h0M1988 343h0M1986 356h0M1987 357h0M1987 360h0M1988 330h0M1988 344h0M1988 361h0M1988 374h0M1989 330h0M1990 323h0M1990 332h0M1990 337h0M1990 366h0M1991 166h0M1992 157h0M1992 164h0M1992 321h0M1992 327h0M1992 329h0M1993 334h0M1991 348h0M1992 365h0M1993 357h0M1993 358h0M1993 375h0M1994 166h0M1994 361h0M1994 365h0M1995 176h0M1995 347h0M1997 328h0M1997 333h0M1999 178h0M2000 317h0M1999 324h0M1999 350h0M1999 354h0M1999 304h0M2000 309h0M2000 312h0M2000 315h0M2000 340h0M2000 359h0M2001 316h0M2002 349h0M2003 178h0M2002 348h0M2003 349h0M2003 351h0M2003 334h0M2003 346h0M2003 353h0M2004 350h0M2004 319h0M2005 334h0M2005 362h0M2006 341h0M2008 167h0M2007 177h0M2007 351h0M2008 369h0M2008 350h0M2008 354h0M2008 358h0M2011 168h0M2012 173h0M2011 336h0M2011 168h0M2013 347h0M2013 376h0M2015 169h0M2016 312h0M2016 177h0M2017 323h0M2017 329h0M2016 352h0M2016 372h0M2017 169h0M2017 312h0M2017 314h0M2017 342h0M2017 349h0M2018 364h0M2018 168h0M2018 309h0M2018 311h0M2018 323h0M2020 173h0M2018 367h0M2020 167h0M2022 165h0M2021 319h0M2021 322h0M2023 337h0M2024 167h0M2025 167h0M2026 167h0M2026 163h0M2028 374h0M2028 334h0M2028 346h0M2029 170h0M2031 358h0M2031 366h0M2032 305h0M2032 328h0M2032 342h0M2032 352h0M2033 156h0M2033 169h0M2034 163h0M2037 338h0M2036 364h0M2037 160h0M2037 172h0M2037 326h0M2039 313h0M2038 323h0M2038 366h0M2039 162h0M2039 320h0M2039 370h0M2040 307h0M2042 358h0M2043 366h0M2044 163h0M2044 169h0M2045 168h0M2044 327h0M2045 347h0M2045 373h0M2046 170h0M2046 172h0M2046 320h0M2046 335h0M2047 373h0M2047 375h0M2048 161h0M2048 333h0M2048 350h0M2048 369h0M2049 170h0M2049 316h0M2049 326h0M2048 345h0M2050 313h0M2051 354h0M2051 173h0M2051 181h0M2052 179h0M2054 178h0M2053 343h0M2054 357h0M2054 372h0M2057 326h0M2057 347h0M2059 315h0M2058 329h0M2058 353h0M2058 187h0M2059 304h0M2059 324h0M2059 325h0M2059 327h0M2059 374h0M2059 309h0M2060 345h0M2061 309h0M2061 361h0M2062 185h0M2062 186h0M2062 298h0M2062 308h0M2063 311h0M2062 335h0M2063 166h0M2063 171h0M2063 305h0M2064 175h0M2064 315h0M2065 174h0M2065 302h0M2066 362h0M2067 301h0M2067 319h0M2067 328h0M2068 295h0M2068 313h0M2068 325h0M2068 331h0M2070 172h0M2069 305h0M2069 361h0M2070 174h0M2069 346h0M2071 307h0M2071 324h0M2071 329h0M2071 360h0M2071 369h0M2072 175h0M2072 312h0M2073 333h0M2072 334h0M2072 343h0M2072 346h0M2072 350h0M2072 371h0M2073 172h0M2073 324h0M2073 328h0M2074 316h0M2074 321h0M2075 332h0M2075 344h0M2075 356h0M2076 320h0M2076 348h0M2076 351h0M2077 355h0M2078 163h0M2077 174h0M2076 317h0M2079 166h0M2079 351h0M2079 358h0M2079 372h0M2080 174h0M2083 174h0M2083 170h0M2084 306h0M2083 313h0M2083 367h0M2084 347h0M2084 364h0M2085 164h0M2085 340h0M2087 168h0M2087 172h0M2087 306h0M2087 347h0M2088 172h0M2089 304h0M2088 314h0M2088 317h0M2089 176h0M2090 166h0M2090 334h0M2090 350h0M2090 326h0M2092 170h0M2092 302h0M2094 326h0M2096 176h0M2096 176h0M2096 320h0M2096 345h0M2097 169h0M2097 307h0M2099 340h0M2098 351h0M2098 357h0M2098 361h0M2098 371h0M2100 307h0M2101 315h0M2101 348h0M2103 173h0M2103 316h0M2101 329h0M2103 336h0M2102 346h0M2103 305h0M2104 337h0M2103 357h0M2104 310h0M2106 167h0M2106 355h0M2107 304h0M2107 315h0M2107 325h0M2107 331h0M2107 368h0M2108 162h0M2108 173h0M2108 310h0M2107 325h0M2109 321h0M2109 325h0M2110 313h0M2110 325h0M2110 334h0M2110 354h0M2111 174h0M2111 326h0M2111 333h0M2111 172h0M2112 308h0M2112 335h0M2113 173h0M2113 310h0M2113 340h0M2113 359h0M2114 305h0M2116 175h0M2116 315h0M2115 322h0M2116 353h0M2118 373h0M2118 355h0M2119 174h0M2120 326h0M2120 328h0M2121 161h0M2121 165h0M2121 371h0M2122 355h0M2123 361h0M2125 171h0M2124 174h0M2125 308h0M2125 324h0M2124 341h0M2127 178h0M2126 182h0M2126 184h0M2126 310h0M2126 322h0M2126 344h0M2127 313h0M2127 322h0M2127 339h0M2128 336h0M2128 357h0M2128 368h0M2128 374h0M2129 320h0M2129 343h0M2130 372h0M2129 179h0M2129 346h0M2130 356h0M2130 374h0M2131 309h0M2132 315h0M2131 328h0M2131 335h0M2131 343h0M2131 352h0M2131 355h0M2130 372h0M2131 375h0M2132 314h0M2132 323h0M2133 339h0M2134 300h0M2134 328h0M2134 342h0M2134 359h0M2136 188h0M2135 188h0M2135 353h0M2136 179h0M2136 184h0M2136 190h0M2137 183h0M2137 372h0M2138 304h0M2139 336h0M2142 301h0M2141 306h0M2142 309h0M2143 319h0M2143 306h0M2144 325h0M2144 342h0M2144 360h0M2144 374h0M2145 324h0M2145 346h0M2145 349h0M2145 377h0M2146 180h0M2146 352h0M2146 369h0M2147 313h0M2147 334h0M2148 355h0M2147 369h0M2148 184h0M2147 314h0M2148 339h0M2148 189h0M2149 344h0M2149 349h0M2149 352h0M2150 313h0M2150 316h0M2150 327h0M2150 340h0M2150 377h0M2151 309h0M2150 316h0M2151 341h0M2152 341h0M2153 161h0M2154 300h0M2154 331h0M2155 165h0M2155 313h0M2155 376h0M2156 318h0M2157 314h0M2157 327h0M2159 168h0M2159 368h0M2159 298h0M2160 301h0M2160 310h0M2160 312h0M2160 316h0M2160 320h0M2160 367h0M2159 371h0M2162 177h0M2161 297h0M2161 305h0M2161 316h0M2161 321h0M2162 325h0M2161 327h0M2161 347h0M2161 362h0M2161 373h0M2162 168h0M2162 299h0M2162 301h0M2162 319h0M2162 322h0M2162 323h0M2162 325h0M2162 340h0M2162 361h0M2162 368h0M2163 295h0M2163 309h0M2163 318h0M2163 345h0M2162 369h0M2163 376h0M2164 177h0M2164 287h0M2164 290h0M2164 298h0M2165 302h0M2164 307h0M2164 323h0M2164 329h0M2165 342h0M2164 373h0M2165 177h0M2165 286h0M2165 300h0M2165 302h0M2164 309h0M2165 321h0M2165 323h0M2165 327h0M2164 332h0M2165 342h0M2165 362h0M2165 365h0M2166 173h0M2166 320h0M2168 172h0M2168 297h0M2169 149h0M2169 175h0M2170 318h0M2170 368h0M2171 372h0M2172 296h0M2172 326h0M2175 307h0M2175 342h0M2177 332h0M2176 353h0M2179 174h0M2180 352h0M2181 350h0M2181 369h0M2182 167h0M2182 340h0M2185 168h0M2187 306h0M2186 309h0M2186 316h0M2187 167h0M2187 307h0M2188 316h0M2187 320h0M2187 329h0M2188 309h0M2188 312h0M2188 318h0M2189 342h0M2188 348h0M2188 351h0M2188 356h0M2188 362h0M2188 362h0M2188 374h0M2189 159h0M2189 301h0M2190 306h0M2189 312h0M2189 319h0M2189 328h0M2189 335h0M2189 338h0M2190 341h0M2191 177h0M2191 331h0M2193 313h0M2192 327h0M2191 339h0M2192 367h0M2192 182h0M2195 172h0M2194 311h0M2195 292h0M2195 298h0M2195 304h0M2195 314h0M2195 315h0M2195 323h0M2195 367h0M2196 287h0M2196 324h0M2196 354h0M2197 286h0M2197 294h0M2197 297h0M2197 300h0M2197 301h0M2196 313h0M2197 324h0M2197 361h0M2197 376h0M2198 305h0M2198 347h0M2198 358h0M2197 363h0M2198 372h0M2199 147h0M2199 175h0M2199 181h0M2199 311h0M2199 328h0M2199 337h0M2199 352h0M2199 358h0M2199 363h0M2199 366h0M2199 374h0M2200 337h0M2200 352h0M2200 362h0M2200 370h0M2200 376h0M2201 178h0M2201 299h0M2201 303h0M2201 306h0M2201 308h0M2201 326h0M2201 340h0M2201 348h0M2201 369h0M2203 303h0M2202 317h0M2203 351h0M2202 367h0M2202 368h0M2203 305h0M2203 309h0M2203 313h0M2203 321h0M2203 325h0M2203 328h0M2203 330h0M2203 345h0M2203 350h0M2204 181h0M2204 284h0M2206 179h0M2205 285h0M2205 287h0M2205 293h0M2205 297h0M2205 307h0M2205 321h0M2205 326h0M2205 349h0M2205 356h0M2205 362h0M2205 371h0M2206 372h0M2206 180h0M2206 302h0M2206 307h0M2206 314h0M2207 331h0M2206 336h0M2207 343h0M2206 345h0M2206 355h0M2207 292h0M2207 308h0M2207 312h0M2208 309h0M2208 317h0M2208 326h0M2208 330h0M2208 331h0M2208 354h0M2209 368h0M2209 177h0M2209 294h0M2209 297h0M2209 303h0M2209 306h0M2208 310h0M2209 315h0M2209 319h0M2209 323h0M2209 328h0M2209 352h0M2211 181h0M2210 315h0M2210 368h0M2212 180h0M2211 181h0M2211 351h0M2211 356h0M2212 370h0M2211 307h0M2212 311h0M2212 318h0M2212 329h0M2212 339h0M2212 356h0M2212 369h0M2212 375h0M2213 305h0M2213 311h0M2213 319h0M2214 179h0M2214 296h0M2214 309h0M2214 318h0M2215 169h0M2215 290h0M2216 306h0M2215 316h0M2215 318h0M2215 321h0M2215 341h0M2215 361h0M2216 173h0M2216 177h0M2216 293h0M2216 343h0M2216 374h0M2218 174h0M2217 297h0M2217 327h0M2217 338h0M2218 300h0M2218 323h0M2219 329h0M2219 330h0M2219 337h0M2219 368h0M2220 178h0M2220 297h0M2220 328h0M2220 336h0M2221 175h0M2221 176h0M2222 167h0M2222 179h0M2223 359h0M2224 356h0M2226 361h0M2227 313h0M2227 322h0M2227 334h0M2228 372h0M2228 173h0M2228 180h0M2228 304h0M2228 318h0M2228 320h0M2228 328h0M2228 332h0M2228 341h0M2228 357h0M2228 365h0M2229 305h0M2229 343h0M2228 369h0M2230 182h0M2230 324h0M2231 333h0M2230 340h0M2230 350h0M2230 357h0M2230 362h0M2231 315h0M2231 340h0M2231 347h0M2231 312h0M2232 330h0M2232 351h0M2233 310h0M2233 318h0M2232 326h0M2232 340h0M2233 355h0M2233 362h0M2235 182h0M2234 308h0M2234 322h0M2234 326h0M2234 329h0M2234 352h0M2234 366h0M2235 331h0M2235 335h0M2235 367h0M2236 353h0M2237 324h0M2236 328h0M2237 337h0M2237 353h0M2236 358h0M2236 370h0M2238 177h0M2238 317h0M2238 319h0M2238 330h0M2239 337h0M2238 358h0M2238 376h0M2239 176h0M2238 325h0M2240 178h0M2239 300h0M2240 313h0M2240 372h0M2242 306h0M2241 331h0M2241 336h0M2241 338h0M2241 376h0M2242 312h0M2241 345h0M2243 179h0M2243 311h0M2244 292h0M2244 299h0M2244 300h0M2244 303h0M2245 315h0M2244 330h0M2244 370h0M2244 290h0M2247 286h0M2246 289h0M2246 291h0M2246 302h0M2246 318h0M2246 323h0M2246 327h0M2246 343h0M2246 346h0M2248 312h0M2247 327h0M2248 345h0M2248 350h0M2248 372h0M2248 314h0M2249 317h0M2249 320h0M2249 347h0M2250 177h0M2250 302h0M2249 304h0M2250 309h0M2250 319h0M2250 324h0M2250 347h0M2250 374h0M2251 330h0M2250 345h0M2251 355h0M2251 357h0M2252 172h0M2252 175h0M2252 314h0M2252 321h0M2252 330h0M2253 306h0M2253 331h0M2252 337h0M2253 347h0M2253 350h0M2254 175h0M2254 292h0M2254 351h0M2254 363h0M2254 377h0M2255 169h0M2255 300h0M2255 335h0M2255 356h0M2255 359h0M2256 296h0M2256 301h0M2256 305h0M2256 312h0M2256 363h0M2256 370h0M2256 372h0M2256 307h0M2257 308h0M2257 333h0M2257 358h0M2258 305h0M2258 337h0M2258 345h0M2258 351h0M2258 154h0M2259 311h0M2259 315h0M2259 317h0M2259 318h0M2259 329h0M2259 346h0M2259 366h0M2260 317h0M2260 330h0M2260 334h0M2260 359h0M2261 162h0M2261 169h0M2261 301h0M2261 308h0M2261 315h0M2261 366h0M2262 295h0M2262 375h0M2263 159h0M2263 293h0M2263 302h0M2263 326h0M2263 338h0M2264 168h0M2264 312h0M2264 318h0M2264 325h0M2264 346h0M2264 349h0M2263 354h0M2264 366h0M2264 376h0M2265 316h0M2265 318h0M2266 158h0M2266 301h0M2265 360h0M2266 328h0M2267 336h0M2268 316h0M2268 319h0M2268 322h0M2268 323h0M2269 299h0M2268 322h0M2269 360h0M2270 157h0M2270 303h0M2269 365h0M2272 169h0M2272 312h0M2273 160h0M2273 341h0M2274 162h0M2274 320h0M2275 165h0M2276 170h0M2276 308h0M2276 328h0M2278 163h0M2277 337h0M2278 166h0M2278 315h0M2280 335h0M2279 340h0M2279 370h0M2280 313h0M2280 345h0M2280 374h0M2281 343h0M2281 360h0M2281 366h0M2282 170h0M2282 174h0M2282 322h0M2282 328h0M2282 348h0M2282 368h0M2283 330h0M2283 350h0M2283 363h0M2283 161h0M2284 168h0M2284 173h0M2284 311h0M2284 322h0M2284 323h0M2284 328h0M2284 332h0M2284 342h0M2285 350h0M2285 168h0M2285 324h0M2285 370h0M2285 318h0M2286 326h0M2286 332h0M2286 348h0M2287 166h0M2287 172h0M2287 306h0M2287 332h0M2287 344h0M2288 294h0M2288 303h0M2288 315h0M2288 332h0M2288 342h0M2288 347h0M2289 299h0M2289 310h0M2289 316h0M2289 328h0M2289 337h0M2289 345h0M2290 170h0M2290 319h0M2290 337h0M2291 168h0M2291 288h0M2291 298h0M2290 317h0M2291 368h0M2291 373h0M2292 168h0M2292 329h0M2292 359h0M2293 300h0M2293 322h0M2294 163h0M2295 167h0M2294 283h0M2294 285h0M2294 292h0M2293 299h0M2294 308h0M2294 317h0M2294 319h0M2294 320h0M2294 338h0M2294 344h0M2294 362h0M2294 373h0M2295 303h0M2296 332h0M2295 341h0M2295 352h0M2295 366h0M2296 164h0M2296 284h0M2296 298h0M2297 317h0M2297 160h0M2297 167h0M2297 305h0M2297 327h0M2298 162h0M2298 167h0M2298 329h0M2298 378h0M2300 166h0M2300 167h0M2301 313h0M2302 172h0M2302 336h0M2302 372h0M2303 167h0M2303 172h0M2304 327h0M2303 330h0M2303 342h0M2303 344h0M2302 375h0M2304 169h0M2304 327h0M2303 342h0M2305 374h0M2306 168h0M2306 325h0M2306 334h0M2306 336h0M2306 351h0M2307 325h0M2306 378h0M2308 348h0M2309 162h0M2309 329h0M2309 345h0M2309 375h0M2310 331h0M2310 346h0M2311 347h0M2310 367h0M2310 326h0M2312 328h0M2312 174h0M2312 176h0M2312 297h0M2313 302h0M2313 171h0M2313 303h0M2313 322h0M2313 325h0M2313 333h0M2313 371h0M2315 179h0M2314 296h0M2314 307h0M2315 302h0M2315 374h0M2316 293h0M2317 320h0M2317 321h0M2316 324h0M2316 349h0M2317 176h0M2317 319h0M2317 332h0M2318 297h0M2318 307h0M2318 354h0M2318 371h0M2318 375h0M2319 304h0M2319 314h0M2319 315h0M2320 322h0M2320 356h0M2320 177h0M2320 289h0M2319 304h0M2320 325h0M2320 353h0M2321 289h0M2321 340h0M2321 363h0M2322 286h0M2322 304h0M2322 307h0M2323 325h0M2322 330h0M2321 335h0M2322 338h0M2323 349h0M2323 295h0M2323 306h0M2323 309h0M2323 330h0M2323 335h0M2323 355h0M2323 367h0M2324 301h0M2324 312h0M2324 313h0M2324 315h0M2325 323h0M2324 329h0M2323 333h0M2324 337h0M2324 359h0M2324 362h0M2324 304h0M2325 315h0M2325 316h0M2325 362h0M2326 182h0M2326 301h0M2326 303h0M2326 307h0M2326 313h0M2326 330h0M2326 332h0M2326 337h0M2326 366h0M2327 292h0M2327 293h0M2326 296h0M2327 300h0M2326 309h0M2327 312h0M2328 315h0M2328 320h0M2327 327h0M2327 330h0M2327 361h0M2328 177h0M2328 300h0M2328 306h0M2328 314h0M2329 324h0M2328 326h0M2328 335h0M2328 360h0M2329 324h0M2330 308h0M2330 315h0M2330 320h0M2331 364h0M2331 175h0M2330 296h0M2332 306h0M2331 328h0M2331 335h0M2333 286h0M2332 297h0M2332 312h0M2332 320h0M2332 326h0M2332 332h0M2333 292h0M2333 306h0M2334 337h0M2333 339h0M2334 171h0M2335 177h0M2333 180h0M2334 330h0M2334 341h0M2333 344h0M2334 345h0M2335 303h0M2335 309h0M2335 330h0M2336 342h0M2335 346h0M2335 349h0M2335 377h0M2336 321h0M2336 360h0M2336 376h0M2337 172h0M2337 324h0M2337 335h0M2337 356h0M2339 168h0M2338 180h0M2338 182h0M2338 304h0M2338 308h0M2339 315h0M2339 368h0M2340 178h0M2340 325h0M2340 337h0M2341 342h0M2340 361h0M2341 318h0M2342 329h0M2341 337h0M2341 372h0M2342 308h0M2343 174h0M2342 311h0M2344 320h0M2344 368h0M2345 180h0M2345 182h0M2344 321h0M2347 176h0M2348 175h0M2348 319h0M2348 339h0M2348 350h0M2349 332h0M2348 352h0M2349 360h0M2350 173h0M2350 176h0M2351 313h0M2351 353h0M2351 365h0M2352 183h0M2352 305h0M2352 341h0M2352 368h0M2353 177h0M2353 304h0M2353 368h0M2353 370h0M2354 322h0M2354 372h0M2355 170h0M2355 343h0M2355 348h0M2356 176h0M2356 178h0M2356 340h0M2357 318h0M2357 332h0M2358 327h0M2358 333h0M2358 345h0M2359 339h0M2359 346h0M2359 373h0M2360 340h0M2360 341h0M2360 350h0M2360 355h0M2360 372h0M2361 179h0M2361 324h0M2361 336h0M2361 341h0M2361 350h0M2361 355h0M2361 358h0M2361 359h0M2361 175h0M2363 306h0M2362 318h0M2363 298h0M2363 334h0M2363 342h0M2363 350h0M2364 185h0M2364 299h0M2364 310h0M2364 322h0M2364 329h0M2364 331h0M2364 358h0M2364 292h0M2365 295h0M2364 300h0M2365 304h0M2366 317h0M2365 319h0M2365 322h0M2365 342h0M2365 355h0M2365 363h0M2366 187h0M2366 299h0M2366 337h0M2367 347h0M2366 374h0M2368 299h0M2367 301h0M2368 178h0M2368 339h0M2368 366h0M2368 376h0M2369 298h0M2369 301h0M2369 317h0M2369 327h0M2369 328h0M2369 355h0M2369 371h0M2369 178h0M2370 181h0M2370 302h0M2370 332h0M2370 355h0M2369 375h0M2371 182h0M2372 293h0M2371 298h0M2371 326h0M2371 327h0M2371 348h0M2371 350h0M2371 354h0M2371 368h0M2372 174h0M2372 308h0M2372 310h0M2371 351h0M2372 370h0M2373 145h0M2373 308h0M2373 330h0M2373 358h0M2374 332h0M2374 337h0M2374 355h0M2375 179h0M2374 317h0M2375 331h0M2376 341h0M2377 308h0M2377 348h0M2378 358h0M2378 161h0M2379 328h0M2379 352h0M2379 371h0M2380 165h0M2380 328h0M2380 331h0M2379 346h0M2381 352h0M2380 353h0M2381 353h0M2382 165h0M2382 170h0M2383 313h0M2382 338h0M2382 347h0M2382 360h0M2382 370h0M2383 167h0M2383 171h0M2383 314h0M2383 321h0M2383 346h0M2384 332h0M2384 365h0M2385 159h0M2385 365h0M2384 371h0M2386 324h0M2387 334h0M2386 347h0M2387 340h0M2388 161h0M2388 303h0M2387 317h0M2388 323h0M2388 352h0M2389 304h0M2390 310h0M2389 327h0M2390 330h0M2390 335h0M2391 171h0M2390 347h0M2391 351h0M2390 354h0M2392 326h0M2393 341h0M2392 358h0M2391 368h0M2393 182h0M2393 184h0M2393 307h0M2393 322h0M2393 325h0M2393 333h0M2393 335h0M2393 349h0M2393 377h0M2394 297h0M2394 301h0M2394 305h0M2394 315h0M2394 319h0M2394 327h0M2394 340h0M2394 347h0M2395 305h0M2395 309h0M2396 368h0M2396 372h0M2397 320h0M2397 330h0M2397 331h0M2397 339h0M2397 344h0M2397 354h0M2398 190h0M2398 305h0M2399 365h0M2399 308h0M2400 322h0M2398 328h0M2399 353h0M2400 308h0M2399 316h0M2400 320h0M2400 324h0M2400 326h0M2400 346h0M2400 376h0M2401 185h0M2401 305h0M2401 315h0M2401 325h0M2401 376h0M2403 317h0M2403 339h0M2403 351h0M2405 183h0M2404 186h0M2404 189h0M2404 303h0M2404 354h0M2405 151h0M2404 187h0M2405 302h0M2405 328h0M2406 374h0M2407 178h0M2406 187h0M2406 351h0M2407 182h0M2407 315h0M2408 327h0M2407 331h0M2409 181h0M2409 319h0M2408 375h0M2410 182h0M2410 187h0M2410 330h0M2411 320h0M2411 329h0M2412 324h0M2412 329h0M2412 337h0M2411 354h0M2413 325h0M2414 329h0M2414 172h0M2414 301h0M2414 312h0M2413 331h0M2414 343h0M2415 298h0M2415 313h0M2415 334h0M2415 343h0M2415 347h0M2415 356h0M2415 360h0M2416 295h0M2416 372h0M2417 293h0M2417 299h0M2417 342h0M2417 368h0M2418 313h0M2418 338h0M2418 351h0M2418 183h0M2419 328h0M2419 352h0M2420 296h0M2420 311h0M2420 325h0M2421 333h0M2422 159h0M2422 301h0M2422 323h0M2423 302h0M2423 322h0M2425 185h0M2425 317h0M2425 336h0M2426 188h0M2427 346h0M2427 182h0M2427 183h0M2428 340h0M2427 340h0M2427 360h0M2428 184h0M2429 339h0M2429 345h0M2430 324h0M2430 324h0M2430 334h0M2430 358h0M2431 320h0M2431 333h0M2432 301h0M2432 304h0M2432 309h0M2432 335h0M2432 367h0M2433 189h0M2434 296h0M2435 179h0M2435 318h0M2435 339h0M2435 356h0M2435 183h0M2437 179h0M2437 189h0M2438 298h0M2439 366h0M2440 184h0M2442 157h0M2442 297h0M2442 313h0M2442 320h0M2441 326h0M2442 352h0M2443 365h0M2443 165h0M2443 174h0M2443 310h0M2443 316h0M2443 329h0M2443 338h0M2444 340h0M2443 347h0M2443 349h0M2442 376h0M2444 173h0M2444 300h0M2444 310h0M2445 334h0M2444 368h0M2445 173h0M2445 303h0M2445 310h0M2445 318h0M2446 335h0M2445 337h0M2446 178h0M2446 321h0M2446 330h0M2447 347h0M2448 172h0M2448 310h0M2447 315h0M2447 377h0M2448 174h0M2448 289h0M2448 293h0M2447 294h0M2448 297h0M2448 299h0M2448 303h0M2448 318h0M2448 331h0M2448 340h0M2448 364h0M2448 171h0M2449 307h0M2449 320h0M2449 325h0M2449 331h0M2449 338h0M2449 341h0M2449 342h0M2449 348h0M2449 374h0M2450 302h0M2450 326h0M2449 327h0M2450 336h0M2452 176h0M2451 294h0M2451 336h0M2451 338h0M2452 337h0M2453 172h0M2453 303h0M2453 309h0M2453 327h0M2453 338h0M2453 348h0M2454 363h0M2454 288h0M2454 305h0M2454 323h0M2454 337h0M2454 344h0M2454 173h0M2455 287h0M2454 300h0M2455 302h0M2455 307h0M2455 333h0M2456 316h0M2456 329h0M2456 361h0M2457 172h0M2457 347h0M2457 352h0M2457 361h0M2458 375h0M2458 173h0M2458 295h0M2458 305h0M2458 307h0M2458 311h0M2458 316h0M2458 341h0M2458 347h0M2459 313h0M2458 323h0M2459 327h0M2458 333h0M2459 358h0M2459 372h0M2460 298h0M2460 303h0M2460 309h0M2459 337h0M2460 355h0M2461 363h0M2460 368h0M2461 295h0M2461 332h0M2461 336h0M2461 347h0M2461 351h0M2462 354h0M2461 356h0M2461 366h0M2463 169h0M2461 173h0M2462 308h0M2462 308h0M2462 342h0M2462 352h0M2463 334h0M2463 346h0M2463 348h0M2463 360h0M2464 333h0M2465 303h0M2465 305h0M2465 312h0M2465 329h0M2465 332h0M2464 343h0M2465 350h0M2465 377h0M2466 161h0M2466 299h0M2466 306h0M2466 315h0M2466 326h0M2466 335h0M2467 372h0M2467 172h0M2467 318h0M2467 330h0M2467 332h0M2467 342h0M2467 346h0M2469 326h0M2468 377h0M2469 169h0M2468 173h0M2469 310h0M2468 320h0M2469 327h0M2471 288h0M2470 298h0M2470 314h0M2470 324h0M2470 329h0M2470 350h0M2470 355h0M2471 173h0M2471 300h0M2472 307h0M2472 346h0M2473 165h0M2473 324h0M2472 362h0M2473 362h0M2474 162h0M2474 295h0M2474 304h0M2474 308h0M2475 328h0M2474 336h0M2474 337h0M2474 364h0M2474 372h0M2474 377h0M2475 293h0M2475 296h0M2476 307h0M2475 354h0M2475 372h0M2476 298h0M2476 312h0M2477 338h0M2477 155h0M2477 295h0M2477 337h0M2477 352h0M2478 153h0M2478 310h0M2479 313h0M2478 331h0M2478 342h0M2479 160h0M2479 308h0M2479 343h0M2480 296h0M2479 307h0M2481 317h0M2481 290h0M2481 300h0M2482 316h0M2481 342h0M2481 350h0M2481 156h0M2481 161h0M2482 315h0M2482 339h0M2483 299h0M2482 322h0M2483 336h0M2483 343h0M2484 305h0M2484 314h0M2484 321h0M2485 323h0M2485 312h0M2485 324h0M2485 340h0M2485 373h0M2486 317h0M2486 354h0M2487 300h0M2487 342h0M2488 298h0M2488 339h0M2489 296h0M2490 307h0M2490 327h0M2489 338h0M2488 348h0M2489 376h0M2490 160h0M2491 168h0M2490 292h0M2490 296h0M2491 309h0M2490 314h0M2491 327h0M2490 339h0M2491 161h0M2490 285h0M2491 302h0M2490 311h0M2490 322h0M2491 332h0M2493 298h0M2492 305h0M2492 315h0M2493 323h0M2493 335h0M2493 339h0M2493 344h0M2493 349h0M2493 354h0M2493 378h0M2494 158h0M2494 168h0M2494 322h0M2493 324h0M2494 333h0M2495 318h0M2495 336h0M2495 350h0M2495 353h0M2495 362h0M2495 369h0M2496 320h0M2496 341h0M2496 363h0M2497 310h0M2497 355h0M2497 312h0M2498 322h0M2498 166h0M2500 327h0M2498 331h0M2499 337h0M2500 164h0M2501 338h0M2501 374h0M2502 155h0M2502 166h0M2502 332h0M2502 342h0M2502 377h0M2503 156h0M2503 353h0M2503 368h0M2505 164h0M2504 353h0M2504 368h0M2504 362h0M2507 155h0M2506 161h0M2505 330h0M2506 361h0M2507 154h0M2508 371h0M2509 161h0M2509 313h0M2510 164h0M2510 314h0M2510 324h0M2509 337h0M2510 341h0M2510 346h0M2511 160h0M2511 350h0M2512 162h0M2512 166h0M2511 330h0M2512 350h0M2513 311h0M2513 339h0M2512 362h0M2514 357h0M2514 376h0M2515 161h0M2515 322h0M2515 323h0M2516 330h0M2515 332h0M2515 360h0M2517 159h0M2516 324h0M2515 327h0M2515 335h0M2516 338h0M2517 344h0M2516 347h0M2516 369h0M2517 328h0M2517 331h0M2517 338h0M2517 152h0M2518 152h0M2519 336h0M2518 371h0M2519 163h0M2519 321h0M2519 337h0M2520 344h0M2520 163h0M2520 173h0M2520 320h0M2520 335h0M2521 153h0M2521 175h0M2521 322h0M2521 326h0M2521 347h0M2521 350h0M2522 171h0M2522 175h0M2522 346h0M2522 358h0M2522 371h0M2523 172h0M2523 319h0M2523 321h0M2523 329h0M2523 377h0M2524 308h0M2524 311h0M2524 339h0M2524 340h0M2525 311h0M2525 314h0M2525 346h0M2526 309h0M2526 320h0M2526 338h0M2525 342h0M2526 350h0M2526 368h0M2527 318h0M2526 353h0M2527 361h0M2528 167h0M2529 175h0M2528 321h0M2528 370h0M2529 155h0M2529 169h0M2530 170h0M2529 341h0M2530 357h0M2530 318h0M2530 325h0M2530 339h0M2530 346h0M2530 356h0M2530 360h0M2531 174h0M2531 177h0M2531 320h0M2531 325h0M2532 317h0M2532 323h0M2532 327h0M2532 338h0M2533 175h0M2533 352h0M2533 365h0M2534 173h0M2534 331h0M2535 376h0M2535 174h0M2535 326h0M2535 344h0M2536 318h0M2536 322h0M2536 343h0M2537 178h0M2538 333h0M2537 338h0M2537 370h0M2538 179h0M2538 315h0M2537 319h0M2538 335h0M2539 177h0M2540 331h0M2540 330h0M2540 344h0M2541 171h0M2542 309h0M2541 319h0M2541 348h0M2541 356h0M2543 312h0M2542 315h0M2542 378h0M2543 320h0M2543 330h0M2542 341h0M2543 353h0M2545 165h0M2544 176h0M2544 310h0M2545 320h0M2544 323h0M2544 349h0M2544 368h0M2545 169h0M2545 330h0M2546 155h0M2546 325h0M2546 334h0M2545 336h0M2546 338h0M2546 378h0M2547 322h0M2547 328h0M2547 355h0M2547 363h0M2547 369h0M2548 175h0M2547 357h0M2549 169h0M2549 176h0M2548 326h0M2551 330h0M2551 178h0M2552 178h0M2552 324h0M2550 349h0M2552 176h0M2551 369h0M2553 169h0M2553 180h0M2554 313h0M2553 332h0M2554 340h0M2553 350h0M2554 166h0M2556 341h0M2556 160h0M2556 305h0M2556 326h0M2556 350h0M2557 316h0M2557 334h0M2557 339h0M2557 351h0M2558 155h0M2558 158h0M2558 314h0M2558 321h0M2558 325h0M2558 335h0M2558 351h0M2559 162h0M2559 326h0M2560 355h0M2560 332h0M2560 335h0M2560 349h0M2561 158h0M2561 159h0M2562 334h0M2564 155h0M2563 165h0M2563 367h0M2564 313h0M2564 329h0M2565 164h0M2565 334h0M2566 361h0M2565 374h0M2566 164h0M2566 304h0M2567 306h0M2566 307h0M2566 319h0M2566 323h0M2566 338h0M2566 377h0M2567 163h0M2566 167h0M2567 301h0M2566 305h0M2567 326h0M2568 162h0M2567 163h0M2568 311h0M2568 328h0M2569 311h0M2569 316h0M2571 329h0M2570 335h0M2571 298h0M2572 157h0M2572 316h0M2572 348h0M2573 315h0M2573 350h0M2575 149h0M2574 352h0M2575 305h0M2576 311h0M2577 296h0M2578 300h0M2577 303h0M2577 310h0M2577 320h0M2577 345h0M2577 365h0M2577 372h0M2579 163h0M2577 170h0M2578 171h0M2578 298h0M2578 301h0M2578 327h0M2578 336h0M2578 372h0M2579 320h0M2579 322h0M2579 329h0M2579 356h0M2579 377h0M2580 299h0M2580 309h0M2580 315h0M2580 323h0M2580 325h0M2581 330h0M2580 340h0M2581 173h0M2581 313h0M2581 324h0M2581 325h0M2582 297h0M2582 321h0M2583 323h0M2581 349h0M2582 351h0M2582 369h0M2583 174h0M2583 315h0M2583 336h0M2584 338h0M2583 341h0M2583 353h0M2584 172h0M2583 308h0M2584 308h0M2584 312h0M2584 317h0M2585 340h0M2585 367h0M2585 304h0M2585 309h0M2585 326h0M2585 327h0M2585 344h0M2586 298h0M2586 305h0M2587 330h0M2586 341h0M2586 366h0M2587 180h0M2587 183h0M2587 333h0M2587 340h0M2587 349h0M2587 361h0M2588 369h0M2587 373h0M2589 317h0M2588 346h0M2588 352h0M2590 185h0M2589 299h0M2588 318h0M2590 356h0M2590 159h0M2590 180h0M2590 282h0M2590 284h0M2590 298h0M2590 307h0M2590 309h0M2590 315h0M2590 325h0M2592 290h0M2591 332h0M2591 341h0M2592 293h0M2592 307h0M2592 310h0M2591 321h0M2593 359h0M2592 360h0M2592 370h0M2594 294h0M2593 301h0M2593 321h0M2593 350h0M2594 181h0M2594 295h0M2594 306h0M2594 333h0M2594 338h0M2594 343h0M2594 346h0M2594 359h0M2594 303h0M2595 305h0M2595 307h0M2595 331h0M2595 332h0M2595 341h0M2595 351h0M2595 352h0M2595 364h0M2596 319h0M2596 322h0M2596 327h0M2596 337h0M2596 343h0M2596 345h0M2596 346h0M2597 181h0M2597 185h0M2597 297h0M2597 299h0M2597 302h0M2597 324h0M2597 327h0M2597 333h0M2597 341h0M2597 373h0M2598 297h0M2598 309h0M2598 312h0M2598 314h0M2599 316h0M2599 320h0M2598 322h0M2598 327h0M2598 333h0M2599 320h0M2599 343h0M2599 351h0M2600 292h0M2601 295h0M2600 311h0M2600 317h0M2600 318h0M2600 330h0M2600 336h0M2600 344h0M2600 372h0M2601 267h0M2601 270h0M2601 292h0M2601 304h0M2602 177h0M2602 276h0M2602 295h0M2602 303h0M2603 189h0M2603 255h0M2603 271h0M2603 273h0M2603 285h0M2603 306h0M2604 326h0M2603 329h0M2603 338h0M2604 257h0M2604 264h0M2604 339h0M2605 170h0M2604 252h0M2605 252h0M2606 272h0M2605 288h0M2605 311h0M2627 185h0M2625 186h0M2626 195h0M2627 316h0M2626 344h0M2627 187h0M2627 193h0M2627 219h0M2629 229h0M2628 295h0M2628 311h0M2630 228h0M2630 234h0M2631 252h0M2629 344h0M2648 171h0M2648 174h0M2652 349h0M2652 261h0M2653 166h0M2653 260h0M2653 269h0M2653 277h0M2654 282h0M2655 174h0M2655 279h0M2656 167h0M2658 164h0M2658 171h0M2658 286h0M2658 295h0M2658 303h0M2659 175h0M2660 170h0M2661 282h0M2662 172h0M2662 272h0M2662 289h0M2663 325h0M2664 171h0M2664 260h0M2666 170h0M2667 168h0M2667 367h0M2668 301h0M2668 326h0M2668 329h0M2668 359h0M2670 176h0M2670 281h0M2670 339h0M2671 279h0M2671 297h0M2671 324h0M2672 300h0M2672 342h0M2673 303h0M2674 300h0M2674 303h0M2674 337h0M2675 316h0M2675 332h0M2676 302h0M2675 308h0M2676 336h0M2678 173h0M2679 270h0M2682 172h0M2683 259h0M2682 283h0M2685 334h0M2687 294h0M2687 298h0M2687 330h0M2688 337h0M2689 288h0M2689 337h0M2689 345h0M2690 169h0M2689 252h0M2690 269h0M2690 279h0M2690 290h0M2690 298h0M2691 258h0M2691 304h0M2691 320h0M2692 263h0M2692 272h0M2692 292h0M2692 308h0M2693 265h0M2693 273h0M2695 268h0M2694 285h0M2694 344h0M2694 173h0M2696 267h0M2696 271h0M2695 272h0M2695 280h0M2697 260h0M2697 283h0M2698 169h0M2698 255h0M2699 276h0M2699 335h0M2699 171h0M2699 268h0M2699 291h0M2699 293h0M2699 295h0M2700 167h0M2700 311h0M2700 372h0M2701 284h0M2701 291h0M2702 292h0M2701 324h0M2701 349h0M2702 173h0M2702 276h0M2702 282h0M2702 297h0M2702 355h0M2703 267h0M2703 295h0M2704 173h0M2705 174h0M2705 355h0M2706 166h0M2706 254h0M2706 321h0M2707 163h0M2707 172h0M2707 292h0M2707 329h0M2708 338h0M2707 375h0M2708 161h0M2709 264h0M2711 280h0M2711 301h0M2711 361h0M2712 272h0M2712 285h0M2712 300h0M2712 303h0M2712 366h0M2713 303h0M2713 347h0M2714 264h0M2713 267h0M2715 275h0M2715 171h0M2715 297h0M2715 305h0M2716 278h0M2717 313h0M2717 249h0M2716 251h0M2717 256h0M2717 265h0M2717 360h0M2719 259h0M2720 245h0M2720 251h0M2720 270h0M2720 292h0M2720 302h0M2723 259h0M2724 257h0M2723 308h0M2727 313h0M2728 177h0M2731 176h0M2731 280h0M2732 235h0M2733 172h0M2733 194h0M2733 215h0M2737 248h0M2744 250h0M2745 228h0M2747 272h0M2748 354h0M2750 211h0M2754 233h0M2754 329h0M2757 237h0M2758 258h0M2759 196h0M2761 228h0M2765 191h0M2766 221h0M2767 228h0M2770 172h0M2770 267h0M2770 269h0M2771 275h0M2770 340h0M2771 173h0M2770 266h0M2771 353h0M2772 171h0M2772 257h0M2772 278h0M2772 281h0M2772 288h0M2772 351h0M2773 285h0M2773 310h0M2773 317h0M2774 166h0M2774 168h0M2774 245h0M2774 253h0M2774 276h0M2773 279h0M2775 361h0M2775 178h0M2775 244h0M2775 292h0M2776 334h0M2777 171h0M2776 256h0M2776 270h0M2776 301h0M2777 177h0M2777 269h0M2777 274h0M2777 284h0M2777 285h0M2777 298h0M2777 344h0M2778 252h0M2779 163h0M2779 265h0M2779 289h0M2779 298h0M2780 265h0M2780 285h0M2780 319h0M2781 175h0M2781 253h0M2781 257h0M2781 307h0M2782 157h0M2783 165h0M2783 273h0M2783 278h0M2783 333h0M2785 160h0M2784 279h0M2784 355h0M2785 171h0M2785 258h0M2785 311h0M2785 318h0M2786 263h0M2786 303h0M2787 315h0M2785 321h0M2787 164h0M2787 290h0M2787 295h0M2787 359h0M2788 283h0M2789 290h0M2789 270h0M2789 284h0M2790 254h0M2790 267h0M2789 296h0M2790 299h0M2790 329h0M2791 256h0M2791 299h0M2791 320h0M2792 262h0M2792 301h0M2792 308h0M2792 311h0M2793 259h0M2793 272h0M2793 274h0M2792 306h0M2793 347h0M2794 262h0M2794 287h0M2795 316h0M2794 321h0M2795 170h0M2796 166h0M2797 169h0M2796 242h0M2796 264h0M2796 271h0M2796 277h0M2796 289h0M2795 316h0M2797 255h0M2797 259h0M2797 262h0M2797 268h0M2797 274h0M2797 288h0M2797 304h0M2797 316h0M2797 320h0M2799 290h0M2799 162h0M2799 259h0M2798 287h0M2798 314h0M2800 256h0M2800 264h0M2801 174h0M2801 250h0M2801 257h0M2801 265h0M2801 279h0M2801 283h0M2801 170h0M2802 256h0M2801 293h0M2802 319h0M2802 321h0M2802 344h0M2803 317h0M2804 268h0M2804 268h0M2806 170h0M2806 319h0M2808 167h0M2808 254h0M2808 306h0M2808 170h0M2810 250h0M2809 263h0M2809 312h0M2810 273h0M2810 338h0M2811 265h0M2811 292h0M2811 174h0M2812 273h0M2811 282h0M2812 301h0M2813 268h0M2813 275h0M2813 279h0M2813 337h0M2814 295h0M2814 332h0M2815 170h0M2815 280h0M2815 334h0M2816 163h0M2816 282h0M2816 331h0M2817 308h0M2817 317h0M2818 274h0M2819 294h0M2818 360h0M2820 174h0M2820 315h0M2822 167h0M2822 287h0M2821 304h0M2823 302h0M2823 316h0M2825 276h0M2827 169h0M2828 311h0M2829 260h0M2829 261h0M2829 311h0M2830 171h0M2832 263h0M2833 176h0M2833 274h0M2833 328h0M2834 169h0M2834 278h0M2834 332h0M2836 175h0M2837 260h0M2836 263h0M2837 267h0M2837 270h0M2837 318h0M2837 334h0M2838 345h0M2837 347h0M2839 173h0M2838 260h0M2838 262h0M2838 270h0M2838 302h0M2838 323h0M2839 314h0M2839 323h0M2839 343h0M2839 351h0M2840 289h0M2840 320h0M2840 332h0M2840 167h0M2841 277h0M2841 286h0M2842 294h0M2841 330h0M2841 370h0M2843 298h0M2842 332h0M2845 186h0M2846 253h0M2846 262h0M2846 276h0M2846 290h0M2847 292h0M2846 292h0M2846 322h0M2846 336h0M2847 258h0M2848 277h0M2849 299h0M2849 303h0M2848 265h0M2849 278h0M2850 280h0M2850 307h0M2850 262h0M2850 299h0M2852 262h0M2853 282h0M2854 315h0M2855 264h0M2855 267h0M2856 257h0M2857 303h0M2857 176h0M2857 252h0M2856 259h0M2857 269h0M2857 337h0M2858 173h0M2859 352h0M2859 251h0M2859 254h0M2859 309h0M2860 258h0M2860 283h0M2861 331h0M2861 272h0M2861 321h0M2861 333h0M2861 334h0M2862 258h0M2863 277h0M2863 290h0M2864 261h0M2864 264h0M2864 276h0M2863 345h0M2864 368h0M2864 189h0M2865 276h0M2865 289h0M2865 299h0M2865 328h0M2866 157h0M2866 265h0M2867 276h0M2868 180h0M2869 184h0M2868 316h0M2869 273h0M2868 280h0M2869 305h0M2869 307h0M2868 331h0M2870 266h0M2870 287h0M2870 313h0M2870 317h0M2870 345h0M2871 181h0M2872 270h0M2871 322h0M2871 271h0M2872 274h0M2873 182h0M2874 186h0M2874 251h0M2874 301h0M2875 184h0M2875 186h0M2875 248h0M2875 361h0M2875 183h0M2877 180h0M2877 251h0M2877 339h0M2877 374h0M2878 306h0M2879 252h0M2880 256h0M2880 258h0M2880 266h0M2879 300h0M2880 185h0M2881 188h0M2881 253h0M2881 266h0M2881 269h0M2881 273h0M2881 301h0M2882 285h0M2882 345h0M2883 187h0M2883 261h0M2883 349h0M2883 351h0M2883 189h0M2883 260h0M2884 275h0M2883 311h0M2883 343h0M2885 184h0M2885 278h0M2887 187h0M2888 188h0M2888 278h0M2890 187h0M2890 272h0M2892 252h0M2891 256h0M2891 333h0M2892 186h0M2892 190h0M2891 302h0M2892 183h0M2893 264h0M2894 171h0M2895 250h0M2894 286h0M2894 301h0M2894 334h0M2895 172h0M2895 258h0M2895 291h0M2895 168h0M2896 259h0M2897 249h0M2898 249h0M2899 244h0M2900 273h0M2900 162h0M2900 348h0M2902 247h0M2902 277h0M2902 282h0M2903 279h0M2904 308h0M2903 316h0M2902 326h0M2903 361h0M2904 259h0M2904 260h0M2904 330h0M2905 259h0M2904 265h0M2905 273h0M2904 300h0M2906 329h0M2906 339h0M2907 174h0M2907 304h0M2907 328h0M2908 270h0M2909 284h0M2909 353h0M2911 174h0M2912 172h0M2913 173h0M2913 365h0M2914 171h0M2914 321h0M2916 172h0M2917 173h0M2917 296h0M2918 166h0M2919 167h0M2918 272h0M2918 311h0M2919 270h0M2919 291h0M2919 295h0M2920 303h0M2920 346h0M2921 260h0M2921 268h0M2922 277h0M2921 303h0M2922 271h0M2922 286h0M2922 296h0M2922 313h0M2923 270h0M2922 272h0M2922 289h0M2924 305h0M2923 325h0M2924 178h0M2924 288h0M2925 299h0M2926 289h0M2926 291h0M2926 344h0M2927 180h0M2927 288h0M2928 282h0M2929 180h0M2929 275h0M2929 315h0M2930 188h0M2930 194h0M2932 266h0M2933 274h0M2933 187h0M2932 192h0M2934 330h0M2935 194h0M2935 312h0M2936 295h0M2937 267h0M2937 272h0M2938 183h0M2938 195h0M2938 283h0M2937 347h0M2940 279h0M2940 292h0M2940 341h0M2940 353h0M2941 177h0M2941 265h0M2941 281h0M2942 288h0M2941 327h0M2942 172h0M2942 262h0M2942 265h0M2943 274h0M2943 281h0M2945 265h0M2944 304h0M2944 313h0M2945 174h0M2945 177h0M2944 272h0M2946 294h0M2947 269h0M2947 275h0M2947 268h0M2948 284h0M2948 331h0M2949 171h0M2949 274h0M2951 170h0M2951 351h0M2952 174h0M2952 340h0M2953 278h0M2954 170h0M2954 244h0M2954 311h0M2955 246h0M2955 261h0M2957 252h0M2957 327h0M2958 176h0M2957 248h0M2958 249h0M2959 265h0M2958 267h0M2958 275h0M2958 281h0M2958 316h0M2958 320h0M2958 348h0M2958 363h0M2959 173h0M2959 264h0M2959 269h0M2959 272h0M2959 304h0M2960 246h0M2960 249h0M2960 264h0M2960 273h0M2960 293h0M2960 314h0M2960 370h0M2961 252h0M2961 256h0M2961 261h0M2961 271h0M2961 274h0M2961 288h0M2961 308h0M2962 264h0M2961 267h0M2961 281h0M2963 176h0M2963 178h0M2963 252h0M2963 268h0M2963 312h0M2963 351h0M2964 252h0M2964 308h0M2964 312h0M2964 349h0M2964 358h0M2965 263h0M2965 284h0M2967 175h0M2966 277h0M2966 337h0M2966 349h0M2967 175h0M2968 161h0M2968 176h0M2968 250h0M2969 172h0M2969 175h0M2969 255h0M2969 289h0M2970 174h0M2971 294h0M2971 308h0M2972 175h0M2973 265h0M2973 269h0M2974 270h0M2975 252h0M2975 277h0M2976 176h0M2975 243h0M2976 309h0M2976 311h0M2977 175h0M2976 280h0M2977 290h0M2977 297h0M2978 246h0M2978 251h0M2978 281h0M2978 287h0M2977 315h0M2979 175h0M2978 253h0M2979 266h0M2980 172h0M2980 259h0M2980 368h0M2981 175h0M2981 177h0M2981 179h0M2980 249h0M2981 257h0M2981 292h0M2981 317h0M2982 175h0M2981 252h0M2982 253h0M2981 258h0M2982 280h0M2982 354h0M2983 250h0M2983 258h0M2984 278h0M2984 312h0M2983 332h0M2983 345h0M2984 174h0M2984 177h0M2985 281h0M2984 352h0M2985 171h0M2985 250h0M2985 254h0M2985 260h0M2985 265h0M2986 267h0M2985 277h0M2986 310h0M2985 324h0M2986 177h0M2986 251h0M2985 271h0M2986 278h0M2986 288h0M2986 298h0M2986 301h0M2986 302h0M2986 333h0M2987 252h0M2987 263h0M2988 281h0M2987 354h0M2988 246h0M2988 247h0M2989 251h0M2987 258h0M2990 177h0M2989 255h0M2989 271h0M2988 285h0M2989 293h0M2989 298h0M2989 324h0M2989 328h0M2990 322h0M2991 253h0M2991 263h0M2991 303h0M2991 305h0M2991 320h0M2991 255h0M2992 273h0M2992 288h0M2992 316h0M2993 259h0M2993 280h0M2994 171h0M2994 245h0M2993 258h0M2994 280h0M2995 240h0M2995 242h0M2994 242h0M2995 247h0M2995 249h0M2995 253h0M2995 258h0M2995 266h0M2995 314h0M2995 320h0M2996 172h0M2996 275h0M2996 280h0M2996 290h0M2996 308h0M2997 262h0M2997 294h0M2997 311h0M2997 331h0M2997 336h0M2997 337h0M2998 168h0M2998 262h0M2998 333h0M2999 375h0M3000 170h0M3000 247h0M3000 268h0M3000 272h0M3000 294h0M3000 364h0M3001 174h0M3001 241h0M3001 245h0M3001 249h0M3002 253h0M3001 267h0M3001 277h0M3001 282h0M3001 297h0M3001 304h0M3002 163h0M3002 170h0M3002 259h0M3002 271h0M3002 274h0M3002 275h0M3003 277h0M3002 297h0M3002 326h0M3002 372h0M3003 169h0M3003 276h0M3005 258h0M3007 255h0M3006 258h0M3006 278h0M3005 341h0M3007 260h0M3008 275h0M3008 277h0M3008 310h0M3008 328h0M3009 179h0M3009 273h0M3009 278h0M3009 375h0M3010 180h0M3010 261h0M3010 265h0M3010 255h0M3011 279h0M3012 155h0M3013 182h0M3012 239h0M3012 246h0M3012 260h0M3012 289h0M3012 299h0M3012 306h0M3013 175h0M3014 272h0M3012 282h0M3013 290h0M3012 344h0M3014 178h0M3015 179h0M3017 178h0M3016 181h0M3016 242h0M3017 264h0M3018 177h0M3018 180h0M3019 311h0M3021 175h0M3021 181h0M3022 257h0M3021 361h0M3024 249h0M3024 252h0M3025 170h0M3025 180h0M3026 258h0M3026 262h0M3025 300h0M3026 364h0M3027 175h0M3026 280h0M3028 272h0M3028 292h0M3028 306h0M3028 310h0M3028 314h0M3028 178h0M3029 180h0M3029 261h0M3029 272h0M3029 289h0M3028 291h0M3030 155h0M3030 243h0M3030 246h0M3030 264h0M3030 271h0M3030 278h0M3030 290h0M3031 176h0M3031 251h0M3031 264h0M3031 272h0M3031 287h0M3031 289h0M3032 254h0M3032 261h0M3032 298h0M3032 300h0M3032 309h0M3032 312h0M3032 325h0M3032 368h0M3033 270h0M3033 272h0M3033 285h0M3034 147h0M3033 176h0M3034 254h0M3034 267h0M3034 271h0M3035 275h0M3034 286h0M3035 260h0M3034 315h0M3036 248h0M3036 262h0M3036 269h0M3037 291h0M3036 294h0M3036 303h0M3036 311h0M3037 253h0M3037 256h0M3037 262h0M3037 302h0M3038 242h0M3038 252h0M3038 259h0M3038 323h0M3039 174h0M3039 273h0M3040 318h0M3039 333h0M3039 367h0M3040 328h0M3041 253h0M3041 322h0M3041 174h0M3042 245h0M3042 168h0M3045 335h0M3045 257h0M3045 305h0M3046 172h0M3046 307h0M3046 250h0M3047 264h0M3049 245h0M3049 265h0M3048 298h0M3049 322h0M3050 181h0M3050 240h0M3050 242h0M3050 248h0M3050 265h0M3051 274h0M3050 343h0M3051 176h0M3050 250h0M3052 255h0M3052 294h0M3055 160h0M3055 259h0M3056 293h0M3058 337h0M3058 256h0M3059 168h0M3059 175h0M3060 352h0M3064 287h0M3064 300h0M3064 314h0M3065 256h0M3064 324h0M3066 264h0M3066 271h0M3065 295h0M3066 330h0M3066 338h0M3067 243h0M3067 277h0M3067 280h0M3067 241h0M3068 248h0M3067 251h0M3068 271h0M3068 307h0M3068 342h0M3068 349h0M3069 251h0M3069 262h0M3069 270h0M3068 275h0M3069 307h0M3070 269h0M3070 297h0M3070 317h0M3071 320h0M3070 326h0M3070 358h0M3070 278h0M3071 283h0M3072 340h0M3072 254h0M3072 267h0M3072 283h0M3072 310h0M3072 348h0M3074 178h0M3073 274h0M3073 297h0M3073 302h0M3074 311h0M3072 328h0M3073 177h0M3074 182h0M3074 248h0M3074 252h0M3074 263h0M3074 272h0M3074 285h0M3074 287h0M3073 299h0M3074 315h0M3075 252h0M3076 253h0M3077 309h0M3076 320h0M3077 182h0M3080 291h0M3081 296h0M3080 178h0M3081 266h0M3082 178h0M3082 269h0M3082 286h0M3082 327h0M3083 267h0M3084 179h0M3084 277h0M3084 297h0M3085 174h0M3085 261h0M3084 270h0M3085 279h0M3086 178h0M3086 287h0M3086 289h0M3087 316h0M3085 321h0M3088 176h0M3087 261h0M3086 285h0M3087 298h0M3087 336h0M3087 309h0M3088 336h0M3089 278h0M3089 300h0M3089 366h0M3090 179h0M3090 301h0M3091 276h0M3091 292h0M3091 302h0M3093 281h0M3092 295h0M3092 330h0M3093 258h0M3093 281h0M3093 308h0M3092 337h0M3094 177h0M3094 298h0M3094 269h0M3095 270h0M3095 277h0M3095 319h0M3096 180h0M3096 266h0M3096 292h0M3096 324h0M3096 339h0M3096 341h0M3098 176h0M3097 268h0M3098 279h0M3098 303h0M3099 185h0M3099 277h0M3099 288h0M3099 325h0M3100 261h0M3100 270h0M3100 275h0M3100 283h0M3100 291h0M3103 186h0M3102 253h0M3102 260h0M3102 269h0M3102 280h0M3103 257h0M3103 258h0M3104 177h0M3104 294h0M3104 295h0M3104 328h0M3105 262h0M3105 269h0M3106 185h0M3106 275h0M3106 299h0M3107 183h0M3107 322h0M3108 255h0M3108 284h0M3109 327h0M3108 335h0M3109 356h0M3109 290h0M3111 180h0M3111 271h0M3111 300h0M3112 173h0M3111 293h0M3112 299h0M3112 329h0M3112 335h0M3113 335h0M3114 257h0M3114 285h0M3114 361h0M3115 262h0M3117 262h0M3116 282h0M3116 290h0M3116 318h0M3117 174h0M3117 318h0M3117 361h0M3118 246h0M3118 256h0M3118 256h0M3118 266h0M3118 269h0M3118 297h0M3119 310h0M3119 320h0M3118 340h0M3119 288h0M3119 290h0M3119 306h0M3119 315h0M3118 317h0M3120 266h0M3120 295h0M3120 314h0M3121 266h0M3121 267h0M3120 281h0M3122 250h0M3122 272h0M3123 277h0M3122 285h0M3123 338h0M3121 348h0M3123 262h0M3123 277h0M3124 304h0M3123 167h0M3125 177h0M3124 304h0M3124 372h0M3125 282h0M3126 276h0M3126 304h0M3126 306h0M3127 175h0M3127 250h0M3128 263h0M3127 282h0M3126 283h0M3127 315h0M3127 266h0M3128 271h0M3128 277h0M3128 302h0M3127 313h0M3129 277h0M3129 291h0M3129 312h0M3130 273h0M3130 281h0M3130 285h0M3130 330h0M3131 280h0M3131 299h0M3132 273h0M3132 287h0M3132 308h0M3132 310h0M3132 321h0M3132 323h0M3132 328h0M3133 275h0M3133 323h0M3132 327h0M3133 346h0M3134 167h0M3134 169h0M3134 255h0M3135 279h0M3134 286h0M3134 296h0M3135 177h0M3136 274h0M3135 323h0M3136 331h0M3137 167h0M3137 177h0M3137 276h0M3137 304h0M3138 274h0M3139 280h0M3139 315h0M3139 365h0M3140 251h0M3140 272h0M3141 332h0M3140 349h0M3141 179h0M3141 255h0M3141 265h0M3143 291h0M3142 298h0M3142 321h0M3143 268h0M3143 331h0M3144 271h0M3144 320h0M3144 326h0M3145 167h0M3145 264h0M3145 355h0M3146 177h0M3146 261h0M3146 289h0M3146 311h0M3146 337h0M3147 287h0M3147 299h0M3147 365h0M3148 175h0M3148 292h0M3148 294h0M3149 176h0M3150 273h0M3149 281h0M3149 298h0M3149 321h0M3149 347h0M3150 287h0M3151 322h0M3150 331h0M3150 361h0M3151 174h0M3151 176h0M3151 282h0M3151 297h0M3150 314h0M3151 166h0M3152 281h0M3152 287h0M3152 338h0M3153 173h0M3153 265h0M3154 170h0M3154 278h0M3154 313h0M3154 350h0M3155 172h0M3154 284h0M3155 172h0M3157 286h0M3158 340h0M3158 362h0M3159 299h0M3160 172h0M3160 332h0M3163 356h0M3165 266h0M3167 169h0M3167 257h0M3167 279h0M3167 327h0M3168 176h0M3168 277h0M3168 361h0M3170 271h0M3169 287h0M3168 304h0M3170 267h0M3171 325h0M3170 349h0M3171 173h0M3171 268h0M3171 280h0M3171 284h0M3171 349h0M3171 356h0M3172 175h0M3173 176h0M3172 298h0M3172 337h0M3172 348h0M3173 265h0M3173 310h0M3173 369h0M3175 288h0M3174 305h0M3175 278h0M3175 279h0M3175 310h0M3176 369h0M3176 254h0M3176 277h0M3176 349h0M3177 266h0M3177 299h0M3177 323h0M3178 251h0M3178 255h0M3178 265h0M3179 289h0M3179 312h0M3179 176h0M3180 257h0M3179 263h0M3178 293h0M3179 320h0M3179 324h0M3179 341h0M3180 243h0M3180 265h0M3180 272h0M3180 327h0M3181 260h0M3181 272h0M3180 330h0M3182 175h0M3182 243h0M3182 250h0M3182 279h0M3181 286h0M3181 295h0M3183 315h0M3184 244h0M3183 288h0M3183 305h0M3182 329h0M3184 169h0M3183 173h0M3184 175h0M3184 340h0M3184 349h0M3185 169h0M3185 171h0M3185 176h0M3185 180h0M3185 264h0M3184 275h0M3185 356h0M3188 178h0M3189 174h0M3190 169h0M3191 173h0M3191 273h0M3192 310h0M3195 162h0M3195 288h0M3196 255h0M3195 256h0M3196 260h0M3196 260h0M3196 327h0M3197 272h0M3197 308h0M3197 346h0M3198 170h0M3198 285h0M3198 293h0M3199 261h0M3199 271h0M3200 302h0M3198 325h0M3200 257h0M3200 262h0M3200 281h0M3200 350h0M3200 371h0M3201 281h0M3201 288h0M3201 311h0M3201 313h0M3201 321h0M3202 279h0M3202 288h0M3202 299h0M3202 361h0M3203 170h0M3203 282h0M3204 274h0M3204 277h0M3204 293h0M3205 299h0M3204 309h0M3205 259h0M3204 275h0M3205 285h0M3205 307h0M3206 264h0M3206 307h0M3206 350h0M3207 172h0M3207 175h0M3207 288h0M3207 321h0M3207 324h0M3208 171h0M3208 279h0M3209 281h0M3209 165h0M3209 173h0M3209 284h0M3209 294h0M3209 330h0M3210 163h0M3210 273h0M3210 322h0M3211 246h0M3211 255h0M3211 259h0M3211 287h0M3211 337h0M3211 340h0M3212 252h0M3213 258h0M3212 277h0M3212 287h0M3212 304h0M3212 312h0M3213 255h0M3213 266h0M3213 286h0M3213 291h0M3213 318h0M3213 354h0M3214 172h0M3214 173h0M3214 244h0M3214 248h0M3214 253h0M3214 258h0M3214 272h0M3214 275h0M3214 286h0M3214 312h0M3215 246h0M3215 254h0M3215 270h0M3216 260h0M3216 314h0M3217 173h0M3217 175h0M3217 262h0M3217 299h0M3218 177h0M3219 169h0M3219 274h0M3220 300h0M3220 309h0M3221 168h0M3221 340h0M3221 363h0M3222 171h0M3222 329h0M3222 337h0M3224 165h0M3225 176h0M3226 173h0M3226 268h0M3227 286h0M3228 163h0M3229 296h0M3228 320h0M3228 165h0M3229 288h0M3229 364h0M3229 372h0M3230 337h0M3231 172h0M3232 256h0M3234 257h0M3232 263h0M3233 272h0M3233 274h0M3233 299h0M3233 313h0M3233 177h0M3234 260h0M3234 271h0M3233 280h0M3234 305h0M3235 171h0M3235 260h0M3235 273h0M3235 274h0M3235 285h0M3235 289h0M3235 298h0M3236 304h0M3236 172h0M3236 252h0M3237 285h0M3236 293h0M3237 176h0M3237 262h0M3237 271h0M3236 279h0M3237 283h0M3238 288h0M3238 242h0M3238 262h0M3238 271h0M3238 320h0M3239 277h0M3239 279h0M3239 304h0M3240 170h0M3240 176h0M3239 176h0M3240 247h0M3240 274h0M3239 281h0M3240 296h0M3240 314h0M3241 172h0M3241 253h0M3241 271h0M3241 328h0M3242 353h0M3241 179h0M3243 264h0M3243 259h0M3243 267h0M3243 282h0M3242 333h0M3244 252h0M3244 260h0M3244 266h0M3244 284h0M3244 367h0M3245 178h0M3245 240h0M3245 255h0M3245 266h0M3245 292h0M3244 296h0M3245 269h0M3246 271h0M3246 284h0M3246 287h0M3247 255h0M3247 273h0M3247 286h0M3248 288h0M3247 292h0M3249 180h0M3247 241h0M3249 288h0M3248 291h0M3247 326h0M3248 370h0M3249 239h0M3249 244h0M3249 256h0M3250 281h0M3249 286h0M3249 310h0M3249 325h0M3249 349h0M3249 356h0M3250 173h0M3250 253h0M3251 267h0M3252 282h0M3251 303h0M3252 174h0M3252 176h0M3252 270h0M3252 370h0M3253 170h0M3255 175h0M3255 242h0M3255 246h0M3256 175h0M3256 259h0M3256 324h0M3257 172h0M3257 174h0M3258 315h0M3258 289h0M3258 316h0M3259 258h0M3262 249h0M3262 256h0M3263 178h0M3263 253h0M3263 296h0M3264 273h0M3264 287h0M3263 306h0M3265 169h0M3265 265h0M3265 281h0M3265 318h0M3266 286h0M3267 249h0M3267 259h0M3267 262h0M3267 271h0M3267 329h0M3267 170h0M3268 292h0M3269 271h0M3269 301h0M3269 352h0M3270 294h0M3271 260h0M3271 325h0M3271 346h0M3272 177h0M3272 180h0M3272 258h0M3272 268h0M3272 270h0M3272 280h0M3272 281h0M3272 356h0M3273 175h0M3273 177h0M3273 260h0M3273 265h0M3272 285h0M3274 322h0M3274 259h0M3275 277h0M3274 287h0M3274 294h0M3273 327h0M3274 378h0M3276 267h0M3275 276h0M3275 306h0M3275 320h0M3275 332h0M3276 261h0M3276 312h0M3276 324h0M3276 336h0M3276 355h0M3277 176h0M3280 249h0M3281 173h0M3280 181h0M3281 261h0M3283 174h0M3283 270h0M3282 282h0M3283 357h0M3283 358h0M3284 247h0M3284 257h0M3283 266h0M3284 315h0M3284 327h0M3285 172h0M3285 247h0M3285 284h0M3285 288h0M3285 294h0M3285 297h0M3286 329h0M3286 245h0M3286 247h0M3287 251h0M3286 259h0M3286 309h0M3287 317h0M3286 320h0M3286 323h0M3287 241h0M3286 243h0M3287 315h0M3287 338h0M3288 172h0M3288 177h0M3288 244h0M3288 269h0M3288 278h0M3289 167h0M3289 178h0M3289 261h0M3288 275h0M3289 312h0M3291 174h0M3290 174h0M3290 262h0M3290 282h0M3291 145h0M3290 166h0M3291 250h0M3291 275h0M3291 281h0M3291 298h0M3291 368h0M3292 175h0M3293 246h0M3293 253h0M3292 262h0M3292 288h0M3293 252h0M3293 305h0M3294 180h0M3294 259h0M3294 261h0M3294 273h0M3294 287h0M3294 296h0M3294 305h0M3294 344h0M3294 345h0M3295 176h0M3295 249h0M3295 311h0M3295 355h0M3296 257h0M3296 280h0M3297 178h0M3298 255h0M3297 281h0M3297 292h0M3298 306h0M3297 323h0M3297 344h0M3298 254h0M3298 273h0M3298 277h0M3298 289h0M3297 297h0M3298 315h0M3298 332h0M3298 367h0M3299 174h0M3299 264h0M3299 372h0M3301 255h0M3300 259h0M3301 253h0M3301 262h0M3301 263h0M3301 276h0M3301 283h0M3301 311h0M3303 178h0M3302 241h0M3303 246h0M3302 353h0M3302 356h0M3304 240h0M3303 249h0M3303 252h0M3303 282h0M3302 287h0M3303 294h0M3303 312h0M3303 331h0M3304 177h0M3304 271h0M3304 295h0M3305 325h0M3305 167h0M3305 263h0M3305 280h0M3305 289h0M3305 299h0M3305 305h0M3306 176h0M3306 302h0M3306 307h0M3307 316h0M3307 347h0M3308 170h0M3308 271h0M3308 273h0M3308 320h0M3309 173h0M3309 325h0M3309 329h0M3309 335h0M3309 364h0M3310 174h0M3312 301h0M3313 169h0M3312 268h0M3313 313h0M3314 307h0M3316 256h0M3317 258h0M3316 328h0M3316 373h0M3317 190h0M3317 249h0M3317 371h0M3317 244h0M3318 256h0M3318 304h0M3318 318h0M3319 177h0M3319 290h0M3320 255h0M3320 260h0M3320 277h0M3321 250h0M3321 255h0M3321 266h0M3323 189h0M3322 274h0M3323 287h0M3324 330h0M3325 180h0M3325 328h0M3326 185h0M3326 265h0M3325 272h0M3328 182h0M3328 371h0M3331 268h0M3330 280h0M3330 283h0M3330 292h0M3330 306h0M3330 326h0M3330 368h0M3331 176h0M3330 187h0M3331 270h0M3332 273h0M3331 363h0M3332 266h0M3332 303h0M3333 271h0M3333 286h0M3333 299h0M3333 305h0M3334 185h0M3334 255h0M3334 260h0M3334 261h0M3335 266h0M3334 284h0M3334 287h0M3334 298h0M3334 306h0M3334 325h0M3335 186h0M3335 263h0M3336 332h0M3336 166h0M3335 259h0M3336 268h0M3335 276h0M3336 281h0M3336 310h0M3336 252h0M3337 268h0M3337 283h0M3338 161h0M3338 249h0M3338 257h0M3338 283h0M3339 286h0M3338 292h0M3338 301h0M3338 315h0M3338 318h0M3337 327h0M3338 366h0M3340 264h0M3339 271h0M3339 281h0M3340 295h0M3340 304h0M3340 326h0M3341 156h0M3341 247h0M3342 262h0M3340 286h0M3340 339h0M3342 252h0M3342 255h0M3342 258h0M3342 283h0M3342 334h0M3343 166h0M3342 238h0M3343 246h0M3343 264h0M3342 267h0M3344 161h0M3344 166h0M3344 249h0M3344 254h0M3344 323h0M3344 358h0M3345 246h0M3345 253h0M3345 261h0M3345 263h0M3346 240h0M3346 255h0M3346 258h0M3346 270h0M3345 285h0M3346 292h0M3346 301h0M3346 308h0M3347 342h0M3347 247h0M3347 250h0M3347 263h0M3347 265h0M3348 274h0M3348 275h0M3347 323h0M3348 282h0M3348 289h0M3349 261h0M3349 305h0M3350 170h0M3350 247h0M3350 262h0M3350 294h0M3351 327h0M3350 345h0M3350 359h0M3350 170h0M3351 244h0M3351 253h0M3351 255h0M3351 257h0M3351 259h0M3350 260h0M3352 169h0M3352 242h0M3352 250h0M3352 252h0M3352 256h0M3352 307h0M3353 312h0M3352 333h0M3352 347h0M3352 167h0M3353 244h0M3353 257h0M3352 274h0M3352 287h0M3354 171h0M3354 259h0M3354 264h0M3353 267h0M3354 275h0M3354 304h0M3354 310h0M3354 336h0M3354 255h0M3355 286h0M3355 322h0M3356 364h0M3356 160h0M3356 291h0M3356 304h0M3357 173h0M3357 253h0M3357 258h0M3357 310h0M3357 328h0M3358 259h0M3358 278h0M3358 305h0M3358 336h0M3359 366h0M3359 168h0M3359 257h0M3359 266h0M3359 282h0M3359 316h0M3360 276h0M3360 344h0M3361 319h0M3361 323h0M3361 171h0M3363 283h0M3362 308h0M3363 171h0M3363 275h0M3363 278h0M3364 162h0M3364 172h0M3364 272h0M3364 309h0M3364 335h0M3366 168h0M3366 268h0M3365 271h0M3365 277h0M3365 317h0M3365 279h0M3367 281h0M3366 356h0M3366 361h0M3367 168h0M3367 286h0M3367 304h0M3368 279h0M3368 307h0M3368 330h0M3369 257h0M3369 277h0M3368 287h0M3369 290h0M3370 300h0M3369 350h0M3371 168h0M3370 255h0M3370 264h0M3370 279h0M3370 291h0M3372 162h0M3371 299h0M3371 308h0M3372 171h0M3373 286h0M3373 342h0M3373 359h0M3374 171h0M3375 172h0" stroke="#0000ff" stroke-width="5.2" stroke-linecap="round" fill="none"/>
<rect x="692.9" y="60" width="8.6" height="80.5" fill="#ffd700"/>
<path transform="scale(.5)" d="M1396 352h0M1399 371h0M1398 369h0M1387 326h0M1401 343h0M1401 293h0M1394 305h0M1395 336h0M1387 302h0M1391 368h0M1398 297h0M1399 295h0M1396 294h0M1387 364h0M1390 302h0M1402 364h0M1391 372h0M1395 346h0M1390 370h0M1397 373h0M1400 310h0M1392 298h0M1389 288h0M1392 339h0M1387 346h0M1392 311h0M1399 327h0M1392 327h0M1398 363h0M1402 362h0M1398 374h0M1387 373h0M1392 370h0M1387 363h0M1390 375h0M1390 373h0M1401 375h0M1392 367h0" stroke="#ffd700" stroke-width="4" stroke-linecap="round" fill="none"/>
<line x1="151.3" y1="59.5" x2="151.3" y2="188" stroke="#555" stroke-width="1.8"/>
<line x1="241" y1="59.5" x2="241" y2="188" stroke="#555" stroke-width="1.8"/>
<line x1="330.7" y1="59.5" x2="330.7" y2="188" stroke="#555" stroke-width="1.8"/>
<line x1="420.4" y1="59.5" x2="420.4" y2="188" stroke="#555" stroke-width="1.8"/>
<line x1="510.1" y1="59.5" x2="510.1" y2="188" stroke="#555" stroke-width="1.8"/>
<line x1="599.8" y1="59.5" x2="599.8" y2="188" stroke="#555" stroke-width="1.8"/>
<line x1="689.5" y1="59.5" x2="689.5" y2="188" stroke="#555" stroke-width="1.8"/>
<line x1="779.2" y1="59.5" x2="779.2" y2="188" stroke="#555" stroke-width="1.8"/>
<line x1="868.9" y1="59.5" x2="868.9" y2="188" stroke="#555" stroke-width="1.8"/>
<line x1="958.6" y1="59.5" x2="958.6" y2="188" stroke="#555" stroke-width="1.8"/>
<line x1="1048.3" y1="59.5" x2="1048.3" y2="188" stroke="#555" stroke-width="1.8"/>
<line x1="1138" y1="59.5" x2="1138" y2="188" stroke="#555" stroke-width="1.8"/>
<line x1="1227.7" y1="59.5" x2="1227.7" y2="188" stroke="#555" stroke-width="1.8"/>
<line x1="1317.4" y1="59.5" x2="1317.4" y2="188" stroke="#555" stroke-width="1.8"/>
<line x1="1407.1" y1="59.5" x2="1407.1" y2="188" stroke="#555" stroke-width="1.8"/>
<line x1="1496.8" y1="59.5" x2="1496.8" y2="188" stroke="#555" stroke-width="1.8"/>
<line x1="1586.5" y1="59.5" x2="1586.5" y2="188" stroke="#555" stroke-width="1.8"/>
<line x1="1676.2" y1="59.5" x2="1676.2" y2="188" stroke="#555" stroke-width="1.8"/>
<path d="M151 117.9C159.17 119.3 186.83 125.42 200 126.3C213.17 127.18 223.33 124.03 230 123.2C236.67 122.37 233.33 121.3 240 121.3C246.67 121.3 256.67 121.97 270 123.2C283.33 124.43 309.17 128.18 320 128.7C330.83 129.22 325 127.53 335 126.3C345 125.07 367.5 122.1 380 121.3C392.5 120.5 398.33 120.5 410 121.5C421.67 122.5 438.33 126.22 450 127.3C461.67 128.38 470 127.97 480 128C490 128.03 499.17 128.18 510 127.5C520.83 126.82 536.67 124.5 545 123.9C553.33 123.3 550.83 122.42 560 123.9C569.17 125.38 588.33 129.72 600 132.8C611.67 135.88 620 140.08 630 142.4C640 144.72 650 145.22 660 146.7C670 148.18 682.5 150.53 690 151.3C697.5 152.07 700 151.78 705 151.3C710 150.82 712.5 150.28 720 148.4C727.5 146.52 740 142.48 750 140C760 137.52 770 135.22 780 133.5C790 131.78 798.33 130.62 810 129.7C821.67 128.78 840 128.57 850 128C860 127.43 861.67 127.7 870 126.3C878.33 124.9 890 121.4 900 119.6C910 117.8 922.5 116.1 930 115.5C937.5 114.9 938.33 115.32 945 116C951.67 116.68 960.83 117.88 970 119.6C979.17 121.32 992.5 125.18 1000 126.3C1007.5 127.42 1007.17 127.42 1015 126.3C1022.83 125.18 1037.83 121.2 1047 119.6C1056.17 118 1061.17 116.98 1070 116.7C1078.83 116.42 1086.67 117.62 1100 117.9C1113.33 118.18 1133.33 118.4 1150 118.4C1166.67 118.4 1186.67 118.3 1200 117.9C1213.33 117.5 1213.33 116.52 1230 116C1246.67 115.48 1278.33 115.2 1300 114.8C1321.67 114.4 1345 113.92 1360 113.6C1375 113.28 1380 112.78 1390 112.9C1400 113.02 1408.33 113.58 1420 114.3C1431.67 115.02 1447.33 117.2 1460 117.2C1472.67 117.2 1482.67 114.78 1496 114.3C1509.33 113.82 1526 114.42 1540 114.3C1554 114.18 1566.67 114.12 1580 113.6C1593.33 113.08 1606.67 111.32 1620 111.2C1633.33 111.08 1648.67 112.22 1660 112.9C1671.33 113.58 1683.33 114.9 1688 115.3" fill="none" stroke="#000" stroke-width="4.2" stroke-linecap="round"/>
<rect x="90.6" y="55" width="1657.6" height="137.5" fill="none" stroke="#000" stroke-width="2"/>
<line x1="87.5" y1="187.3" x2="90.6" y2="187.3" stroke="#000" stroke-width="1.6"/>

<text x="45.45" y="194.6" font-family="Carlito, 'Liberation Sans', sans-serif" font-size="29" font-weight="bold" textLength="37.14" lengthAdjust="spacingAndGlyphs">0.0</text>
<line x1="87.5" y1="161.8" x2="90.6" y2="161.8" stroke="#000" stroke-width="1.6"/>

<text x="45.86" y="169.1" font-family="Carlito, 'Liberation Sans', sans-serif" font-size="29" font-weight="bold" textLength="37.14" lengthAdjust="spacingAndGlyphs">0.2</text>
<line x1="87.5" y1="136.3" x2="90.6" y2="136.3" stroke="#000" stroke-width="1.6"/>

<text x="45.3" y="143.6" font-family="Carlito, 'Liberation Sans', sans-serif" font-size="29" font-weight="bold" textLength="37.14" lengthAdjust="spacingAndGlyphs">0.4</text>
<line x1="87.5" y1="110.8" x2="90.6" y2="110.8" stroke="#000" stroke-width="1.6"/>

<text x="45.5" y="118.1" font-family="Carlito, 'Liberation Sans', sans-serif" font-size="29" font-weight="bold" textLength="37.14" lengthAdjust="spacingAndGlyphs">0.6</text>
<line x1="87.5" y1="85.3" x2="90.6" y2="85.3" stroke="#000" stroke-width="1.6"/>

<text x="45.72" y="92.6" font-family="Carlito, 'Liberation Sans', sans-serif" font-size="29" font-weight="bold" textLength="37.14" lengthAdjust="spacingAndGlyphs">0.8</text>
<line x1="87.5" y1="59.8" x2="90.6" y2="59.8" stroke="#000" stroke-width="1.6"/>

<text x="45.45" y="67.1" font-family="Carlito, 'Liberation Sans', sans-serif" font-size="29" font-weight="bold" textLength="37.14" lengthAdjust="spacingAndGlyphs">1.0</text>
<line x1="151.3" y1="50" x2="151.3" y2="55" stroke="#000" stroke-width="1.6"/>
<text x="144.08" y="45.8" font-family="Carlito, 'Liberation Sans', sans-serif" font-size="28.5" font-weight="bold" textLength="14.44" lengthAdjust="spacingAndGlyphs">0</text>
<line x1="599.8" y1="50" x2="599.8" y2="55" stroke="#000" stroke-width="1.6"/>
<text x="592.89" y="45.8" font-family="Carlito, 'Liberation Sans', sans-serif" font-size="28.5" font-weight="bold" textLength="14.44" lengthAdjust="spacingAndGlyphs">5</text>
<line x1="1048.3" y1="50" x2="1048.3" y2="55" stroke="#000" stroke-width="1.6"/>
<text x="1033.19" y="45.8" font-family="Carlito, 'Liberation Sans', sans-serif" font-size="28.5" font-weight="bold" textLength="28.89" lengthAdjust="spacingAndGlyphs">10</text>
<line x1="1496.8" y1="50" x2="1496.8" y2="55" stroke="#000" stroke-width="1.6"/>
<text x="1482.13" y="45.8" font-family="Carlito, 'Liberation Sans', sans-serif" font-size="28.5" font-weight="bold" textLength="28.89" lengthAdjust="spacingAndGlyphs">15</text>
<line x1="154.5" y1="224.1" x2="1687.5" y2="224.1" stroke="#000" stroke-width="1.9"/>
<path d="M164 218.1 L153.5 224.1 L164 230.1" fill="none" stroke="#000" stroke-width="1.8"/>
<path d="M1678 218.1 L1688.5 224.1 L1678 230.1" fill="none" stroke="#000" stroke-width="1.8"/>
<path d="M168.85 221.1V227.1M184.2 221.1V227.1M199.55 221.1V227.1M214.9 221.1V227.1M230.25 221.1V227.1M245.6 221.1V227.1M260.95 221.1V227.1M276.3 221.1V227.1M291.65 221.1V227.1M307 217.1V231.1M322.35 221.1V227.1M337.7 221.1V227.1M353.05 221.1V227.1M368.4 221.1V227.1M383.75 221.1V227.1M399.1 221.1V227.1M414.45 221.1V227.1M429.8 221.1V227.1M445.15 221.1V227.1M460.5 217.1V231.1M475.85 221.1V227.1M491.2 221.1V227.1M506.55 221.1V227.1M521.9 221.1V227.1M537.25 221.1V227.1M552.6 221.1V227.1M567.95 221.1V227.1M583.3 221.1V227.1M598.65 221.1V227.1M614 217.1V231.1M629.35 221.1V227.1M644.7 221.1V227.1M660.05 221.1V227.1M675.4 221.1V227.1M690.75 221.1V227.1M706.1 221.1V227.1M721.45 221.1V227.1M736.8 221.1V227.1M752.15 221.1V227.1M767.5 217.1V231.1M782.85 221.1V227.1M798.2 221.1V227.1M813.55 221.1V227.1M828.9 221.1V227.1M844.25 221.1V227.1M859.6 221.1V227.1M874.95 221.1V227.1M890.3 221.1V227.1M905.65 221.1V227.1M921 217.1V231.1M936.35 221.1V227.1M951.7 221.1V227.1M967.05 221.1V227.1M982.4 221.1V227.1M997.75 221.1V227.1M1013.1 221.1V227.1M1028.45 221.1V227.1M1043.8 221.1V227.1M1059.15 221.1V227.1M1074.5 217.1V231.1M1089.85 221.1V227.1M1105.2 221.1V227.1M1120.55 221.1V227.1M1135.9 221.1V227.1M1151.25 221.1V227.1M1166.6 221.1V227.1M1181.95 221.1V227.1M1197.3 221.1V227.1M1212.65 221.1V227.1M1228 217.1V231.1M1243.35 221.1V227.1M1258.7 221.1V227.1M1274.05 221.1V227.1M1289.4 221.1V227.1M1304.75 221.1V227.1M1320.1 221.1V227.1M1335.45 221.1V227.1M1350.8 221.1V227.1M1366.15 221.1V227.1M1381.5 217.1V231.1M1396.85 221.1V227.1M1412.2 221.1V227.1M1427.55 221.1V227.1M1442.9 221.1V227.1M1458.25 221.1V227.1M1473.6 221.1V227.1M1488.95 221.1V227.1M1504.3 221.1V227.1M1519.65 221.1V227.1M1535 217.1V231.1M1550.35 221.1V227.1M1565.7 221.1V227.1M1581.05 221.1V227.1M1596.4 221.1V227.1M1611.75 221.1V227.1M1627.1 221.1V227.1M1642.45 221.1V227.1M1657.8 221.1V227.1M1673.15 221.1V227.1" stroke="#000" stroke-width="1.7" fill="none"/>
<text x="120.18" y="252.5" font-family="'Liberation Sans', Arial, sans-serif" font-size="24" textLength="65.39" lengthAdjust="spacingAndGlyphs">6040k</text>
<text x="273.68" y="252.5" font-family="'Liberation Sans', Arial, sans-serif" font-size="24" textLength="65.39" lengthAdjust="spacingAndGlyphs">6050k</text>
<text x="427.18" y="252.5" font-family="'Liberation Sans', Arial, sans-serif" font-size="24" textLength="65.39" lengthAdjust="spacingAndGlyphs">6060k</text>
<text x="580.68" y="252.5" font-family="'Liberation Sans', Arial, sans-serif" font-size="24" textLength="65.39" lengthAdjust="spacingAndGlyphs">6070k</text>
<text x="734.18" y="252.5" font-family="'Liberation Sans', Arial, sans-serif" font-size="24" textLength="65.39" lengthAdjust="spacingAndGlyphs">6080k</text>
<text x="887.68" y="252.5" font-family="'Liberation Sans', Arial, sans-serif" font-size="24" textLength="65.39" lengthAdjust="spacingAndGlyphs">6090k</text>
<text x="1041.18" y="252.5" font-family="'Liberation Sans', Arial, sans-serif" font-size="24" textLength="65.39" lengthAdjust="spacingAndGlyphs">6100k</text>
<text x="1194.68" y="252.5" font-family="'Liberation Sans', Arial, sans-serif" font-size="24" textLength="65.39" lengthAdjust="spacingAndGlyphs">6110k</text>
<text x="1348.18" y="252.5" font-family="'Liberation Sans', Arial, sans-serif" font-size="24" textLength="65.39" lengthAdjust="spacingAndGlyphs">6120k</text>
<text x="1501.68" y="252.5" font-family="'Liberation Sans', Arial, sans-serif" font-size="24" textLength="65.39" lengthAdjust="spacingAndGlyphs">6130k</text>
<text x="1655.18" y="252.5" font-family="'Liberation Sans', Arial, sans-serif" font-size="24" textLength="65.39" lengthAdjust="spacingAndGlyphs">6140k</text>
<rect x="190.5" y="277.2" width="134" height="2.8" fill="#00008b"/><rect x="192" y="261.2" width="8.5" height="34.8" fill="#00008b"/><rect x="201.5" y="257" width="1.3" height="43.5" fill="#00008b"/><rect x="203.5" y="257" width="1.3" height="43.5" fill="#00008b"/><rect x="206" y="257" width="1.3" height="43.5" fill="#00008b"/><rect x="208.5" y="257" width="1.3" height="43.5" fill="#00008b"/><rect x="211" y="257" width="1.3" height="43.5" fill="#00008b"/><rect x="213.5" y="257" width="1.3" height="43.5" fill="#00008b"/><rect x="216" y="257" width="1.3" height="43.5" fill="#00008b"/><rect x="219" y="257" width="1.3" height="43.5" fill="#00008b"/><rect x="221.5" y="257" width="1.3" height="43.5" fill="#00008b"/><rect x="224" y="257" width="1.3" height="43.5" fill="#00008b"/><rect x="226.5" y="257" width="1.3" height="43.5" fill="#00008b"/><rect x="229.5" y="257" width="1.3" height="43.5" fill="#00008b"/><rect x="232" y="257" width="1.3" height="43.5" fill="#00008b"/><rect x="235" y="257" width="1.3" height="43.5" fill="#00008b"/><rect x="238.5" y="257" width="1.3" height="43.5" fill="#00008b"/><rect x="257.3" y="257" width="1.9" height="43.5" fill="#00008b"/><rect x="262.3" y="257" width="2.5" height="43.5" fill="#00008b"/><rect x="268.5" y="257" width="1.1" height="43.5" fill="#7070c0"/><rect x="272.2" y="257" width="1.4" height="43.5" fill="#00008b"/><rect x="284.4" y="257" width="1.8" height="43.5" fill="#00008b"/><rect x="294.5" y="257" width="1.8" height="43.5" fill="#00008b"/><rect x="298.2" y="257" width="1.4" height="43.5" fill="#00008b"/><rect x="301.5" y="257" width="1.5" height="43.5" fill="#00008b"/><rect x="307" y="257" width="1.5" height="43.5" fill="#00008b"/><rect x="309.3" y="261.2" width="13.9" height="34.8" fill="#00008b"/><rect x="334.5" y="277.2" width="40" height="2.8" fill="#00008b"/><rect x="336" y="261.2" width="3" height="34.8" fill="#00008b"/><rect x="338.5" y="257" width="12.7" height="43.5" fill="#00008b"/><rect x="353.6" y="257" width="8" height="43.5" fill="#00008b"/><rect x="366.4" y="257" width="2.8" height="43.5" fill="#00008b"/><rect x="371.2" y="257" width="1.6" height="43.5" fill="#00008b"/><rect x="383" y="268.2" width="2.3" height="21.3" fill="#aaaaaa"/><rect x="394" y="277.2" width="40.5" height="2.8" fill="#00008b"/><rect x="395.2" y="257" width="8.6" height="43.5" fill="#00008b"/><rect x="397.6" y="257" width="1" height="43.5" fill="#6a6ad0"/><rect x="405" y="257" width="5" height="43.5" fill="#00008b"/><rect x="415.2" y="257" width="7.7" height="43.5" fill="#00008b"/><rect x="426.4" y="257" width="2.4" height="43.5" fill="#00008b"/><rect x="430.4" y="257" width="2.6" height="43.5" fill="#00008b"/><rect x="480.5" y="277.2" width="35.5" height="2.8" fill="#00008b"/><rect x="481.6" y="257" width="12.4" height="43.5" fill="#00008b"/><rect x="497" y="257" width="7.8" height="43.5" fill="#00008b"/><rect x="507.7" y="257" width="1.8" height="43.5" fill="#00008b"/><rect x="512.5" y="257" width="1.5" height="43.5" fill="#00008b"/><rect x="547.3" y="268" width="2.4" height="21.2" fill="#aaaaaa"/><rect x="580.3" y="277.2" width="44.3" height="2.8" fill="#00008b"/><rect x="622.4" y="257" width="1.4" height="43.5" fill="#3a3aa8"/><rect x="643.7" y="268" width="42.2" height="21.2" fill="#aaaaaa"/><rect x="705" y="277.2" width="84" height="2.8" fill="#00008b"/><rect x="706.8" y="257" width="1.3" height="43.5" fill="#00008b"/><rect x="709.5" y="257" width="1.3" height="43.5" fill="#00008b"/><rect x="711.5" y="257" width="1.3" height="43.5" fill="#00008b"/><rect x="713.6" y="257" width="1.3" height="43.5" fill="#00008b"/><rect x="715.6" y="257" width="1.3" height="43.5" fill="#00008b"/><rect x="718.3" y="257" width="1.3" height="43.5" fill="#00008b"/><rect x="720.4" y="257" width="1.3" height="43.5" fill="#00008b"/><rect x="723.1" y="257" width="1.3" height="43.5" fill="#00008b"/><rect x="726.6" y="257" width="1.3" height="43.5" fill="#00008b"/><rect x="733" y="257" width="1.4" height="43.5" fill="#00008b"/><rect x="735.6" y="257" width="1.4" height="43.5" fill="#00008b"/><rect x="737.8" y="257" width="1.2" height="43.5" fill="#00008b"/><rect x="740.7" y="257" width="3.8" height="43.5" fill="#00008b"/><rect x="753.3" y="257" width="3" height="43.5" fill="#00008b"/><rect x="780.8" y="257" width="1.8" height="43.5" fill="#00008b"/><rect x="785" y="257" width="2" height="43.5" fill="#00008b"/><rect x="792.2" y="257" width="11.3" height="43.5" fill="#228b22"/><rect x="824.7" y="268" width="12.3" height="21.2" fill="#aaaaaa"/><rect x="856.6" y="268" width="2.2" height="21.2" fill="#aaaaaa"/><rect x="862.1" y="268" width="27.8" height="21.2" fill="#aaaaaa"/><rect x="921.8" y="257" width="11.5" height="43.5" fill="#228b22"/><rect x="978" y="268" width="51" height="21.2" fill="#aaaaaa"/><rect x="1030.8" y="268" width="16.7" height="21.2" fill="#aaaaaa"/><rect x="957" y="257" width="23.2" height="43.5" fill="#228b22"/><rect x="1099.7" y="268" width="17.1" height="21.2" fill="#aaaaaa"/><rect x="1136.2" y="268" width="56.6" height="21.2" fill="#aaaaaa"/><rect x="1193.6" y="268" width="50.2" height="21.2" fill="#aaaaaa"/><rect x="1251" y="268" width="14.8" height="21.2" fill="#aaaaaa"/><rect x="1268.4" y="268" width="9.7" height="21.2" fill="#aaaaaa"/><rect x="1297" y="268" width="37.7" height="21.2" fill="#aaaaaa"/><rect x="1384.5" y="268" width="26.7" height="21.2" fill="#aaaaaa"/><rect x="1418.6" y="268" width="17.9" height="21.2" fill="#aaaaaa"/><rect x="1445.8" y="257" width="11.3" height="43.5" fill="#228b22"/><rect x="1471.1" y="257" width="11.3" height="43.5" fill="#228b22"/><rect x="1504.7" y="277.2" width="42.4" height="2.8" fill="#00008b"/><rect x="1519.6" y="257" width="1.6" height="43.5" fill="#00008b"/><rect x="1531.7" y="257" width="1.6" height="43.5" fill="#00008b"/><rect x="1535.1" y="257" width="1.6" height="43.5" fill="#00008b"/><rect x="1540.4" y="257" width="1.2" height="43.5" fill="#00008b"/><rect x="1541.6" y="261.2" width="4.4" height="34.8" fill="#00008b"/><rect x="1579" y="277.2" width="60" height="2.8" fill="#00008b"/><rect x="1581" y="261.2" width="21.7" height="34.8" fill="#00008b"/><rect x="1602.7" y="257" width="5.7" height="43.5" fill="#00008b"/><rect x="1611.2" y="257" width="5.4" height="43.5" fill="#00008b"/><rect x="1626.6" y="257" width="1.6" height="43.5" fill="#00008b"/><rect x="1628.4" y="261.2" width="9" height="34.8" fill="#00008b"/>
<line x1="192.7" y1="307.2" x2="317.1" y2="307.2" stroke="#000" stroke-width="4.3" stroke-linecap="round"/><path d="M325.6 307.2 L315.1 301 L315.1 313.4 Z" fill="#000" stroke="#000" stroke-width="1" stroke-linejoin="round"/><line x1="342.1" y1="307.2" x2="372.6" y2="307.2" stroke="#000" stroke-width="4.3" stroke-linecap="round"/><path d="M333.6 307.2 L344.1 301 L344.1 313.4 Z" fill="#000" stroke="#000" stroke-width="1" stroke-linejoin="round"/><line x1="402.9" y1="307.2" x2="432.6" y2="307.2" stroke="#000" stroke-width="4.3" stroke-linecap="round"/><path d="M394.4 307.2 L404.9 301 L404.9 313.4 Z" fill="#000" stroke="#000" stroke-width="1" stroke-linejoin="round"/><line x1="488" y1="307.2" x2="514.2" y2="307.2" stroke="#000" stroke-width="4.3" stroke-linecap="round"/><path d="M479.5 307.2 L490 301 L490 313.4 Z" fill="#000" stroke="#000" stroke-width="1" stroke-linejoin="round"/><line x1="587.4" y1="307.2" x2="623.4" y2="307.2" stroke="#000" stroke-width="4.3" stroke-linecap="round"/><path d="M578.9 307.2 L589.4 301 L589.4 313.4 Z" fill="#000" stroke="#000" stroke-width="1" stroke-linejoin="round"/><line x1="706.6" y1="307.2" x2="781.7" y2="307.2" stroke="#000" stroke-width="4.3" stroke-linecap="round"/><path d="M790.2 307.2 L779.7 301 L779.7 313.4 Z" fill="#000" stroke="#000" stroke-width="1" stroke-linejoin="round"/><line x1="793" y1="307.2" x2="797.7" y2="307.2" stroke="#000" stroke-width="4.3" stroke-linecap="round"/><path d="M806.2 307.2 L795.7 301 L795.7 313.4 Z" fill="#000" stroke="#000" stroke-width="1" stroke-linejoin="round"/><line x1="921.1" y1="307.2" x2="927.3" y2="307.2" stroke="#000" stroke-width="4.3" stroke-linecap="round"/><path d="M935.8 307.2 L925.3 301 L925.3 313.4 Z" fill="#000" stroke="#000" stroke-width="1" stroke-linejoin="round"/><line x1="957.1" y1="307.2" x2="974.2" y2="307.2" stroke="#000" stroke-width="4.3" stroke-linecap="round"/><path d="M982.7 307.2 L972.2 301 L972.2 313.4 Z" fill="#000" stroke="#000" stroke-width="1" stroke-linejoin="round"/><line x1="1445.5" y1="307.2" x2="1450.7" y2="307.2" stroke="#000" stroke-width="4.3" stroke-linecap="round"/><path d="M1459.2 307.2 L1448.7 301 L1448.7 313.4 Z" fill="#000" stroke="#000" stroke-width="1" stroke-linejoin="round"/><line x1="1470.8" y1="307.2" x2="1475.7" y2="307.2" stroke="#000" stroke-width="4.3" stroke-linecap="round"/><path d="M1484.2 307.2 L1473.7 301 L1473.7 313.4 Z" fill="#000" stroke="#000" stroke-width="1" stroke-linejoin="round"/><line x1="1506.5" y1="307.2" x2="1539.4" y2="307.2" stroke="#000" stroke-width="4.3" stroke-linecap="round"/><path d="M1547.9 307.2 L1537.4 301 L1537.4 313.4 Z" fill="#000" stroke="#000" stroke-width="1" stroke-linejoin="round"/><line x1="1587.2" y1="307.2" x2="1637.2" y2="307.2" stroke="#000" stroke-width="4.3" stroke-linecap="round"/><path d="M1578.7 307.2 L1589.2 301 L1589.2 313.4 Z" fill="#000" stroke="#000" stroke-width="1" stroke-linejoin="round"/>
<text x="251.73" y="330.6" font-family="'Liberation Sans', Arial, sans-serif" font-size="21.5">1</text>
<text x="348.52" y="330.6" font-family="'Liberation Sans', Arial, sans-serif" font-size="21.5">2</text>
<text x="408.08" y="330.6" font-family="'Liberation Sans', Arial, sans-serif" font-size="21.5">3</text>
<text x="492.09" y="330.6" font-family="'Liberation Sans', Arial, sans-serif" font-size="21.5">4</text>
<text x="596.04" y="330.6" font-family="'Liberation Sans', Arial, sans-serif" font-size="21.5">5</text>
<text x="740.95" y="330.6" font-family="'Liberation Sans', Arial, sans-serif" font-size="21.5">6</text>
<text x="791.41" y="330.6" font-family="'Liberation Sans', Arial, sans-serif" font-size="21.5">7</text>
<text x="921.52" y="330.6" font-family="'Liberation Sans', Arial, sans-serif" font-size="21.5">8</text>
<text x="962.33" y="330.6" font-family="'Liberation Sans', Arial, sans-serif" font-size="21.5">9</text>
<text x="1439.14" y="330.6" font-family="'Liberation Sans', Arial, sans-serif" font-size="21.5" textLength="23.91" lengthAdjust="spacingAndGlyphs">10</text>
<text x="1463.25" y="330.6" font-family="'Liberation Sans', Arial, sans-serif" font-size="21.5" textLength="23.91" lengthAdjust="spacingAndGlyphs">11</text>
<text x="1514.06" y="330.6" font-family="'Liberation Sans', Arial, sans-serif" font-size="21.5" textLength="23.91" lengthAdjust="spacingAndGlyphs">12</text>
<text x="1597" y="330.6" font-family="'Liberation Sans', Arial, sans-serif" font-size="21.5" textLength="23.91" lengthAdjust="spacingAndGlyphs">13</text>
<text x="298.89" y="406" font-family="Carlito, 'Liberation Sans', sans-serif" font-size="45.4" font-weight="bold" textLength="395.73" lengthAdjust="spacingAndGlyphs">Haplotype frequency</text>
<path d="M187.2 540.6 L304.8 540.6 L304.8 563.6 L187.2 563.6Z" fill="#236d44"/><path d="M198.47 618.44 192.36 618.72 186.24 618.8 180.12 618.66 174.01 618.31 167.95 617.74 161.93 616.97 155.99 615.99 150.13 614.8 144.37 613.42 138.72 611.83 133.21 610.05 127.85 608.08 122.64 605.93 117.61 603.6 112.77 601.1 108.13 598.43 103.7 595.61 99.51 592.64 95.55 589.52 91.83 586.27 88.38 582.9 85.2 579.41 82.29 575.82 79.66 572.13 77.33 568.36 75.3 564.5 73.57 560.59 72.14 556.62 71.03 552.6 70.24 548.55 69.76 544.48 69.6 540.4 69.6 563.6 69.76 567.68 70.24 571.75 71.03 575.8 72.14 579.82 73.57 583.79 75.3 587.7 77.33 591.56 79.66 595.33 82.29 599.02 85.2 602.61 88.38 606.1 91.83 609.47 95.55 612.72 99.51 615.84 103.7 618.81 108.13 621.63 112.77 624.3 117.61 626.8 122.64 629.13 127.85 631.28 133.21 633.25 138.72 635.03 144.37 636.62 150.13 638 155.99 639.19 161.93 640.17 167.95 640.94 174.01 641.51 180.12 641.86 186.24 642 192.36 641.92 198.47 641.64Z" fill="#236d44"/><path d="M187.2 541.6 198.47 619.64 192.34 619.93 186.2 620 180.05 619.86 173.93 619.5 167.85 618.93 161.81 618.15 155.85 617.16 149.97 615.97 144.19 614.57 138.53 612.97 133.01 611.18 127.63 609.2 122.41 607.03 117.37 604.68 112.53 602.17 107.88 599.48 103.45 596.64 99.26 593.65 95.3 590.52 91.59 587.25 88.14 583.86 84.97 580.35 82.07 576.73 79.46 573.03 77.15 569.23 75.13 565.36 73.42 561.42 72.02 557.43 70.94 553.4 70.17 549.34 69.73 545.25 69.6 541.15 69.8 537.06 70.31 532.98 71.15 528.92 72.3 524.89 73.77 520.91 75.54 516.99 77.62 513.14 80 509.36 82.68 505.67 85.64 502.08 88.87 498.6 92.38 495.23 96.14 491.99 100.15 488.89 104.4 485.93 108.88 483.12 113.57 480.47 118.46 477.99 123.53 475.68 128.79 473.56 134.2 471.61 139.76 469.86 145.44 468.31 151.24 466.95 157.14 465.8 163.12 464.86 169.17 464.13 175.26 463.6 181.39 463.3 187.53 463.2 193.68 463.32 199.8 463.65 205.89 464.2 211.93 464.95 217.91 465.92 223.79 467.09 229.58 468.47 235.26 470.04 240.8 471.82 246.19 473.78 251.43 475.93 256.49 478.25 261.36 480.75 266.02 483.42 270.47 486.24 274.7 489.22 278.68 492.34 282.42 495.59 285.89 498.97 289.1 502.46 292.03 506.07 294.67 509.77 297.02 513.55 299.06 517.42 300.81 521.34 302.24 525.33 303.36 529.36 304.16 533.42 304.64 537.5 304.8 541.6Z" fill="#2e8b57"/><path d="M197.59 544.29 L210.66 622.86 L210.66 645.86 L197.59 567.29Z" fill="#00cccc"/><path d="M224.65 621.22 220.01 621.81 215.35 622.29 210.66 622.66 210.66 645.86 215.35 645.49 220.01 645.01 224.65 644.42Z" fill="#00cccc"/><path d="M197.59 545.29 224.65 622.42 220.01 623.01 215.35 623.49 210.66 623.86Z" fill="#00ffff"/><path d="M240.49 618.31 235.32 619.42 230.09 620.38 224.79 621.2 224.79 644.4 230.09 643.58 235.32 642.62 240.49 641.51Z" fill="#cc5a92"/><path d="M197.74 545.27 240.49 619.51 235.32 620.62 230.09 621.58 224.79 622.4Z" fill="#ff69b4"/><path d="M245.67 617.04 243.14 617.68 240.59 618.29 240.59 641.49 243.14 640.88 245.67 640.24Z" fill="#585858"/><path d="M197.83 545.25 245.67 618.24 243.14 618.88 240.59 619.49Z" fill="#6e6e6e"/><path d="M249.12 616.1 247.42 616.57 245.71 617.02 245.71 640.22 247.42 639.77 249.12 639.3Z" fill="#7b7b7b"/><path d="M197.88 545.24 249.12 617.3 247.42 617.77 245.71 618.22Z" fill="#9a9a9a"/><path d="M252.31 615.15 250.73 615.63 249.15 616.09 249.15 639.29 250.73 638.83 252.31 638.35Z" fill="#a0a099"/><path d="M197.91 545.23 252.31 616.35 250.73 616.83 249.15 617.29Z" fill="#c8c8c0"/><path d="M260.08 612.56 256.26 613.89 252.36 615.14 252.36 638.34 256.26 637.09 260.08 635.76Z" fill="#a449c0"/><path d="M197.96 545.21 260.08 613.76 256.26 615.09 252.36 616.34Z" fill="#cd5cf0"/><path d="M286.52 599.8 282.52 602.21 278.37 604.52 274.05 606.7 269.59 608.76 264.98 610.69 260.25 612.49 260.25 635.69 264.98 633.89 269.59 631.96 274.05 629.9 278.37 627.72 282.52 625.41 286.52 623Z" fill="#bf2222"/><path d="M198.13 545.14 286.52 601 282.52 603.41 278.37 605.72 274.05 607.9 269.59 609.96 264.98 611.89 260.25 613.69Z" fill="#ee2c2c"/><path d="M294.04 594.62 290.44 597.21 286.67 599.7 286.67 622.9 290.44 620.41 294.04 617.82Z" fill="#d4d400"/><path d="M198.28 545.04 294.04 595.82 290.44 598.41 286.67 600.9Z" fill="#ffff00"/><path d="M306.64 583.26 303.81 586.21 300.78 589.07 297.55 591.85 294.14 594.54 294.14 617.74 297.55 615.05 300.78 612.27 303.81 609.41 306.64 606.46Z" fill="#8cb3bc"/><path d="M198.38 544.96 306.64 584.46 303.81 587.41 300.78 590.27 297.55 593.05 294.14 595.74Z" fill="#b0e0ec"/><path d="M313.54 574.53 311.45 577.46 309.18 580.34 306.73 583.16 306.73 606.36 309.18 603.54 311.45 600.66 313.54 597.73Z" fill="#d46a1e"/><path d="M198.47 544.86 313.54 575.73 311.45 578.66 309.18 581.54 306.73 584.36Z" fill="#ff7f24"/><path d="M316.71 569.31 315.22 571.9 313.58 574.46 313.58 597.66 315.22 595.1 316.71 592.51Z" fill="#6e370f"/><path d="M198.52 544.79 316.71 570.51 315.22 573.1 313.58 575.66Z" fill="#8b4513"/><path d="M318.08 566.65 317.42 567.96 316.73 569.27 316.73 592.47 317.42 591.16 318.08 589.85Z" fill="#145ea6"/><path d="M198.54 544.75 318.08 567.85 317.42 569.16 316.73 570.47Z" fill="#1874cd"/><path d="M319.52 563.43 318.83 565.03 318.09 566.62 318.09 589.82 318.83 588.23 319.52 586.63Z" fill="#cc6a8a"/><path d="M198.55 544.72 319.52 564.63 318.83 566.23 318.09 567.82Z" fill="#ff82ab"/><path d="M323.54 545.62 323.25 549.2 322.71 552.77 321.91 556.32 320.86 559.84 319.55 563.33 319.55 586.53 320.86 583.04 321.91 579.52 322.71 575.97 323.25 572.4 323.54 568.82Z" fill="#cfb592"/><path d="M198.59 544.61 323.54 546.82 323.25 550.4 322.71 553.97 321.91 557.52 320.86 561.04 319.55 564.53Z" fill="#ffe4b5"/><path d="M323.6 543.31 323.59 544.41 323.55 545.52 323.55 568.72 323.59 567.61 323.6 566.51Z" fill="#cc9a20"/><path d="M198.6 544.51 323.6 544.51 323.59 545.61 323.55 546.72Z" fill="#ffc125"/>
<text x="110.48" y="524.8" font-family="Carlito, 'Liberation Sans', sans-serif" font-size="42" font-weight="bold" textLength="86.34" lengthAdjust="spacingAndGlyphs">H1-A</text>
<path d="M491.6 541.8 L482.17 463.65 L482.17 486.65 L491.6 564.8Z" fill="#236d44"/><path d="M491.6 541.8 L609.2 541.8 L609.2 564.8 L491.6 564.8Z" fill="#236d44"/><path d="M491.6 542.8 482.17 464.65 488.23 464.43 494.29 464.42 500.35 464.62 506.39 465.02 512.39 465.63 518.33 466.45 524.2 467.47 529.98 468.69 535.67 470.11 541.23 471.72 546.66 473.52 551.95 475.51 557.07 477.67 562.02 480.01 566.79 482.52 571.35 485.18 575.7 488 579.83 490.97 583.72 494.07 587.37 497.3 590.76 500.65 593.89 504.12 596.75 507.69 599.32 511.35 601.61 515.1 603.61 518.91 605.31 522.8 606.7 526.73 607.79 530.71 608.57 534.72 609.04 538.76 609.2 542.8Z" fill="#2e8b57"/><path d="M484.5 545.5 388.68 495.39 391.62 492.96 394.7 490.61 397.92 488.34Z" fill="#ff82ab"/><path d="M484.5 545.5 398.82 487.74 401.88 485.77 405.04 483.88 408.3 482.06Z" fill="#cd5c5c"/><path d="M484.5 545.5 409.3 481.53 414.23 479.07 419.34 476.77Z" fill="#1874cd"/><path d="M484.5 545.5 420.42 476.32 424.95 474.53 429.6 472.87 434.34 471.35 439.18 469.96 444.11 468.72Z" fill="#ee2c2c"/><path d="M484.5 545.5 445.31 468.44 449.49 467.55 453.71 466.75 457.97 466.06Z" fill="#87c1ee"/><path d="M484.5 545.5 459.22 465.88 463.8 465.29 468.42 464.82 473.06 464.46Z" fill="#a9a9a9"/><path d="M474.8 541.5 L391.64 596.94 L391.64 619.94 L474.8 564.5Z" fill="#cfb592"/><path d="M391.64 596.74 387.66 593.95 383.89 591.04 380.34 588 377.02 584.86 373.93 581.61 371.09 578.26 368.49 574.82 366.15 571.3 364.07 567.71 362.26 564.06 360.72 560.35 359.46 556.6 358.47 552.8 357.77 548.98 357.34 545.15 357.2 541.3 357.2 564.5 357.34 568.35 357.77 572.18 358.47 576 359.46 579.8 360.72 583.55 362.26 587.26 364.07 590.91 366.15 594.5 368.49 598.02 371.09 601.46 373.93 604.81 377.02 608.06 380.34 611.2 383.89 614.24 387.66 617.15 391.64 619.94Z" fill="#cfb592"/><path d="M474.8 542.5 391.64 597.94 387.46 595 383.5 591.91 379.79 588.7 376.33 585.36 373.14 581.91 370.22 578.35 367.58 574.7 365.22 570.96 363.16 567.14 361.4 563.26 359.94 559.33 358.79 555.34 357.95 551.33 357.42 547.29 357.21 543.23 357.31 539.18 357.72 535.13 358.45 531.11 359.49 527.11 360.84 523.15 362.49 519.25 364.44 515.41 366.69 511.64 369.23 507.96 372.05 504.36 375.15 500.87 378.51 497.49 382.13 494.23Z" fill="#ffe4b5"/><path d="M495.6 541.8 L612.6 549.72 L612.6 572.72 L495.6 564.8Z" fill="#7a28cc"/><path d="M613.2 541.6 613.05 545.57 612.6 549.52 612.6 572.72 613.05 568.77 613.2 564.8Z" fill="#7a28cc"/><path d="M495.6 542.8 613.2 542.8 613.05 546.77 612.6 550.72Z" fill="#9b30ff"/><path d="M608.6 551.12 607.82 555.18 606.72 559.21 605.31 563.2 603.59 567.13 601.56 571 599.23 574.79 596.61 578.49 593.71 582.1 590.52 585.6 587.06 588.98 583.35 592.24 579.38 595.37 575.18 598.36 570.74 601.19 566.09 603.87 561.24 606.38 556.2 608.71 550.98 610.87 545.6 612.85 540.07 614.63 534.41 616.22 528.63 617.61 522.75 618.8 516.79 619.78 510.76 620.55 504.67 621.11 498.55 621.46 492.41 621.6 486.27 621.52 480.14 621.23 474.05 620.72 468 620.01 462.02 619.08 456.11 617.95 450.31 616.61 444.62 615.07 439.05 613.34 433.63 611.41 428.37 609.3 423.27 607.01 418.37 604.54 413.67 601.91 409.17 599.12 409.17 622.32 413.67 625.11 418.37 627.74 423.27 630.21 428.37 632.5 433.63 634.61 439.05 636.54 444.62 638.27 450.31 639.81 456.11 641.15 462.02 642.28 468 643.21 474.05 643.92 480.14 644.43 486.27 644.72 492.41 644.8 498.55 644.66 504.67 644.31 510.76 643.75 516.79 642.98 522.75 642 528.63 640.81 534.41 639.42 540.07 637.83 545.6 636.05 550.98 634.07 556.2 631.91 561.24 629.58 566.09 627.07 570.74 624.39 575.18 621.56 579.38 618.57 583.35 615.44 587.06 612.18 590.52 608.8 593.71 605.3 596.61 601.69 599.23 597.99 601.56 594.2 603.59 590.33 605.31 586.4 606.72 582.41 607.82 578.38 608.6 574.32Z" fill="#cc9a20"/><path d="M491.6 544.4 608.6 552.32 607.82 556.38 606.72 560.41 605.31 564.4 603.59 568.33 601.56 572.2 599.23 575.99 596.61 579.69 593.71 583.3 590.52 586.8 587.06 590.18 583.35 593.44 579.38 596.57 575.18 599.56 570.74 602.39 566.09 605.07 561.24 607.58 556.2 609.91 550.98 612.07 545.6 614.05 540.07 615.83 534.41 617.42 528.63 618.81 522.75 620 516.79 620.98 510.76 621.75 504.67 622.31 498.55 622.66 492.41 622.8 486.27 622.72 480.14 622.43 474.05 621.92 468 621.21 462.02 620.28 456.11 619.15 450.31 617.81 444.62 616.27 439.05 614.54 433.63 612.61 428.37 610.5 423.27 608.21 418.37 605.74 413.67 603.11 409.17 600.32Z" fill="#ffc125"/>
<text x="380.52" y="553.7" font-family="Carlito, 'Liberation Sans', sans-serif" font-size="41.5" font-weight="bold" textLength="47.07" lengthAdjust="spacingAndGlyphs">H7</text>
<text x="481.31" y="595.3" font-family="Carlito, 'Liberation Sans', sans-serif" font-size="41.5" font-weight="bold" textLength="47.22" lengthAdjust="spacingAndGlyphs">H4</text>
<path d="M758 541 L719.71 615.13 L719.71 638.13 L758 564Z" fill="#cfb592"/><path d="M758 541 L871.04 519.39 L871.04 542.39 L758 564Z" fill="#cfb592"/><path d="M719.71 614.93 714.03 613.51 708.46 611.9 703.02 610.1 697.73 608.12 692.59 605.96 687.64 603.62 682.87 601.11 678.3 598.45 673.94 595.63 669.81 592.66 665.91 589.56 662.26 586.33 658.86 582.97 655.73 579.51 652.87 575.93 650.29 572.27 648 568.52 646 564.7 644.3 560.82 642.9 556.88 641.81 552.9 641.03 548.88 640.56 544.85 640.4 540.8 640.4 564 640.56 568.05 641.03 572.08 641.81 576.1 642.9 580.08 644.3 584.02 646 587.9 648 591.72 650.29 595.47 652.87 599.13 655.73 602.71 658.86 606.17 662.26 609.53 665.91 612.76 669.81 615.86 673.94 618.83 678.3 621.65 682.87 624.31 687.64 626.82 692.59 629.16 697.73 631.32 703.02 633.3 708.46 635.1 714.03 636.71 719.71 638.13Z" fill="#cfb592"/><path d="M758 542 719.71 616.13 713.99 614.7 708.39 613.08 702.93 611.27 697.61 609.27 692.45 607.09 687.48 604.74 682.69 602.21 678.1 599.53 673.73 596.69 669.59 593.7 665.68 590.57 662.03 587.31 658.63 583.93 655.5 580.43 652.65 576.83 650.08 573.14 647.8 569.37 645.82 565.52 644.14 561.6 642.76 557.64 641.7 553.63 640.95 549.59 640.52 545.53 640.4 541.46 640.6 537.4 641.12 533.34 641.95 529.31 643.1 525.31 644.55 521.36 646.31 517.46 648.37 513.63 650.73 509.87 653.37 506.21 656.3 502.64 659.5 499.17 662.97 495.82 666.69 492.59 670.66 489.5 674.86 486.55 679.29 483.75 683.93 481.1 688.77 478.62 693.8 476.31 699 474.18 704.36 472.23 709.86 470.47 715.49 468.9 721.24 467.53 727.09 466.36 733.02 465.39 739.01 464.63 745.06 464.08 751.14 463.73 757.25 463.6 763.35 463.68 769.44 463.97 775.5 464.47 781.51 465.18 787.46 466.1 793.33 467.22 799.1 468.54 804.76 470.06 810.3 471.78 815.69 473.68 820.93 475.77 826 478.04 830.89 480.48 835.58 483.08 840.06 485.84 844.33 488.76 848.35 491.82 852.14 495.01 855.67 498.33 858.94 501.77 861.93 505.32 864.65 508.96 867.08 512.7 869.21 516.51 871.04 520.39Z" fill="#ffe4b5"/><path d="M777.2 542.8 890.24 521.19 891.05 523.17 891.79 525.16Z" fill="#ff82ab"/><path d="M777.2 542.8 891.79 525.16 892.56 527.57 893.22 530Z" fill="#7f7f7f"/><path d="M777.2 542.8 893.22 530 893.98 533.59 894.5 537.19Z" fill="#00ffff"/><path d="M777.2 542.8 894.5 537.19 894.72 540 894.8 542.8Z" fill="#2e8b57"/><path d="M775.2 541.8 L888.9 561.83 L888.9 584.83 L775.2 564.8Z" fill="#7a28cc"/><path d="M892.8 541.6 892.64 545.65 892.17 549.69 891.39 553.7 890.3 557.69 888.9 561.63 888.9 584.83 890.3 580.89 891.39 576.9 892.17 572.89 892.64 568.85 892.8 564.8Z" fill="#7a28cc"/><path d="M775.2 542.8 892.8 542.8 892.64 546.85 892.17 550.89 891.39 554.9 890.3 558.89 888.9 562.83Z" fill="#9b30ff"/><path d="M884.5 563.23 882.78 567.15 880.75 571.02 878.42 574.8 875.8 578.5 872.9 582.11 869.72 585.6 866.26 588.99 862.55 592.24 858.59 595.37 854.39 598.35 849.96 601.18 845.31 603.86 840.46 606.36 835.43 608.7 830.21 610.86 824.84 612.83 819.31 614.62 813.66 616.21 807.89 617.6 802.02 618.79 796.06 619.77 790.03 620.54 783.95 621.11 777.84 621.46 771.71 621.6 765.57 621.52 759.45 621.23 753.36 620.73 747.32 620.02 741.34 619.1 735.44 617.97 735.44 641.17 741.34 642.3 747.32 643.22 753.36 643.93 759.45 644.43 765.57 644.72 771.71 644.8 777.84 644.66 783.95 644.31 790.03 643.74 796.06 642.97 802.02 641.99 807.89 640.8 813.66 639.41 819.31 637.82 824.84 636.03 830.21 634.06 835.43 631.9 840.46 629.56 845.31 627.06 849.96 624.38 854.39 621.55 858.59 618.57 862.55 615.44 866.26 612.19 869.72 608.8 872.9 605.31 875.8 601.7 878.42 598 880.75 594.22 882.78 590.35 884.5 586.43Z" fill="#cc9a20"/><path d="M770.8 544.4 884.5 564.43 882.78 568.35 880.75 572.22 878.42 576 875.8 579.7 872.9 583.31 869.72 586.8 866.26 590.19 862.55 593.44 858.59 596.57 854.39 599.55 849.96 602.38 845.31 605.06 840.46 607.56 835.43 609.9 830.21 612.06 824.84 614.03 819.31 615.82 813.66 617.41 807.89 618.8 802.02 619.99 796.06 620.97 790.03 621.74 783.95 622.31 777.84 622.66 771.71 622.8 765.57 622.72 759.45 622.43 753.36 621.93 747.32 621.22 741.34 620.3 735.44 619.17Z" fill="#ffc125"/>
<text x="683.68" y="529.2" font-family="Carlito, 'Liberation Sans', sans-serif" font-size="41.5" font-weight="bold" textLength="47.94" lengthAdjust="spacingAndGlyphs">H7</text>
<text x="774.57" y="596.9" font-family="Carlito, 'Liberation Sans', sans-serif" font-size="41.5" font-weight="bold" textLength="48.07" lengthAdjust="spacingAndGlyphs">H4</text>
<text x="84.86" y="711.1" font-family="Carlito, 'Liberation Sans', sans-serif" font-size="42.3" font-weight="bold" textLength="176.01" lengthAdjust="spacingAndGlyphs">cultivated</text>
<text x="445.38" y="711.1" font-family="Carlito, 'Liberation Sans', sans-serif" font-size="42.3" font-weight="bold" textLength="82.12" lengthAdjust="spacingAndGlyphs">feral</text>
<text x="687.26" y="711.1" font-family="Carlito, 'Liberation Sans', sans-serif" font-size="42.3" font-weight="bold" font-style="italic" textLength="159.69" lengthAdjust="spacingAndGlyphs">sylvestris</text>
<text x="1061.7" y="405.5" font-family="Carlito, 'Liberation Sans', sans-serif" font-size="44" font-weight="bold" textLength="612.87" lengthAdjust="spacingAndGlyphs">Genotype frequency (cultivated)</text>
<line x1="1007.4" y1="425.8" x2="1007.4" y2="562.7" stroke="#000" stroke-width="1.4"/>
<line x1="1004.2" y1="562.2" x2="1007.4" y2="562.2" stroke="#000" stroke-width="1.4"/>
<text x="965.75" y="571.4" font-family="Carlito, 'Liberation Sans', sans-serif" font-size="29" font-weight="bold" textLength="37.14" lengthAdjust="spacingAndGlyphs">0.0</text>
<line x1="1004.2" y1="539.55" x2="1007.4" y2="539.55" stroke="#000" stroke-width="1.4"/>
<text x="966.25" y="548.75" font-family="Carlito, 'Liberation Sans', sans-serif" font-size="29" font-weight="bold" textLength="37.14" lengthAdjust="spacingAndGlyphs">0.1</text>
<line x1="1004.2" y1="516.9" x2="1007.4" y2="516.9" stroke="#000" stroke-width="1.4"/>
<text x="966.16" y="526.1" font-family="Carlito, 'Liberation Sans', sans-serif" font-size="29" font-weight="bold" textLength="37.14" lengthAdjust="spacingAndGlyphs">0.2</text>
<line x1="1004.2" y1="494.25" x2="1007.4" y2="494.25" stroke="#000" stroke-width="1.4"/>
<text x="965.97" y="503.45" font-family="Carlito, 'Liberation Sans', sans-serif" font-size="29" font-weight="bold" textLength="37.14" lengthAdjust="spacingAndGlyphs">0.3</text>
<line x1="1004.2" y1="471.6" x2="1007.4" y2="471.6" stroke="#000" stroke-width="1.4"/>
<text x="965.6" y="480.8" font-family="Carlito, 'Liberation Sans', sans-serif" font-size="29" font-weight="bold" textLength="37.14" lengthAdjust="spacingAndGlyphs">0.4</text>
<line x1="1004.2" y1="448.95" x2="1007.4" y2="448.95" stroke="#000" stroke-width="1.4"/>
<text x="966.63" y="458.15" font-family="Carlito, 'Liberation Sans', sans-serif" font-size="29" font-weight="bold" textLength="37.14" lengthAdjust="spacingAndGlyphs">0.5</text>
<line x1="1004.2" y1="426.3" x2="1007.4" y2="426.3" stroke="#000" stroke-width="1.4"/>
<text x="965.8" y="435.5" font-family="Carlito, 'Liberation Sans', sans-serif" font-size="29" font-weight="bold" textLength="37.14" lengthAdjust="spacingAndGlyphs">0.6</text>
<rect x="1035.7" y="436.18" width="25.8" height="126.32" fill="#000"/>
<text x="1037.1" y="429.88" font-family="Carlito, 'Liberation Sans', sans-serif" font-size="22.4" textLength="22.71" lengthAdjust="spacingAndGlyphs">67</text>
<rect x="1066.15" y="557.86" width="25.8" height="4.64" fill="#000"/>
<text x="1073.35" y="554.06" font-family="Carlito, 'Liberation Sans', sans-serif" font-size="22.4" textLength="11.35" lengthAdjust="spacingAndGlyphs">2</text>
<rect x="1096.6" y="554.11" width="25.8" height="8.39" fill="#000"/>
<text x="1103.82" y="550.31" font-family="Carlito, 'Liberation Sans', sans-serif" font-size="22.4" textLength="11.35" lengthAdjust="spacingAndGlyphs">4</text>
<rect x="1127.05" y="552.24" width="25.8" height="10.26" fill="#000"/>
<text x="1134.43" y="548.44" font-family="Carlito, 'Liberation Sans', sans-serif" font-size="22.4" textLength="11.35" lengthAdjust="spacingAndGlyphs">5</text>
<rect x="1157.5" y="546.62" width="25.8" height="15.88" fill="#000"/>
<text x="1164.72" y="542.82" font-family="Carlito, 'Liberation Sans', sans-serif" font-size="22.4" textLength="11.35" lengthAdjust="spacingAndGlyphs">8</text>
<rect x="1187.95" y="555.98" width="25.8" height="6.52" fill="#000"/>
<text x="1195.08" y="552.18" font-family="Carlito, 'Liberation Sans', sans-serif" font-size="22.4" textLength="11.35" lengthAdjust="spacingAndGlyphs">3</text>
<rect x="1218.4" y="555.98" width="25.8" height="6.52" fill="#000"/>
<text x="1225.53" y="552.18" font-family="Carlito, 'Liberation Sans', sans-serif" font-size="22.4" textLength="11.35" lengthAdjust="spacingAndGlyphs">3</text>
<rect x="1248.85" y="557.86" width="25.8" height="4.64" fill="#000"/>
<text x="1256.05" y="554.06" font-family="Carlito, 'Liberation Sans', sans-serif" font-size="22.4" textLength="11.35" lengthAdjust="spacingAndGlyphs">2</text>
<rect x="1279.3" y="557.86" width="25.8" height="4.64" fill="#000"/>
<text x="1286.5" y="554.06" font-family="Carlito, 'Liberation Sans', sans-serif" font-size="22.4" textLength="11.35" lengthAdjust="spacingAndGlyphs">2</text>
<rect x="1309.75" y="554.11" width="25.8" height="8.39" fill="#000"/>
<text x="1316.97" y="550.31" font-family="Carlito, 'Liberation Sans', sans-serif" font-size="22.4" textLength="11.35" lengthAdjust="spacingAndGlyphs">4</text>
<rect x="1340.2" y="550.37" width="25.8" height="12.13" fill="#000"/>
<text x="1347.31" y="546.57" font-family="Carlito, 'Liberation Sans', sans-serif" font-size="22.4" textLength="11.35" lengthAdjust="spacingAndGlyphs">6</text>
<rect x="1370.65" y="555.98" width="25.8" height="6.52" fill="#000"/>
<text x="1377.78" y="552.18" font-family="Carlito, 'Liberation Sans', sans-serif" font-size="22.4" textLength="11.35" lengthAdjust="spacingAndGlyphs">3</text>
<rect x="1401.1" y="557.86" width="25.8" height="4.64" fill="#000"/>
<text x="1408.3" y="554.06" font-family="Carlito, 'Liberation Sans', sans-serif" font-size="22.4" textLength="11.35" lengthAdjust="spacingAndGlyphs">2</text>
<rect x="1431.55" y="559.73" width="25.8" height="2.77" fill="#000"/>
<text x="1438.31" y="553.9" font-family="Carlito, 'Liberation Sans', sans-serif" font-size="22.4" textLength="11.35" lengthAdjust="spacingAndGlyphs">1</text>
<rect x="1462" y="559.73" width="25.8" height="2.77" fill="#000"/>
<text x="1468.76" y="553.9" font-family="Carlito, 'Liberation Sans', sans-serif" font-size="22.4" textLength="11.35" lengthAdjust="spacingAndGlyphs">1</text>
<rect x="1492.45" y="559.73" width="25.8" height="2.77" fill="#000"/>
<text x="1499.21" y="553.9" font-family="Carlito, 'Liberation Sans', sans-serif" font-size="22.4" textLength="11.35" lengthAdjust="spacingAndGlyphs">1</text>
<rect x="1522.9" y="559.73" width="25.8" height="2.77" fill="#000"/>
<text x="1529.66" y="553.9" font-family="Carlito, 'Liberation Sans', sans-serif" font-size="22.4" textLength="11.35" lengthAdjust="spacingAndGlyphs">1</text>
<rect x="1553.35" y="559.73" width="25.8" height="2.77" fill="#000"/>
<text x="1560.11" y="553.9" font-family="Carlito, 'Liberation Sans', sans-serif" font-size="22.4" textLength="11.35" lengthAdjust="spacingAndGlyphs">1</text>
<rect x="1583.8" y="559.73" width="25.8" height="2.77" fill="#000"/>
<text x="1590.56" y="553.9" font-family="Carlito, 'Liberation Sans', sans-serif" font-size="22.4" textLength="11.35" lengthAdjust="spacingAndGlyphs">1</text>
<rect x="1614.25" y="559.73" width="25.8" height="2.77" fill="#000"/>
<text x="1621.01" y="553.9" font-family="Carlito, 'Liberation Sans', sans-serif" font-size="22.4" textLength="11.35" lengthAdjust="spacingAndGlyphs">1</text>
<rect x="1644.7" y="559.73" width="25.8" height="2.77" fill="#000"/>
<text x="1651.46" y="553.9" font-family="Carlito, 'Liberation Sans', sans-serif" font-size="22.4" textLength="11.35" lengthAdjust="spacingAndGlyphs">1</text>
<rect x="1675.15" y="559.73" width="25.8" height="2.77" fill="#000"/>
<text x="1681.91" y="553.9" font-family="Carlito, 'Liberation Sans', sans-serif" font-size="22.4" textLength="11.35" lengthAdjust="spacingAndGlyphs">1</text>
<rect x="1705.6" y="559.73" width="25.8" height="2.77" fill="#000"/>
<text x="1712.36" y="553.9" font-family="Carlito, 'Liberation Sans', sans-serif" font-size="22.4" textLength="11.35" lengthAdjust="spacingAndGlyphs">1</text>
<rect x="1005.4" y="577.1" width="26" height="172.2" rx="1.5" fill="#fff" stroke="#222" stroke-width="1.4"/><line x1="1005.4" y1="662.9" x2="1031.4" y2="662.9" stroke="#222" stroke-width="1.4"/>
<text stroke="#000" stroke-width="0.35" transform="translate(1025.28 642.44) rotate(-90)" font-family="'Liberation Sans', Arial, sans-serif" font-size="20" textLength="44.49" lengthAdjust="spacingAndGlyphs">hap2</text>
<text stroke="#000" stroke-width="0.35" transform="translate(1025.28 728.45) rotate(-90)" font-family="'Liberation Sans', Arial, sans-serif" font-size="20" textLength="44.49" lengthAdjust="spacingAndGlyphs">hap1</text>
<rect x="1036.1" y="661.9" width="25.3" height="86.7" fill="#2e8b57"/>
<rect x="1036.1" y="577.5" width="25.3" height="85.4" fill="#2e8b57"/>
<text transform="translate(1055.63 643.74) rotate(-90)" font-family="'Liberation Sans', Arial, sans-serif" font-size="20" font-weight="bold" textLength="46.67" lengthAdjust="spacingAndGlyphs">H1-A</text>
<text transform="translate(1055.63 729.44) rotate(-90)" font-family="'Liberation Sans', Arial, sans-serif" font-size="20" font-weight="bold" textLength="46.67" lengthAdjust="spacingAndGlyphs">H1-A</text>
<rect x="1066.55" y="661.9" width="25.3" height="86.7" fill="#2e8b57"/>
<rect x="1066.55" y="577.5" width="25.3" height="85.4" fill="#00ffff"/>
<text transform="translate(1086.08 643.06) rotate(-90)" font-family="'Liberation Sans', Arial, sans-serif" font-size="20" font-weight="bold" textLength="45.57" lengthAdjust="spacingAndGlyphs">H1-E</text>
<text transform="translate(1086.08 729.44) rotate(-90)" font-family="'Liberation Sans', Arial, sans-serif" font-size="20" font-weight="bold" textLength="46.67" lengthAdjust="spacingAndGlyphs">H1-A</text>
<rect x="1097" y="661.9" width="25.3" height="86.7" fill="#2e8b57"/>
<rect x="1097" y="577.5" width="25.3" height="85.4" fill="#add8e6"/>
<text transform="translate(1116.53 642.52) rotate(-90)" font-family="'Liberation Sans', Arial, sans-serif" font-size="20" font-weight="bold" textLength="44.44" lengthAdjust="spacingAndGlyphs">H1-F</text>
<text transform="translate(1116.53 729.44) rotate(-90)" font-family="'Liberation Sans', Arial, sans-serif" font-size="20" font-weight="bold" textLength="46.67" lengthAdjust="spacingAndGlyphs">H1-A</text>
<rect x="1127.45" y="661.9" width="25.3" height="86.7" fill="#2e8b57"/>
<rect x="1127.45" y="577.5" width="25.3" height="85.4" fill="#ff69b4"/>
<text transform="translate(1146.98 643.94) rotate(-90)" font-family="'Liberation Sans', Arial, sans-serif" font-size="20" font-weight="bold" textLength="47.78" lengthAdjust="spacingAndGlyphs">H1-G</text>
<text transform="translate(1146.98 729.44) rotate(-90)" font-family="'Liberation Sans', Arial, sans-serif" font-size="20" font-weight="bold" textLength="46.67" lengthAdjust="spacingAndGlyphs">H1-A</text>
<rect x="1157.9" y="661.9" width="25.3" height="86.7" fill="#2e8b57"/>
<rect x="1157.9" y="577.5" width="25.3" height="85.4" fill="#ee2c2c"/>
<text transform="translate(1177.43 643.74) rotate(-90)" font-family="'Liberation Sans', Arial, sans-serif" font-size="20" font-weight="bold" textLength="46.67" lengthAdjust="spacingAndGlyphs">H2-A</text>
<text transform="translate(1177.43 729.44) rotate(-90)" font-family="'Liberation Sans', Arial, sans-serif" font-size="20" font-weight="bold" textLength="46.67" lengthAdjust="spacingAndGlyphs">H1-A</text>
<rect x="1188.35" y="661.9" width="25.3" height="86.7" fill="#2e8b57"/>
<rect x="1188.35" y="577.5" width="25.3" height="85.4" fill="#cd5cf0"/>
<text transform="translate(1207.88 643.73) rotate(-90)" font-family="'Liberation Sans', Arial, sans-serif" font-size="20" font-weight="bold" textLength="46.67" lengthAdjust="spacingAndGlyphs">H2-C</text>
<text transform="translate(1207.88 729.44) rotate(-90)" font-family="'Liberation Sans', Arial, sans-serif" font-size="20" font-weight="bold" textLength="46.67" lengthAdjust="spacingAndGlyphs">H1-A</text>
<rect x="1218.8" y="661.9" width="25.3" height="86.7" fill="#2e8b57"/>
<rect x="1218.8" y="577.5" width="25.3" height="85.4" fill="#8b4513"/>
<text transform="translate(1238.33 633.09) rotate(-90)" font-family="'Liberation Sans', Arial, sans-serif" font-size="20" font-weight="bold" textLength="25.57" lengthAdjust="spacingAndGlyphs">H3</text>
<text transform="translate(1238.33 729.44) rotate(-90)" font-family="'Liberation Sans', Arial, sans-serif" font-size="20" font-weight="bold" textLength="46.67" lengthAdjust="spacingAndGlyphs">H1-A</text>
<rect x="1249.25" y="661.9" width="25.3" height="86.7" fill="#2e8b57"/>
<rect x="1249.25" y="577.5" width="25.3" height="85.4" fill="#ffc125"/>
<text transform="translate(1268.78 633.4) rotate(-90)" font-family="'Liberation Sans', Arial, sans-serif" font-size="20" font-weight="bold" textLength="25.57" lengthAdjust="spacingAndGlyphs">H4</text>
<text transform="translate(1268.78 729.44) rotate(-90)" font-family="'Liberation Sans', Arial, sans-serif" font-size="20" font-weight="bold" textLength="46.67" lengthAdjust="spacingAndGlyphs">H1-A</text>
<rect x="1279.7" y="661.9" width="25.3" height="86.7" fill="#2e8b57"/>
<rect x="1279.7" y="577.5" width="25.3" height="85.4" fill="#1874cd"/>
<text transform="translate(1299.23 633.17) rotate(-90)" font-family="'Liberation Sans', Arial, sans-serif" font-size="20" font-weight="bold" textLength="25.57" lengthAdjust="spacingAndGlyphs">H5</text>
<text transform="translate(1299.23 729.44) rotate(-90)" font-family="'Liberation Sans', Arial, sans-serif" font-size="20" font-weight="bold" textLength="46.67" lengthAdjust="spacingAndGlyphs">H1-A</text>
<rect x="1310.15" y="661.9" width="25.3" height="86.7" fill="#2e8b57"/>
<rect x="1310.15" y="577.5" width="25.3" height="85.4" fill="#ff7f24"/>
<text transform="translate(1329.68 633.09) rotate(-90)" font-family="'Liberation Sans', Arial, sans-serif" font-size="20" font-weight="bold" textLength="25.57" lengthAdjust="spacingAndGlyphs">H6</text>
<text transform="translate(1329.68 729.44) rotate(-90)" font-family="'Liberation Sans', Arial, sans-serif" font-size="20" font-weight="bold" textLength="46.67" lengthAdjust="spacingAndGlyphs">H1-A</text>
<rect x="1340.6" y="661.9" width="25.3" height="86.7" fill="#2e8b57"/>
<rect x="1340.6" y="577.5" width="25.3" height="85.4" fill="#ffe4b5"/>
<text transform="translate(1360.13 633.01) rotate(-90)" font-family="'Liberation Sans', Arial, sans-serif" font-size="20" font-weight="bold" textLength="25.57" lengthAdjust="spacingAndGlyphs">H7</text>
<text transform="translate(1360.13 729.44) rotate(-90)" font-family="'Liberation Sans', Arial, sans-serif" font-size="20" font-weight="bold" textLength="46.67" lengthAdjust="spacingAndGlyphs">H1-A</text>
<rect x="1371.05" y="661.9" width="25.3" height="86.7" fill="#2e8b57"/>
<rect x="1371.05" y="577.5" width="25.3" height="85.4" fill="#ffff00"/>
<text transform="translate(1390.58 633.14) rotate(-90)" font-family="'Liberation Sans', Arial, sans-serif" font-size="20" font-weight="bold" textLength="25.57" lengthAdjust="spacingAndGlyphs">H8</text>
<text transform="translate(1390.58 729.44) rotate(-90)" font-family="'Liberation Sans', Arial, sans-serif" font-size="20" font-weight="bold" textLength="46.67" lengthAdjust="spacingAndGlyphs">H1-A</text>
<rect x="1401.5" y="661.9" width="25.3" height="86.7" fill="#2e8b57"/>
<rect x="1401.5" y="577.5" width="25.3" height="85.4" fill="#ff82ab"/>
<text transform="translate(1421.03 638.6) rotate(-90)" font-family="'Liberation Sans', Arial, sans-serif" font-size="20" font-weight="bold" textLength="36.69" lengthAdjust="spacingAndGlyphs">H10</text>
<text transform="translate(1421.03 729.44) rotate(-90)" font-family="'Liberation Sans', Arial, sans-serif" font-size="20" font-weight="bold" textLength="46.67" lengthAdjust="spacingAndGlyphs">H1-A</text>
<rect x="1431.95" y="661.9" width="25.3" height="86.7" fill="#2e8b57"/>
<rect x="1431.95" y="577.5" width="25.3" height="85.4" fill="#d9d9d9"/>
<text transform="translate(1451.48 634.05) rotate(-90)" font-family="'Liberation Sans', Arial, sans-serif" font-size="20" font-weight="bold" textLength="27.78" lengthAdjust="spacingAndGlyphs">AX</text>
<text transform="translate(1451.48 729.44) rotate(-90)" font-family="'Liberation Sans', Arial, sans-serif" font-size="20" font-weight="bold" textLength="46.67" lengthAdjust="spacingAndGlyphs">H1-A</text>
<rect x="1462.4" y="661.9" width="25.3" height="86.7" fill="#2e8b57"/>
<rect x="1462.4" y="577.5" width="25.3" height="85.4" fill="#7f7f7f"/>
<text transform="translate(1481.93 635.6) rotate(-90)" font-family="'Liberation Sans', Arial, sans-serif" font-size="20" font-weight="bold" textLength="30" lengthAdjust="spacingAndGlyphs">MV</text>
<text transform="translate(1481.93 729.44) rotate(-90)" font-family="'Liberation Sans', Arial, sans-serif" font-size="20" font-weight="bold" textLength="46.67" lengthAdjust="spacingAndGlyphs">H1-A</text>
<rect x="1492.85" y="661.9" width="25.3" height="86.7" fill="#2e8b57"/>
<rect x="1492.85" y="577.5" width="25.3" height="85.4" fill="#a9a9a9"/>
<text transform="translate(1512.38 633.35) rotate(-90)" font-family="'Liberation Sans', Arial, sans-serif" font-size="20" font-weight="bold" textLength="26.66" lengthAdjust="spacingAndGlyphs">TK</text>
<text transform="translate(1512.38 729.44) rotate(-90)" font-family="'Liberation Sans', Arial, sans-serif" font-size="20" font-weight="bold" textLength="46.67" lengthAdjust="spacingAndGlyphs">H1-A</text>
<rect x="1523.3" y="661.9" width="25.3" height="86.7" fill="#2e8b57"/>
<rect x="1523.3" y="619.4" width="25.3" height="43.5" fill="#2e8b57"/>
<rect x="1523.3" y="577.5" width="25.3" height="42.7" fill="#00ffff"/>
<text transform="translate(1541.56 617.95) rotate(-90)" font-family="'Liberation Sans', Arial, sans-serif" font-size="16.3" font-weight="bold" textLength="37.14" lengthAdjust="spacingAndGlyphs">H1-E</text>
<text transform="translate(1541.56 661.2) rotate(-90)" font-family="'Liberation Sans', Arial, sans-serif" font-size="16.3" font-weight="bold" textLength="38.04" lengthAdjust="spacingAndGlyphs">H1-A</text>
<text transform="translate(1542.83 729.44) rotate(-90)" font-family="'Liberation Sans', Arial, sans-serif" font-size="20" font-weight="bold" textLength="46.67" lengthAdjust="spacingAndGlyphs">H1-A</text>
<rect x="1553.75" y="661.9" width="25.3" height="86.7" fill="#2e8b57"/>
<rect x="1553.75" y="619.4" width="25.3" height="43.5" fill="#cd5c5c"/>
<rect x="1553.75" y="577.5" width="25.3" height="42.7" fill="#ffc125"/>
<text transform="translate(1572.01 610.07) rotate(-90)" font-family="'Liberation Sans', Arial, sans-serif" font-size="16.3" font-weight="bold" textLength="20.84" lengthAdjust="spacingAndGlyphs">H4</text>
<text transform="translate(1572.01 652.51) rotate(-90)" font-family="'Liberation Sans', Arial, sans-serif" font-size="16.3" font-weight="bold" textLength="20.84" lengthAdjust="spacingAndGlyphs">H9</text>
<text transform="translate(1573.28 729.44) rotate(-90)" font-family="'Liberation Sans', Arial, sans-serif" font-size="20" font-weight="bold" textLength="46.67" lengthAdjust="spacingAndGlyphs">H1-A</text>
<rect x="1584.2" y="661.9" width="25.3" height="86.7" fill="#00ffff"/>
<rect x="1584.2" y="577.5" width="25.3" height="85.4" fill="#ee2c2c"/>
<text transform="translate(1603.73 643.74) rotate(-90)" font-family="'Liberation Sans', Arial, sans-serif" font-size="20" font-weight="bold" textLength="46.67" lengthAdjust="spacingAndGlyphs">H2-A</text>
<text transform="translate(1603.73 728.76) rotate(-90)" font-family="'Liberation Sans', Arial, sans-serif" font-size="20" font-weight="bold" textLength="45.57" lengthAdjust="spacingAndGlyphs">H1-E</text>
<rect x="1614.65" y="661.9" width="25.3" height="86.7" fill="#00ffff"/>
<rect x="1614.65" y="577.5" width="25.3" height="85.4" fill="#ffe4b5"/>
<text transform="translate(1634.18 633.01) rotate(-90)" font-family="'Liberation Sans', Arial, sans-serif" font-size="20" font-weight="bold" textLength="25.57" lengthAdjust="spacingAndGlyphs">H7</text>
<text transform="translate(1634.18 728.76) rotate(-90)" font-family="'Liberation Sans', Arial, sans-serif" font-size="20" font-weight="bold" textLength="45.57" lengthAdjust="spacingAndGlyphs">H1-E</text>
<rect x="1645.1" y="661.9" width="25.3" height="86.7" fill="#add8e6"/>
<rect x="1645.1" y="619.4" width="25.3" height="43.5" fill="#2e8b57"/>
<rect x="1645.1" y="577.5" width="25.3" height="42.7" fill="#00ffff"/>
<text transform="translate(1663.36 617.95) rotate(-90)" font-family="'Liberation Sans', Arial, sans-serif" font-size="16.3" font-weight="bold" textLength="37.14" lengthAdjust="spacingAndGlyphs">H1-E</text>
<text transform="translate(1663.36 661.2) rotate(-90)" font-family="'Liberation Sans', Arial, sans-serif" font-size="16.3" font-weight="bold" textLength="38.04" lengthAdjust="spacingAndGlyphs">H1-A</text>
<text transform="translate(1664.63 728.22) rotate(-90)" font-family="'Liberation Sans', Arial, sans-serif" font-size="20" font-weight="bold" textLength="44.44" lengthAdjust="spacingAndGlyphs">H1-F</text>
<rect x="1675.55" y="661.9" width="25.3" height="86.7" fill="#add8e6"/>
<rect x="1675.55" y="577.5" width="25.3" height="85.4" fill="#ee2c2c"/>
<text transform="translate(1695.08 643.74) rotate(-90)" font-family="'Liberation Sans', Arial, sans-serif" font-size="20" font-weight="bold" textLength="46.67" lengthAdjust="spacingAndGlyphs">H2-A</text>
<text transform="translate(1695.08 728.22) rotate(-90)" font-family="'Liberation Sans', Arial, sans-serif" font-size="20" font-weight="bold" textLength="44.44" lengthAdjust="spacingAndGlyphs">H1-F</text>
<rect x="1706" y="661.9" width="25.3" height="86.7" fill="#ffe4b5"/>
<rect x="1706" y="577.5" width="25.3" height="85.4" fill="#ffe4b5"/>
<text transform="translate(1725.53 633.01) rotate(-90)" font-family="'Liberation Sans', Arial, sans-serif" font-size="20" font-weight="bold" textLength="25.57" lengthAdjust="spacingAndGlyphs">H7</text>
<text transform="translate(1725.53 718.71) rotate(-90)" font-family="'Liberation Sans', Arial, sans-serif" font-size="20" font-weight="bold" textLength="25.57" lengthAdjust="spacingAndGlyphs">H7</text>
<text x="57.9" y="818.2" font-family="Carlito, 'Liberation Sans', sans-serif" font-size="24.7" textLength="164.17" lengthAdjust="spacingAndGlyphs" stroke="#000" stroke-width="0.55">Tree scale: 0.01</text>
<line x1="235.5" y1="810.8" x2="298.4" y2="810.8" stroke="#000" stroke-width="4.5"/>
<line x1="235.3" y1="804.1" x2="235.3" y2="817.5" stroke="#000" stroke-width="1.5"/>
<line x1="298.6" y1="804.1" x2="298.6" y2="817.5" stroke="#000" stroke-width="1.5"/>
<line x1="267" y1="810" x2="267" y2="816.7" stroke="#000" stroke-width="1.2"/>
<path d="M818.1 781H830M818.1 882.5H830M818.1 933.6H830M818.1 984.4H830M818.1 1035.3H830M818.1 1086.3H830M798.3 1137H830M777.3 1188.5H830M245.2 1238.4H830M340.4 1289.4H830M561.2 1339.9H830M602.2 1390.9H830M678.4 1441.8H830M719.5 1493.4H830M675.3 1544.4H830M715.8 1594.9H830M755.2 1645.9H830" stroke="#c8c8c8" stroke-width="1.3" stroke-dasharray="4 7" fill="none"/>
<path d="M55 1149.4V1368.8M86.6 1059.4V1238.4M771.3 955.6V1188.5M812.1 778.2V1088.6M173.5 1289.4V1447.1M333.3 1365.6V1528.6M555.2 1337.5V1390.9M368 1467.1V1589.6M672.4 1439V1493.4M649.3 1544.4V1633.8M668.8 1594.9V1671.1M729.7 1645.9V1696.9" stroke="#000" stroke-width="3.2" stroke-linecap="square" fill="none"/>
<path d="M53.4 1149.4H88.2M85 1059.4H772.9M769.7 955.6H813.7M53.4 1368.8H175.1M171.9 1447.1H334.9M331.7 1365.6H556.8M331.7 1528.6H369.6M366.4 1467.1H674M366.4 1589.6H650.9M647.7 1633.8H670.4M667.2 1671.1H731.3M85 1238.4H90.6M769.7 1137H775.3M810.5 831.7H816.1M171.9 1289.4H177.5M553.6 1390.9H559.2M670.8 1493.4H676.4M647.7 1544.4H653.3M667.2 1594.9H672.8M728.1 1645.9H733.7M728.1 1696.9H733.7" stroke="#000" stroke-width="6.2" stroke-linecap="butt" fill="none"/>
<path d="M88.1 1238.4H239.2M772.8 1137H792.3M813.6 831.7H832.4M175 1289.4H334.4M556.7 1390.9H596.2M673.9 1493.4H713.5M650.8 1544.4H669.3M670.3 1594.9H709.8M731.2 1645.9H749.2M731.2 1696.9H833.3" stroke="#000" stroke-width="6.2" stroke-linecap="round" fill="none"/>
<text x="32.06" y="1131.3" font-family="Carlito, 'Liberation Sans', sans-serif" font-size="24" font-weight="bold" fill="#ff0000" textLength="42.9" lengthAdjust="spacingAndGlyphs">0.58</text>
<text x="386.87" y="1053.5" font-family="Carlito, 'Liberation Sans', sans-serif" font-size="24" font-weight="bold" fill="#ff0000" textLength="12.16" lengthAdjust="spacingAndGlyphs">1</text>
<text x="720.25" y="1172.8" font-family="Carlito, 'Liberation Sans', sans-serif" font-size="24" font-weight="bold" fill="#ff0000" textLength="42.9" lengthAdjust="spacingAndGlyphs">0.80</text>
<text x="93.26" y="1363.5" font-family="Carlito, 'Liberation Sans', sans-serif" font-size="24" font-weight="bold" fill="#ff0000" textLength="42.9" lengthAdjust="spacingAndGlyphs">0.58</text>
<text x="225.64" y="1443.5" font-family="Carlito, 'Liberation Sans', sans-serif" font-size="24" font-weight="bold" fill="#ff0000" textLength="42.9" lengthAdjust="spacingAndGlyphs">0.63</text>
<text x="426.64" y="1359.4" font-family="Carlito, 'Liberation Sans', sans-serif" font-size="24" font-weight="bold" fill="#ff0000" textLength="42.9" lengthAdjust="spacingAndGlyphs">0.73</text>
<text x="301.86" y="1562" font-family="Carlito, 'Liberation Sans', sans-serif" font-size="24" font-weight="bold" fill="#ff0000" textLength="42.9" lengthAdjust="spacingAndGlyphs">0.99</text>
<text x="518.27" y="1462" font-family="Carlito, 'Liberation Sans', sans-serif" font-size="24" font-weight="bold" fill="#ff0000" textLength="12.16" lengthAdjust="spacingAndGlyphs">1</text>
<text x="494.07" y="1579" font-family="Carlito, 'Liberation Sans', sans-serif" font-size="24" font-weight="bold" fill="#ff0000" textLength="12.16" lengthAdjust="spacingAndGlyphs">1</text>
<text x="617.46" y="1664.4" font-family="Carlito, 'Liberation Sans', sans-serif" font-size="24" font-weight="bold" fill="#ff0000" textLength="42.9" lengthAdjust="spacingAndGlyphs">0.68</text>
<text x="676.42" y="1696" font-family="Carlito, 'Liberation Sans', sans-serif" font-size="24" font-weight="bold" fill="#ff0000" textLength="42.9" lengthAdjust="spacingAndGlyphs">0.92</text>
<line x1="64.2" y1="1132.9" x2="74" y2="1144.7" stroke="#ff0000" stroke-width="1.3"/>
<line x1="347" y1="1533" x2="336.5" y2="1540.7" stroke="#ff0000" stroke-width="1.3"/>
<line x1="657.2" y1="1636.4" x2="647.7" y2="1644.8" stroke="#ff0000" stroke-width="1.3"/>
<rect x="834.9" y="766.1" width="62.2" height="31.8" fill="#2e8b57"/>
<text x="840.36" y="789.8" font-family="'Liberation Sans', Arial, sans-serif" font-size="21.6" font-weight="bold" textLength="50.4" lengthAdjust="spacingAndGlyphs">H1-A</text>
<rect x="832.8" y="813.6" width="63.6" height="31.8" fill="#7f7f7f"/>
<text x="847.75" y="837.3" font-family="'Liberation Sans', Arial, sans-serif" font-size="21.6" font-weight="bold" textLength="32.4" lengthAdjust="spacingAndGlyphs">MV</text>
<rect x="832.8" y="864" width="63.6" height="31.8" fill="#ff69b4"/>
<text x="838.74" y="887.7" font-family="'Liberation Sans', Arial, sans-serif" font-size="21.6" font-weight="bold" textLength="51.61" lengthAdjust="spacingAndGlyphs">H1-G</text>
<rect x="832.8" y="918.6" width="63.6" height="31.8" fill="#00ffff"/>
<text x="839.69" y="942.3" font-family="'Liberation Sans', Arial, sans-serif" font-size="21.6" font-weight="bold" textLength="49.21" lengthAdjust="spacingAndGlyphs">H1-E</text>
<rect x="832.8" y="966.2" width="63.6" height="31.8" fill="#a9a9a9"/>
<text x="850.18" y="989.9" font-family="'Liberation Sans', Arial, sans-serif" font-size="21.6" font-weight="bold" textLength="28.79" lengthAdjust="spacingAndGlyphs">TK</text>
<rect x="832.8" y="1020.9" width="63.6" height="31.8" fill="#cd5cf0"/>
<text x="838.97" y="1044.6" font-family="'Liberation Sans', Arial, sans-serif" font-size="21.6" font-weight="bold" textLength="50.4" lengthAdjust="spacingAndGlyphs">H2-C</text>
<rect x="834.1" y="1067.9" width="62.3" height="31.8" fill="#d9d9d9"/>
<text x="850.07" y="1091.6" font-family="'Liberation Sans', Arial, sans-serif" font-size="21.6" font-weight="bold" textLength="30.01" lengthAdjust="spacingAndGlyphs">AX</text>
<rect x="832.8" y="1122.8" width="63.6" height="31.8" fill="#ffff00"/>
<text x="850.4" y="1146.5" font-family="'Liberation Sans', Arial, sans-serif" font-size="21.6" font-weight="bold" textLength="27.61" lengthAdjust="spacingAndGlyphs">H8</text>
<rect x="832.8" y="1173.3" width="63.6" height="31.8" fill="#ff82ab"/>
<text x="844.51" y="1197" font-family="'Liberation Sans', Arial, sans-serif" font-size="21.6" font-weight="bold" textLength="39.62" lengthAdjust="spacingAndGlyphs">H10</text>
<rect x="832.8" y="1221.6" width="63.6" height="31.8" fill="#9b30ff"/>
<text x="849.3" y="1245.3" font-family="'Liberation Sans', Arial, sans-serif" font-size="21.6" font-weight="bold" textLength="30.01" lengthAdjust="spacingAndGlyphs">KE</text>
<rect x="832.8" y="1275.4" width="63.6" height="31.8" fill="#cd5c5c"/>
<text x="850.47" y="1299.1" font-family="'Liberation Sans', Arial, sans-serif" font-size="21.6" font-weight="bold" textLength="27.61" lengthAdjust="spacingAndGlyphs">H9</text>
<rect x="832.8" y="1325.3" width="63.6" height="31.8" fill="#ffc125"/>
<text x="850.13" y="1349" font-family="'Liberation Sans', Arial, sans-serif" font-size="21.6" font-weight="bold" textLength="27.61" lengthAdjust="spacingAndGlyphs">H4</text>
<rect x="832.8" y="1375.5" width="63.6" height="31.8" fill="#ffe4b5"/>
<text x="850.55" y="1399.2" font-family="'Liberation Sans', Arial, sans-serif" font-size="21.6" font-weight="bold" textLength="27.61" lengthAdjust="spacingAndGlyphs">H7</text>
<rect x="832.8" y="1427.3" width="63.6" height="31.8" fill="#1874cd"/>
<text x="850.37" y="1451" font-family="'Liberation Sans', Arial, sans-serif" font-size="21.6" font-weight="bold" textLength="27.61" lengthAdjust="spacingAndGlyphs">H5</text>
<rect x="832.8" y="1478.3" width="63.6" height="31.8" fill="#8b4513"/>
<text x="850.46" y="1502" font-family="'Liberation Sans', Arial, sans-serif" font-size="21.6" font-weight="bold" textLength="27.61" lengthAdjust="spacingAndGlyphs">H3</text>
<rect x="832.8" y="1530.1" width="63.6" height="31.8" fill="#ee2c2c"/>
<text x="838.96" y="1553.8" font-family="'Liberation Sans', Arial, sans-serif" font-size="21.6" font-weight="bold" textLength="50.4" lengthAdjust="spacingAndGlyphs">H2-A</text>
<rect x="832.8" y="1578.1" width="63.6" height="31.8" fill="#ff7f24"/>
<text x="850.46" y="1601.8" font-family="'Liberation Sans', Arial, sans-serif" font-size="21.6" font-weight="bold" textLength="27.61" lengthAdjust="spacingAndGlyphs">H6</text>
<rect x="832.8" y="1630.9" width="63.6" height="31.8" fill="#add8e6"/>
<text x="840.27" y="1654.6" font-family="'Liberation Sans', Arial, sans-serif" font-size="21.6" font-weight="bold" textLength="48" lengthAdjust="spacingAndGlyphs">H1-F</text>
<rect x="832.8" y="1680.2" width="63.6" height="31.8" fill="#8db6e8"/>
<text x="839.17" y="1703.9" font-family="'Liberation Sans', Arial, sans-serif" font-size="21.6" font-weight="bold" textLength="50.4" lengthAdjust="spacingAndGlyphs">H2-B</text>
<rect x="1037.3" y="1031.13" width="39.2" height="21.27" fill="#2e8b57"/><path d="M1037.8 1039.46L1039.3 1031.13M1045.37 1052.4L1049.2 1031.13M1055.27 1052.4L1059.1 1031.13M1065.17 1052.4L1069 1031.13M1075.07 1052.4L1076 1047.24" stroke="#fff" stroke-width="1.3" fill="none"/><rect x="1082.98" y="1026.17" width="39.2" height="26.23" fill="#2e8b57"/><path d="M1082.48 1033.2H1122.68M1082.48 1042.8H1122.68M1082.48 1052H1122.68" stroke="#ff69b4" stroke-width="2.6" stroke-linecap="round" fill="none"/><rect x="1128.66" y="1032.19" width="39.2" height="20.21" fill="#2e8b57"/><path d="M1128.16 1033.6H1168.36M1128.16 1043.2H1168.36" stroke="#d9d9d9" stroke-width="2.6" stroke-linecap="round" fill="none"/><rect x="1174.34" y="1034.94" width="39.2" height="17.46" fill="#2e8b57"/><rect x="1174.34" y="1016.95" width="39.2" height="18.79" fill="#ffff00"/><rect x="1220.02" y="988.59" width="39.2" height="63.81" fill="#2e8b57"/><path d="M1219.52 994.3H1259.72M1219.52 1003.9H1259.72M1219.52 1013.5H1259.72M1219.52 1023.1H1259.72M1219.52 1033.2H1259.72M1219.52 1042.8H1259.72M1219.52 1052H1259.72" stroke="#ff82ab" stroke-width="2.6" stroke-linecap="round" fill="none"/><rect x="1265.7" y="1040.97" width="39.2" height="11.43" fill="#2e8b57"/><rect x="1265.7" y="1036.45" width="39.2" height="5.32" fill="#ffc125"/><rect x="1311.38" y="1041.67" width="39.2" height="10.73" fill="#2e8b57"/><rect x="1311.38" y="1031.13" width="39.2" height="11.34" fill="#ffe4b5"/><rect x="1357.06" y="1005.52" width="39.2" height="46.88" fill="#2e8b57"/><rect x="1357.06" y="964.48" width="39.2" height="41.83" fill="#8b4513"/><rect x="1402.74" y="1003.74" width="39.2" height="48.66" fill="#2e8b57"/><rect x="1402.74" y="980.79" width="39.2" height="23.75" fill="#ee2c2c"/><text x="1415.3" y="988.3" font-family="'Liberation Sans', Arial, sans-serif" font-size="36" font-weight="bold">*</text><rect x="1448.42" y="1035.65" width="39.2" height="16.75" fill="#2e8b57"/><rect x="1448.42" y="1024.75" width="39.2" height="11.7" fill="#ff7f24"/><rect x="1494.1" y="1043.45" width="39.2" height="8.95" fill="#2e8b57"/><rect x="1494.1" y="1019.43" width="39.2" height="24.82" fill="#add8e6"/><rect x="1539.78" y="1049.12" width="39.2" height="3.28" fill="#00ffff"/><rect x="1539.78" y="1047.08" width="39.2" height="2.84" fill="#ffe4b5"/><text x="1591.09" y="1047.6" font-family="'Liberation Sans', Arial, sans-serif" font-size="20" textLength="27.8" lengthAdjust="spacingAndGlyphs">n/a</text><rect x="1631.14" y="991.43" width="39.2" height="60.97" fill="#ffe4b5"/><rect x="1676.82" y="1030.07" width="39.2" height="22.33" fill="#ee2c2c"/>
<path d="M1010.7 1052.4V804H1742.5V1052.4H1010.7" fill="none" stroke="#333" stroke-width="1.6"/>
<line x1="1005.2" y1="804" x2="1010.7" y2="804" stroke="#333" stroke-width="1.4"/>
<text x="970.15" y="813.64" font-family="'Liberation Sans', Arial, sans-serif" font-size="28" textLength="31.14" lengthAdjust="spacingAndGlyphs">50</text>
<line x1="1005.2" y1="875.15" x2="1010.7" y2="875.15" stroke="#333" stroke-width="1.4"/>
<text x="985.8" y="884.65" font-family="'Liberation Sans', Arial, sans-serif" font-size="28">5</text>
<line x1="1005.2" y1="910.6" x2="1010.7" y2="910.6" stroke="#333" stroke-width="1.4"/>
<text x="985.45" y="920.23" font-family="'Liberation Sans', Arial, sans-serif" font-size="28">4</text>
<line x1="1005.2" y1="946.05" x2="1010.7" y2="946.05" stroke="#333" stroke-width="1.4"/>
<text x="985.86" y="955.69" font-family="'Liberation Sans', Arial, sans-serif" font-size="28">3</text>
<line x1="1005.2" y1="981.5" x2="1010.7" y2="981.5" stroke="#333" stroke-width="1.4"/>
<text x="986.04" y="991.28" font-family="'Liberation Sans', Arial, sans-serif" font-size="28">2</text>
<line x1="1005.2" y1="1016.95" x2="1010.7" y2="1016.95" stroke="#333" stroke-width="1.4"/>
<text x="985.99" y="1026.58" font-family="'Liberation Sans', Arial, sans-serif" font-size="28">1</text>
<line x1="1005.2" y1="1052.4" x2="1010.7" y2="1052.4" stroke="#333" stroke-width="1.4"/>
<text x="985.72" y="1062.04" font-family="'Liberation Sans', Arial, sans-serif" font-size="28">0</text>
<text x="1323.73" y="838.3" font-family="Carlito, 'Liberation Sans', sans-serif" font-size="40.8" font-weight="bold" textLength="110.45" lengthAdjust="spacingAndGlyphs">leaves</text>
<rect x="1007" y="833" width="8" height="10" fill="#fff"/>
<path d="M1003.5 836.5L1019.5 830.5M1003.5 842.5L1019.5 836.5" stroke="#1a6b3c" stroke-width="1.6" fill="none"/>
<text transform="translate(947.58 956.53) rotate(-90)" font-family="'Liberation Sans', Arial, sans-serif" font-size="20" font-weight="bold" textLength="56.66" lengthAdjust="spacingAndGlyphs">FPKM</text>
<rect x="1012.1" y="1077" width="25.5" height="172.2" rx="1.5" fill="#fff" stroke="#222" stroke-width="1.4"/><line x1="1012.1" y1="1163.3" x2="1037.6" y2="1163.3" stroke="#222" stroke-width="1.4"/>
<text stroke="#000" stroke-width="0.35" transform="translate(1032.18 1143.44) rotate(-90)" font-family="'Liberation Sans', Arial, sans-serif" font-size="20" textLength="44.49" lengthAdjust="spacingAndGlyphs">hap2</text>
<text stroke="#000" stroke-width="0.35" transform="translate(1032.18 1228.95) rotate(-90)" font-family="'Liberation Sans', Arial, sans-serif" font-size="20" textLength="44.49" lengthAdjust="spacingAndGlyphs">hap1</text>
<rect x="1042.6" y="1162.3" width="25.4" height="86.9" fill="#2e8b57"/>
<rect x="1042.6" y="1078" width="25.4" height="85.3" fill="#2e8b57"/>
<text transform="translate(1062.18 1144.24) rotate(-90)" font-family="'Liberation Sans', Arial, sans-serif" font-size="20" font-weight="bold" textLength="46.67" lengthAdjust="spacingAndGlyphs">H1-A</text>
<text transform="translate(1062.18 1230.04) rotate(-90)" font-family="'Liberation Sans', Arial, sans-serif" font-size="20" font-weight="bold" textLength="46.67" lengthAdjust="spacingAndGlyphs">H1-A</text>
<rect x="1088.4" y="1162.3" width="25.4" height="86.9" fill="#2e8b57"/>
<rect x="1088.4" y="1078" width="25.4" height="85.3" fill="#ff69b4"/>
<text transform="translate(1107.98 1144.44) rotate(-90)" font-family="'Liberation Sans', Arial, sans-serif" font-size="20" font-weight="bold" textLength="47.78" lengthAdjust="spacingAndGlyphs">H1-G</text>
<text transform="translate(1107.98 1230.04) rotate(-90)" font-family="'Liberation Sans', Arial, sans-serif" font-size="20" font-weight="bold" textLength="46.67" lengthAdjust="spacingAndGlyphs">H1-A</text>
<rect x="1138" y="1162.3" width="25.4" height="86.9" fill="#2e8b57"/>
<rect x="1138" y="1078" width="25.4" height="85.3" fill="#d9d9d9"/>
<text transform="translate(1157.58 1134.55) rotate(-90)" font-family="'Liberation Sans', Arial, sans-serif" font-size="20" font-weight="bold" textLength="27.78" lengthAdjust="spacingAndGlyphs">AX</text>
<text transform="translate(1157.58 1230.04) rotate(-90)" font-family="'Liberation Sans', Arial, sans-serif" font-size="20" font-weight="bold" textLength="46.67" lengthAdjust="spacingAndGlyphs">H1-A</text>
<rect x="1181" y="1162.3" width="25.4" height="86.9" fill="#2e8b57"/>
<rect x="1181" y="1078" width="25.4" height="85.3" fill="#ffff00"/>
<text transform="translate(1200.58 1133.64) rotate(-90)" font-family="'Liberation Sans', Arial, sans-serif" font-size="20" font-weight="bold" textLength="25.57" lengthAdjust="spacingAndGlyphs">H8</text>
<text transform="translate(1200.58 1230.04) rotate(-90)" font-family="'Liberation Sans', Arial, sans-serif" font-size="20" font-weight="bold" textLength="46.67" lengthAdjust="spacingAndGlyphs">H1-A</text>
<rect x="1228.4" y="1162.3" width="25.4" height="86.9" fill="#2e8b57"/>
<rect x="1228.4" y="1078" width="25.4" height="85.3" fill="#ff82ab"/>
<text transform="translate(1247.98 1139.1) rotate(-90)" font-family="'Liberation Sans', Arial, sans-serif" font-size="20" font-weight="bold" textLength="36.69" lengthAdjust="spacingAndGlyphs">H10</text>
<text transform="translate(1247.98 1230.04) rotate(-90)" font-family="'Liberation Sans', Arial, sans-serif" font-size="20" font-weight="bold" textLength="46.67" lengthAdjust="spacingAndGlyphs">H1-A</text>
<rect x="1273.4" y="1162.3" width="25.4" height="86.9" fill="#2e8b57"/>
<rect x="1273.4" y="1078" width="25.4" height="85.3" fill="#ffc125"/>
<text transform="translate(1292.98 1133.9) rotate(-90)" font-family="'Liberation Sans', Arial, sans-serif" font-size="20" font-weight="bold" textLength="25.57" lengthAdjust="spacingAndGlyphs">H4</text>
<text transform="translate(1292.98 1230.04) rotate(-90)" font-family="'Liberation Sans', Arial, sans-serif" font-size="20" font-weight="bold" textLength="46.67" lengthAdjust="spacingAndGlyphs">H1-A</text>
<rect x="1316.1" y="1162.3" width="25.4" height="86.9" fill="#2e8b57"/>
<rect x="1316.1" y="1078" width="25.4" height="85.3" fill="#ffe4b5"/>
<text transform="translate(1335.68 1133.51) rotate(-90)" font-family="'Liberation Sans', Arial, sans-serif" font-size="20" font-weight="bold" textLength="25.57" lengthAdjust="spacingAndGlyphs">H7</text>
<text transform="translate(1335.68 1230.04) rotate(-90)" font-family="'Liberation Sans', Arial, sans-serif" font-size="20" font-weight="bold" textLength="46.67" lengthAdjust="spacingAndGlyphs">H1-A</text>
<rect x="1365.9" y="1162.3" width="25.4" height="86.9" fill="#2e8b57"/>
<rect x="1365.9" y="1078" width="25.4" height="85.3" fill="#8b4513"/>
<text transform="translate(1385.48 1133.59) rotate(-90)" font-family="'Liberation Sans', Arial, sans-serif" font-size="20" font-weight="bold" textLength="25.57" lengthAdjust="spacingAndGlyphs">H3</text>
<text transform="translate(1385.48 1230.04) rotate(-90)" font-family="'Liberation Sans', Arial, sans-serif" font-size="20" font-weight="bold" textLength="46.67" lengthAdjust="spacingAndGlyphs">H1-A</text>
<rect x="1411" y="1162.3" width="25.4" height="86.9" fill="#2e8b57"/>
<rect x="1411" y="1078" width="25.4" height="85.3" fill="#ee2c2c"/>
<text transform="translate(1430.58 1144.24) rotate(-90)" font-family="'Liberation Sans', Arial, sans-serif" font-size="20" font-weight="bold" textLength="46.67" lengthAdjust="spacingAndGlyphs">H2-A</text>
<text transform="translate(1430.58 1230.04) rotate(-90)" font-family="'Liberation Sans', Arial, sans-serif" font-size="20" font-weight="bold" textLength="46.67" lengthAdjust="spacingAndGlyphs">H1-A</text>
<rect x="1455.1" y="1162.3" width="25.4" height="86.9" fill="#2e8b57"/>
<rect x="1455.1" y="1078" width="25.4" height="85.3" fill="#ff7f24"/>
<text transform="translate(1474.68 1133.59) rotate(-90)" font-family="'Liberation Sans', Arial, sans-serif" font-size="20" font-weight="bold" textLength="25.57" lengthAdjust="spacingAndGlyphs">H6</text>
<text transform="translate(1474.68 1230.04) rotate(-90)" font-family="'Liberation Sans', Arial, sans-serif" font-size="20" font-weight="bold" textLength="46.67" lengthAdjust="spacingAndGlyphs">H1-A</text>
<rect x="1501.1" y="1162.3" width="25.4" height="86.9" fill="#2e8b57"/>
<rect x="1501.1" y="1078" width="25.4" height="85.3" fill="#add8e6"/>
<text transform="translate(1520.68 1143.02) rotate(-90)" font-family="'Liberation Sans', Arial, sans-serif" font-size="20" font-weight="bold" textLength="44.44" lengthAdjust="spacingAndGlyphs">H1-F</text>
<text transform="translate(1520.68 1230.04) rotate(-90)" font-family="'Liberation Sans', Arial, sans-serif" font-size="20" font-weight="bold" textLength="46.67" lengthAdjust="spacingAndGlyphs">H1-A</text>
<rect x="1546.2" y="1162.3" width="25.4" height="86.9" fill="#00ffff"/>
<rect x="1546.2" y="1078" width="25.4" height="85.3" fill="#ffe4b5"/>
<text transform="translate(1565.78 1133.51) rotate(-90)" font-family="'Liberation Sans', Arial, sans-serif" font-size="20" font-weight="bold" textLength="25.57" lengthAdjust="spacingAndGlyphs">H7</text>
<text transform="translate(1565.78 1229.36) rotate(-90)" font-family="'Liberation Sans', Arial, sans-serif" font-size="20" font-weight="bold" textLength="45.57" lengthAdjust="spacingAndGlyphs">H1-E</text>
<rect x="1589.8" y="1162.3" width="25.4" height="86.9" fill="#00ffff"/>
<rect x="1589.8" y="1078" width="25.4" height="85.3" fill="#ee2c2c"/>
<text transform="translate(1609.38 1144.24) rotate(-90)" font-family="'Liberation Sans', Arial, sans-serif" font-size="20" font-weight="bold" textLength="46.67" lengthAdjust="spacingAndGlyphs">H2-A</text>
<text transform="translate(1609.38 1229.36) rotate(-90)" font-family="'Liberation Sans', Arial, sans-serif" font-size="20" font-weight="bold" textLength="45.57" lengthAdjust="spacingAndGlyphs">H1-E</text>
<rect x="1637.3" y="1162.3" width="25.4" height="86.9" fill="#ffe4b5"/>
<rect x="1637.3" y="1078" width="25.4" height="85.3" fill="#ffe4b5"/>
<text transform="translate(1656.88 1133.51) rotate(-90)" font-family="'Liberation Sans', Arial, sans-serif" font-size="20" font-weight="bold" textLength="25.57" lengthAdjust="spacingAndGlyphs">H7</text>
<text transform="translate(1656.88 1219.31) rotate(-90)" font-family="'Liberation Sans', Arial, sans-serif" font-size="20" font-weight="bold" textLength="25.57" lengthAdjust="spacingAndGlyphs">H7</text>
<rect x="1684.7" y="1162.3" width="25.4" height="86.9" fill="#add8e6"/>
<rect x="1684.7" y="1078" width="25.4" height="85.3" fill="#ee2c2c"/>
<text transform="translate(1704.28 1144.24) rotate(-90)" font-family="'Liberation Sans', Arial, sans-serif" font-size="20" font-weight="bold" textLength="46.67" lengthAdjust="spacingAndGlyphs">H2-A</text>
<text transform="translate(1704.28 1228.82) rotate(-90)" font-family="'Liberation Sans', Arial, sans-serif" font-size="20" font-weight="bold" textLength="44.44" lengthAdjust="spacingAndGlyphs">H1-F</text>
<rect x="1037.3" y="1308" width="39.2" height="210.5" fill="#2e8b57"/><path d="M1037.8 1472.51L1039.3 1464.3M1039.3 1518.5L1049.2 1464.3M1049.2 1518.5L1059.1 1464.3M1059.1 1518.5L1069 1464.3M1069 1518.5L1076 1480.18M1037.8 1417.51L1039.3 1409.3M1039.3 1463.5L1049.2 1409.3M1049.2 1463.5L1059.1 1409.3M1059.1 1463.5L1069 1409.3M1069 1463.5L1076 1425.18M1037.8 1362.51L1039.3 1354.3M1039.3 1408.5L1049.2 1354.3M1049.2 1408.5L1059.1 1354.3M1059.1 1408.5L1069 1354.3M1069 1408.5L1076 1370.18M1037.8 1316.33L1039.3 1308M1041.01 1353.5L1049.2 1308M1050.91 1353.5L1059.1 1308M1060.81 1353.5L1069 1308M1070.71 1353.5L1076 1324.11" stroke="#fff" stroke-width="1.3" fill="none"/><rect x="1082.98" y="1441" width="39.2" height="77.5" fill="#2e8b57"/><path d="M1082.48 1509.4H1122.68M1082.48 1499.62H1122.68M1082.48 1489.84H1122.68M1082.48 1480.06H1122.68M1082.48 1470.28H1122.68M1082.48 1460.5H1122.68M1082.48 1450.72H1122.68M1082.48 1440.94H1122.68" stroke="#ff69b4" stroke-width="2.6" stroke-linecap="round" fill="none"/><rect x="1128.66" y="1379.4" width="39.2" height="139.1" fill="#2e8b57"/><rect x="1128.66" y="1379.4" width="39.2" height="139.1" fill="#2e8b57"/><path d="M1128.16 1509.4H1168.36M1128.16 1499.62H1168.36M1128.16 1489.84H1168.36M1128.16 1480.06H1168.36M1128.16 1470.28H1168.36M1128.16 1460.5H1168.36M1128.16 1450.72H1168.36M1128.16 1440.94H1168.36M1128.16 1431.16H1168.36M1128.16 1421.38H1168.36M1128.16 1411.6H1168.36M1128.16 1401.82H1168.36M1128.16 1392.04H1168.36M1128.16 1382.26H1168.36" stroke="#d9d9d9" stroke-width="2.6" stroke-linecap="round" fill="none"/><rect x="1174.34" y="1458.8" width="39.2" height="59.7" fill="#2e8b57"/><rect x="1174.34" y="1400.3" width="39.2" height="59.3" fill="#ffff00"/><rect x="1220.02" y="1383.5" width="39.2" height="135" fill="#2e8b57"/><path d="M1219.52 1509.4H1259.72M1219.52 1499.62H1259.72M1219.52 1489.84H1259.72M1219.52 1480.06H1259.72M1219.52 1470.28H1259.72M1219.52 1460.5H1259.72M1219.52 1450.72H1259.72M1219.52 1440.94H1259.72M1219.52 1431.16H1259.72M1219.52 1421.38H1259.72M1219.52 1411.6H1259.72M1219.52 1401.82H1259.72M1219.52 1392.04H1259.72" stroke="#ff82ab" stroke-width="2.6" stroke-linecap="round" fill="none"/><rect x="1265.7" y="1417.5" width="39.2" height="101" fill="#2e8b57"/><rect x="1265.7" y="1416.8" width="39.2" height="1.5" fill="#ffc125"/><text x="1278.26" y="1423.3" font-family="'Liberation Sans', Arial, sans-serif" font-size="36" font-weight="bold">*</text><rect x="1311.38" y="1458.7" width="39.2" height="59.8" fill="#2e8b57"/><rect x="1311.38" y="1458" width="39.2" height="1.5" fill="#ffe4b5"/><text x="1323.94" y="1464" font-family="'Liberation Sans', Arial, sans-serif" font-size="36" font-weight="bold">*</text><rect x="1357.06" y="1462.3" width="39.2" height="56.2" fill="#2e8b57"/><rect x="1357.06" y="1457" width="39.2" height="6.1" fill="#8b4513"/><text x="1369.62" y="1462.6" font-family="'Liberation Sans', Arial, sans-serif" font-size="36" font-weight="bold">*</text><rect x="1402.74" y="1454.4" width="39.2" height="64.1" fill="#2e8b57"/><rect x="1402.74" y="1452.4" width="39.2" height="2.8" fill="#ee2c2c"/><text x="1415.3" y="1458" font-family="'Liberation Sans', Arial, sans-serif" font-size="36" font-weight="bold">*</text><rect x="1448.42" y="1442.8" width="39.2" height="75.7" fill="#2e8b57"/><rect x="1448.42" y="1439" width="39.2" height="4.6" fill="#ff7f24"/><text x="1460.98" y="1445.4" font-family="'Liberation Sans', Arial, sans-serif" font-size="36" font-weight="bold">*</text><rect x="1494.1" y="1449.2" width="39.2" height="69.3" fill="#2e8b57"/><rect x="1494.1" y="1445" width="39.2" height="5" fill="#add8e6"/><text x="1506.66" y="1451.4" font-family="'Liberation Sans', Arial, sans-serif" font-size="36" font-weight="bold">*</text><rect x="1539.78" y="1443" width="39.2" height="75.5" fill="#00ffff"/><rect x="1539.78" y="1442.4" width="39.2" height="1.4" fill="#ffe4b5"/><text x="1552.34" y="1449" font-family="'Liberation Sans', Arial, sans-serif" font-size="36" font-weight="bold">*</text><rect x="1585.46" y="1427.8" width="39.2" height="90.7" fill="#00ffff"/><rect x="1585.46" y="1423.4" width="39.2" height="5.2" fill="#ee2c2c"/><text x="1598.02" y="1429.8" font-family="'Liberation Sans', Arial, sans-serif" font-size="36" font-weight="bold">*</text><rect x="1631.14" y="1516.4" width="39.2" height="2.1" fill="#ffe4b5"/><rect x="1676.82" y="1507.8" width="39.2" height="10.7" fill="#add8e6"/><rect x="1676.82" y="1499.4" width="39.2" height="9.2" fill="#ee2c2c"/>
<rect x="1010.7" y="1270" width="731.8" height="248.5" fill="none" stroke="#333" stroke-width="1.6"/>
<line x1="1005.2" y1="1270" x2="1010.7" y2="1270" stroke="#333" stroke-width="1.4"/>
<text x="970.15" y="1279.64" font-family="'Liberation Sans', Arial, sans-serif" font-size="28" textLength="31.14" lengthAdjust="spacingAndGlyphs">50</text>
<line x1="1005.2" y1="1319.7" x2="1010.7" y2="1319.7" stroke="#333" stroke-width="1.4"/>
<text x="970.15" y="1329.34" font-family="'Liberation Sans', Arial, sans-serif" font-size="28" textLength="31.14" lengthAdjust="spacingAndGlyphs">40</text>
<line x1="1005.2" y1="1369.4" x2="1010.7" y2="1369.4" stroke="#333" stroke-width="1.4"/>
<text x="970.15" y="1379.04" font-family="'Liberation Sans', Arial, sans-serif" font-size="28" textLength="31.14" lengthAdjust="spacingAndGlyphs">30</text>
<line x1="1005.2" y1="1419.1" x2="1010.7" y2="1419.1" stroke="#333" stroke-width="1.4"/>
<text x="970.15" y="1428.74" font-family="'Liberation Sans', Arial, sans-serif" font-size="28" textLength="31.14" lengthAdjust="spacingAndGlyphs">20</text>
<line x1="1005.2" y1="1468.8" x2="1010.7" y2="1468.8" stroke="#333" stroke-width="1.4"/>
<text x="970.15" y="1478.44" font-family="'Liberation Sans', Arial, sans-serif" font-size="28" textLength="31.14" lengthAdjust="spacingAndGlyphs">10</text>
<line x1="1005.2" y1="1518.5" x2="1010.7" y2="1518.5" stroke="#333" stroke-width="1.4"/>
<text x="985.72" y="1528.14" font-family="'Liberation Sans', Arial, sans-serif" font-size="28">0</text>
<text x="1228.04" y="1313.3" font-family="Carlito, 'Liberation Sans', sans-serif" font-size="40.8" font-weight="bold" textLength="298.03" lengthAdjust="spacingAndGlyphs">softening berries</text>
<text transform="translate(947.58 1422.83) rotate(-90)" font-family="'Liberation Sans', Arial, sans-serif" font-size="20" font-weight="bold" textLength="56.66" lengthAdjust="spacingAndGlyphs">FPKM</text>
<text transform="translate(1062.43 1711.9) rotate(-90)" font-family="Carlito, 'Liberation Sans', sans-serif" font-size="30" font-weight="bold" textLength="186.21" lengthAdjust="spacingAndGlyphs">Savagnin Blanc</text>
<text transform="translate(1108.11 1674.2) rotate(-90)" font-family="Carlito, 'Liberation Sans', sans-serif" font-size="30" font-weight="bold" textLength="149.11" lengthAdjust="spacingAndGlyphs">Vermentino</text>
<text transform="translate(1153.79 1699.83) rotate(-90)" font-family="Carlito, 'Liberation Sans', sans-serif" font-size="30" font-weight="bold" textLength="175.2" lengthAdjust="spacingAndGlyphs">Alexandroouli</text>
<text transform="translate(1199.47 1714.53) rotate(-90)" font-family="Carlito, 'Liberation Sans', sans-serif" font-size="30" font-weight="bold" textLength="188.83" lengthAdjust="spacingAndGlyphs">Cabernet Franc</text>
<text transform="translate(1245.15 1668.87) rotate(-90)" font-family="Carlito, 'Liberation Sans', sans-serif" font-size="30" font-weight="bold" textLength="144.42" lengthAdjust="spacingAndGlyphs">Sciavtsitska</text>
<text transform="translate(1290.83 1706.12) rotate(-90)" font-family="Carlito, 'Liberation Sans', sans-serif" font-size="30" font-weight="bold" textLength="180.44" lengthAdjust="spacingAndGlyphs">Welschriesling</text>
<text transform="translate(1336.51 1652.23) rotate(-90)" font-family="Carlito, 'Liberation Sans', sans-serif" font-size="30" font-weight="bold" textLength="126.67" lengthAdjust="spacingAndGlyphs">Pinot Noir</text>
<text transform="translate(1382.19 1640.71) rotate(-90)" font-family="Carlito, 'Liberation Sans', sans-serif" font-size="30" font-weight="bold" textLength="116.07" lengthAdjust="spacingAndGlyphs">Rkatsiteli</text>
<text transform="translate(1427.87 1672.06) rotate(-90)" font-family="Carlito, 'Liberation Sans', sans-serif" font-size="30" font-weight="bold" textLength="147.83" lengthAdjust="spacingAndGlyphs">Refosco p.r.</text>
<text transform="translate(1473.55 1623.41) rotate(-90)" font-family="Carlito, 'Liberation Sans', sans-serif" font-size="30" font-weight="bold" textLength="98.32" lengthAdjust="spacingAndGlyphs">Terrano</text>
<text transform="translate(1519.23 1658.3) rotate(-90)" font-family="Carlito, 'Liberation Sans', sans-serif" font-size="30" font-weight="bold" textLength="133.86" lengthAdjust="spacingAndGlyphs">Garganega</text>
<text transform="translate(1564.91 1641.12) rotate(-90)" font-family="Carlito, 'Liberation Sans', sans-serif" font-size="30" font-weight="bold" textLength="116.03" lengthAdjust="spacingAndGlyphs">Cesanese</text>
<text transform="translate(1610.59 1635.1) rotate(-90)" font-family="Carlito, 'Liberation Sans', sans-serif" font-size="30" font-weight="bold" textLength="110.01" lengthAdjust="spacingAndGlyphs">Pecorino</text>
<text transform="translate(1656.27 1658.41) rotate(-90)" font-family="Carlito, 'Liberation Sans', sans-serif" font-size="30" font-weight="bold" textLength="133.32" lengthAdjust="spacingAndGlyphs">Berzamino</text>
<text transform="translate(1701.95 1692.05) rotate(-90)" font-family="Carlito, 'Liberation Sans', sans-serif" font-size="30" font-weight="bold" textLength="166.96" lengthAdjust="spacingAndGlyphs">Gordin Verde</text>
</svg></body></html>
